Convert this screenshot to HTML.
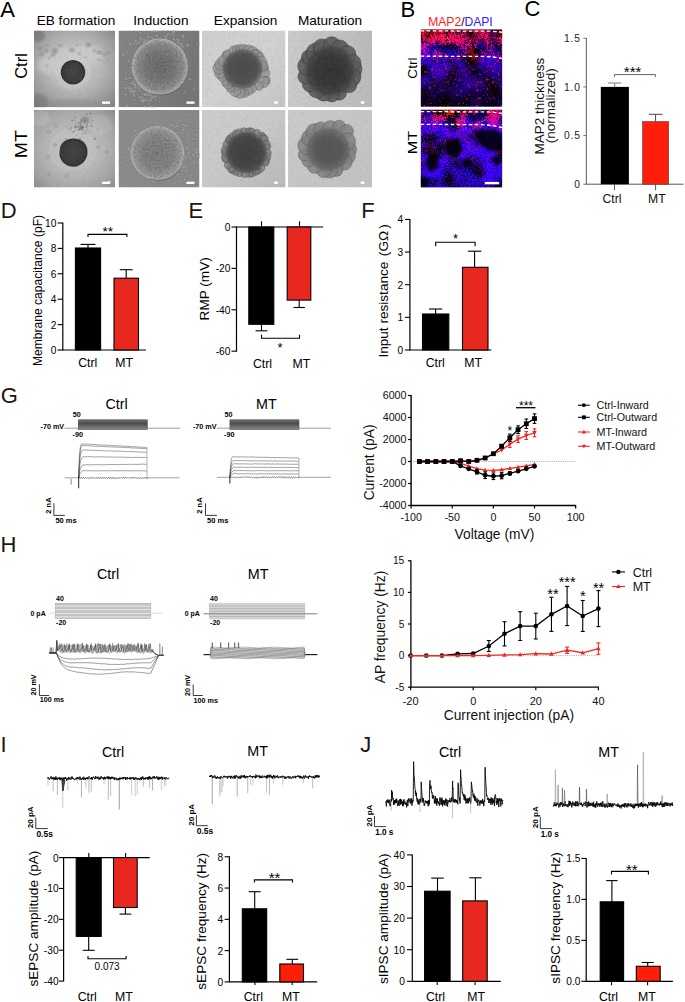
<!DOCTYPE html>
<html><head><meta charset="utf-8"><style>
html,body{margin:0;padding:0;background:#fff;width:685px;height:1002px;overflow:hidden}
svg{display:block}
text{font-family:"Liberation Sans", sans-serif}
</style></head><body>
<svg width="685" height="1002" viewBox="0 0 685 1002" font-family='"Liberation Sans", sans-serif'><defs><clipPath id="ct00"><rect x="34" y="30.5" width="81" height="76.8"/></clipPath><clipPath id="ct01"><rect x="34" y="110" width="81" height="77.5"/></clipPath><clipPath id="ct10"><rect x="118.5" y="30.5" width="81" height="76.8"/></clipPath><clipPath id="ct11"><rect x="118.5" y="110" width="81" height="77.5"/></clipPath><clipPath id="ct20"><rect x="202" y="30.5" width="83.5" height="76.8"/></clipPath><clipPath id="ct21"><rect x="202" y="110" width="83.5" height="77.5"/></clipPath><clipPath id="ct30"><rect x="288" y="30.5" width="84" height="76.8"/></clipPath><clipPath id="ct31"><rect x="288" y="110" width="84" height="77.5"/></clipPath>
<radialGradient id="gEB1" cx="0.48" cy="0.52" r="0.75"><stop offset="0" stop-color="#c4c4c4"/><stop offset="0.45" stop-color="#cdcdcd"/><stop offset="0.75" stop-color="#a6a6a6"/><stop offset="1" stop-color="#6e6e6e"/></radialGradient>
<radialGradient id="gEB2" cx="0.5" cy="0.5" r="0.75"><stop offset="0" stop-color="#bdbdbd"/><stop offset="0.5" stop-color="#c2c2c2"/><stop offset="0.8" stop-color="#a4a4a4"/><stop offset="1" stop-color="#888"/></radialGradient>
<radialGradient id="gDark" cx="0.5" cy="0.5" r="0.5"><stop offset="0" stop-color="#3a3a3a"/><stop offset="0.85" stop-color="#2e2e2e"/><stop offset="1" stop-color="#4a4a4a"/></radialGradient>
<radialGradient id="gSph1" cx="0.45" cy="0.55" r="0.5"><stop offset="0" stop-color="#6a6a6a"/><stop offset="0.7" stop-color="#8a8a8a"/><stop offset="0.92" stop-color="#b0b0b0"/><stop offset="1" stop-color="#c8c8c8"/></radialGradient>
<radialGradient id="gSph2" cx="0.5" cy="0.5" r="0.5"><stop offset="0" stop-color="#7a7a7a"/><stop offset="0.75" stop-color="#939393"/><stop offset="0.93" stop-color="#b2b2b2"/><stop offset="1" stop-color="#c4c4c4"/></radialGradient>
<linearGradient id="gInd1" x1="0" y1="0" x2="1" y2="1"><stop offset="0" stop-color="#7e7e7e"/><stop offset="1" stop-color="#727272"/></linearGradient>
<linearGradient id="gInd2" x1="0" y1="0" x2="1" y2="1"><stop offset="0" stop-color="#8e8e8e"/><stop offset="1" stop-color="#868686"/></linearGradient>
<radialGradient id="gBlob1" cx="0.5" cy="0.5" r="0.5"><stop offset="0" stop-color="#4a4a4a"/><stop offset="0.7" stop-color="#555"/><stop offset="1" stop-color="#7a7a7a"/></radialGradient>
<radialGradient id="gBlob2" cx="0.5" cy="0.5" r="0.5"><stop offset="0" stop-color="#383838"/><stop offset="0.7" stop-color="#444"/><stop offset="1" stop-color="#666"/></radialGradient>
<radialGradient id="gBlob3" cx="0.5" cy="0.55" r="0.5"><stop offset="0" stop-color="#2e2e2e"/><stop offset="0.6" stop-color="#3c3c3c"/><stop offset="1" stop-color="#606060"/></radialGradient>
<radialGradient id="gBlob4" cx="0.5" cy="0.5" r="0.5"><stop offset="0" stop-color="#505050"/><stop offset="0.6" stop-color="#5c5c5c"/><stop offset="1" stop-color="#7c7c7c"/></radialGradient>
<linearGradient id="gExp" x1="0" y1="0" x2="1" y2="1"><stop offset="0" stop-color="#d4d4d4"/><stop offset="1" stop-color="#c8c8c8"/></linearGradient>
<linearGradient id="gMat" x1="0" y1="0" x2="1" y2="1"><stop offset="0" stop-color="#cacaca"/><stop offset="1" stop-color="#bdbdbd"/></linearGradient>
<filter id="blur1"><feGaussianBlur stdDeviation="1"/></filter>
<filter id="blur05"><feGaussianBlur stdDeviation="0.5"/></filter>
<filter id="blur2"><feGaussianBlur stdDeviation="2"/></filter>

<filter id="tex" x="0" y="0" width="100%" height="100%" color-interpolation-filters="sRGB">
 <feTurbulence type="fractalNoise" baseFrequency="0.35" numOctaves="3" seed="2"/>
 <feColorMatrix type="matrix" values="0 0 0 0 0.5  0 0 0 0 0.5  0 0 0 0 0.5  2.2 0 0 0 -1.0"/>
</filter>
<filter id="tex2" x="0" y="0" width="100%" height="100%" color-interpolation-filters="sRGB">
 <feTurbulence type="fractalNoise" baseFrequency="0.35" numOctaves="3" seed="5"/>
 <feColorMatrix type="matrix" values="0 0 0 0 0  0 0 0 0 0  0 0 0 0 0  0 2.2 0 0 -1.0"/>
</filter>
<radialGradient id="gEB1b" cx="0.5" cy="0.45" r="0.7"><stop offset="0" stop-color="#c2c2c2"/><stop offset="0.45" stop-color="#bababa"/><stop offset="0.7" stop-color="#a4a4a4"/><stop offset="1" stop-color="#868686"/></radialGradient>
<radialGradient id="gEB2b" cx="0.5" cy="0.5" r="0.7"><stop offset="0" stop-color="#c0c0c0"/><stop offset="0.5" stop-color="#b6b6b6"/><stop offset="0.8" stop-color="#a2a2a2"/><stop offset="1" stop-color="#8c8c8c"/></radialGradient>
<radialGradient id="gDk" cx="0.5" cy="0.5" r="0.5"><stop offset="0" stop-color="#424242"/><stop offset="0.8" stop-color="#383838"/><stop offset="0.95" stop-color="#2c2c2c"/><stop offset="1" stop-color="#555"/></radialGradient>
<radialGradient id="gS1" cx="0.5" cy="0.5" r="0.5"><stop offset="0" stop-color="#6a6a6a"/><stop offset="0.55" stop-color="#787878"/><stop offset="0.85" stop-color="#8e8e8e"/><stop offset="0.96" stop-color="#aaa"/><stop offset="1" stop-color="#bcbcbc"/></radialGradient>
<radialGradient id="gS2" cx="0.5" cy="0.5" r="0.5"><stop offset="0" stop-color="#7c7c7c"/><stop offset="0.6" stop-color="#858585"/><stop offset="0.88" stop-color="#989898"/><stop offset="0.97" stop-color="#b0b0b0"/><stop offset="1" stop-color="#a0a0a0"/></radialGradient>
<radialGradient id="gC3" cx="0.5" cy="0.5" r="0.5"><stop offset="0" stop-color="#4a4a4a"/><stop offset="0.7" stop-color="#525252"/><stop offset="0.88" stop-color="#5e5e5e" stop-opacity="0.85"/><stop offset="1" stop-color="#6a6a6a" stop-opacity="0"/></radialGradient>
<radialGradient id="gC7" cx="0.5" cy="0.5" r="0.5"><stop offset="0" stop-color="#3e3e3e"/><stop offset="0.75" stop-color="#474747"/><stop offset="0.9" stop-color="#525252" stop-opacity="0.85"/><stop offset="1" stop-color="#5c5c5c" stop-opacity="0"/></radialGradient>
<radialGradient id="gC4" cx="0.5" cy="0.52" r="0.5"><stop offset="0" stop-color="#323232"/><stop offset="0.6" stop-color="#3a3a3a"/><stop offset="0.85" stop-color="#444" stop-opacity="0.85"/><stop offset="1" stop-color="#4e4e4e" stop-opacity="0"/></radialGradient>
<radialGradient id="gC8" cx="0.5" cy="0.5" r="0.5"><stop offset="0" stop-color="#525252"/><stop offset="0.6" stop-color="#5a5a5a"/><stop offset="0.88" stop-color="#666" stop-opacity="0.8"/><stop offset="1" stop-color="#707070" stop-opacity="0"/></radialGradient>
<linearGradient id="gI1" x1="0" y1="0" x2="1" y2="0.3"><stop offset="0" stop-color="#848484"/><stop offset="1" stop-color="#767676"/></linearGradient>
<linearGradient id="gI2" x1="0" y1="0" x2="1" y2="0.3"><stop offset="0" stop-color="#8c8c8c"/><stop offset="1" stop-color="#888"/></linearGradient>
<linearGradient id="gX3" x1="0" y1="0" x2="1" y2="1"><stop offset="0" stop-color="#cfcfcf"/><stop offset="0.5" stop-color="#d2d2d2"/><stop offset="1" stop-color="#c6c6c6"/></linearGradient>
<linearGradient id="gX7" x1="0" y1="0" x2="1" y2="1"><stop offset="0" stop-color="#cdcdcd"/><stop offset="0.5" stop-color="#c9c9c9"/><stop offset="1" stop-color="#b8b8b8"/></linearGradient>
<linearGradient id="gM4" x1="0" y1="0" x2="1" y2="0"><stop offset="0" stop-color="#cbcbcb"/><stop offset="1" stop-color="#bababa"/></linearGradient>
<linearGradient id="gM8" x1="0" y1="0" x2="1" y2="1"><stop offset="0" stop-color="#cbcbcb"/><stop offset="1" stop-color="#c2c2c2"/></linearGradient>
<filter id="grain" x="0" y="0" width="100%" height="100%" color-interpolation-filters="sRGB">
 <feTurbulence type="fractalNoise" baseFrequency="0.55" numOctaves="2" seed="7"/>
 <feColorMatrix type="matrix" values="0 0 0 0 1  0 0 0 0 1  0 0 0 0 1  1.8 0 0 0 -0.75"/>
</filter>
<filter id="grainD" x="0" y="0" width="100%" height="100%" color-interpolation-filters="sRGB">
 <feTurbulence type="fractalNoise" baseFrequency="0.55" numOctaves="2" seed="13"/>
 <feColorMatrix type="matrix" values="0 0 0 0 0  0 0 0 0 0  0 0 0 0 0  0 1.8 0 0 -0.75"/>
</filter>
<clipPath id="cs1"><circle cx="159.8" cy="66.6" r="28"/></clipPath>
<clipPath id="cs2"><circle cx="157.4" cy="153" r="27"/></clipPath>
<clipPath id="ceb1"><circle cx="73" cy="72.2" r="12.3"/></clipPath>
<clipPath id="ceb2"><ellipse cx="73.2" cy="152.8" rx="14.6" ry="13.8"/></clipPath><filter id="nBlue" x="0" y="0" width="100%" height="100%" color-interpolation-filters="sRGB">
 <feTurbulence type="fractalNoise" baseFrequency="0.8" numOctaves="2" seed="4" result="h0"/>
 <feColorMatrix in="h0" type="matrix" values="1 0 0 0 0  0 1 0 0 0  0 0 1 0 0  0 0 0 0 1" result="h"/>
 <feTurbulence type="fractalNoise" baseFrequency="0.05" numOctaves="2" seed="12" result="l0"/>
 <feColorMatrix in="l0" type="matrix" values="1 0 0 0 0  0 1 0 0 0  0 0 1 0 0  0 0 0 0 1" result="l"/>
 <feComposite in="h" in2="l" operator="arithmetic" k1="2.2" k2="0" k3="0" k4="0" result="m"/>
 <feColorMatrix in="m" type="matrix" values="0 0.45 0 0 -0.12  0 0 0 0 0  0 3.0 0 0 -0.95  0 0 0 0 1"/>
</filter><filter id="nRed" x="0" y="0" width="100%" height="100%" color-interpolation-filters="sRGB">
 <feTurbulence type="fractalNoise" baseFrequency="0.7" numOctaves="2" seed="9" result="h0"/>
 <feColorMatrix in="h0" type="matrix" values="1 0 0 0 0  0 1 0 0 0  0 0 1 0 0  0 0 0 0 1" result="h"/>
 <feTurbulence type="fractalNoise" baseFrequency="0.09" numOctaves="2" seed="15" result="l0"/>
 <feColorMatrix in="l0" type="matrix" values="1 0 0 0 0  0 1 0 0 0  0 0 1 0 0  0 0 0 0 1" result="l"/>
 <feComposite in="h" in2="l" operator="arithmetic" k1="2.2" k2="0" k3="0" k4="0" result="m"/>
 <feColorMatrix in="m" type="matrix" values="4.2 0 0 0 -1.75  0 0.6 0 0 -0.35  0.25 0 0 0 -0.1  4.2 0 0 0 -1.75"/>
</filter>
<linearGradient id="mR1" x1="0" y1="0" x2="0" y2="1"><stop offset="0" stop-color="#fff"/><stop offset="0.15" stop-color="#fff"/><stop offset="0.33" stop-color="#fff" stop-opacity="0.55"/><stop offset="0.42" stop-color="#fff" stop-opacity="0.15"/><stop offset="1" stop-color="#fff" stop-opacity="0.1"/></linearGradient>
<mask id="mRed1" maskContentUnits="objectBoundingBox"><rect width="1" height="1" fill="url(#mR1)"/></mask>
<linearGradient id="mB1" x1="0" y1="0" x2="0" y2="1"><stop offset="0" stop-color="#fff" stop-opacity="0.15"/><stop offset="0.2" stop-color="#fff" stop-opacity="0.6"/><stop offset="0.4" stop-color="#fff" stop-opacity="0.95"/><stop offset="0.7" stop-color="#fff" stop-opacity="0.85"/><stop offset="1" stop-color="#fff" stop-opacity="0.6"/></linearGradient>
<mask id="mBlue1" maskContentUnits="objectBoundingBox"><rect width="1" height="1" fill="url(#mB1)"/></mask>
<linearGradient id="mR2" x1="0" y1="0" x2="0" y2="1"><stop offset="0" stop-color="#fff"/><stop offset="0.19" stop-color="#fff" stop-opacity="0.8"/><stop offset="0.26" stop-color="#fff" stop-opacity="0.25"/><stop offset="0.5" stop-color="#fff" stop-opacity="0.12"/><stop offset="1" stop-color="#fff" stop-opacity="0.04"/></linearGradient>
<mask id="mRed2" maskContentUnits="objectBoundingBox"><rect width="1" height="1" fill="url(#mR2)"/></mask>
<linearGradient id="mB2" x1="0" y1="0" x2="0" y2="1"><stop offset="0" stop-color="#fff" stop-opacity="0.5"/><stop offset="0.25" stop-color="#fff" stop-opacity="1"/><stop offset="1" stop-color="#fff" stop-opacity="1"/></linearGradient>
<mask id="mBlue2" maskContentUnits="objectBoundingBox"><rect width="1" height="1" fill="url(#mB2)"/></mask>
<clipPath id="cB1"><rect x="420.7" y="29.3" width="81.6" height="77.5"/></clipPath>
<clipPath id="cB2"><rect x="420.7" y="109.6" width="81.6" height="77.9"/></clipPath>
<filter id="blur15"><feGaussianBlur stdDeviation="1.5"/></filter>
<filter id="nDots" x="0" y="0" width="100%" height="100%" color-interpolation-filters="sRGB">
 <feTurbulence type="fractalNoise" baseFrequency="0.38" numOctaves="1" seed="21"/>
 <feColorMatrix type="matrix" values="0 0 0 0 0.8  0 0 0 0 0.1  0 0 0 0 0.18  10 0 0 0 -6.3"/>
</filter><linearGradient id="dk1" x1="0" y1="0" x2="0.3" y2="1"><stop offset="0" stop-color="#000" stop-opacity="0"/><stop offset="1" stop-color="#000" stop-opacity="0.45"/></linearGradient><linearGradient id="gBlk" x1="0" y1="0" x2="0" y2="1"><stop offset="0" stop-color="#6e6e6e"/><stop offset="0.4" stop-color="#4c4c4c"/><stop offset="1" stop-color="#8c8c8c"/></linearGradient></defs><rect width="685" height="1002" fill="#fff"/><text x="0.3" y="16.6" font-size="22" text-anchor="start" fill="#000">A</text>
<text x="76" y="25.4" font-size="13.6" text-anchor="middle" fill="#000">EB formation</text>
<text x="160.9" y="25.4" font-size="13.6" text-anchor="middle" fill="#000">Induction</text>
<text x="245.6" y="25.4" font-size="13.6" text-anchor="middle" fill="#000">Expansion</text>
<text x="330" y="25.4" font-size="13.6" text-anchor="middle" fill="#000">Maturation</text>
<text x="27.2" y="66" font-size="16.5" text-anchor="middle" fill="#000" transform="rotate(-90 27.2 66)">Ctrl</text>
<text x="27.2" y="144.2" font-size="16.5" text-anchor="middle" fill="#000" transform="rotate(-90 27.2 144.2)" textLength="28" lengthAdjust="spacingAndGlyphs">MT</text>
<g clip-path="url(#ct00)">
<rect x="34" y="30.5" width="81" height="76.8" fill="url(#gEB1b)" stroke="none" stroke-width="1"/>
<ellipse cx="38" cy="36" rx="7" ry="6" fill="#6a6a6a" opacity="0.5" filter="url(#blur1)"/>
<ellipse cx="38" cy="102" rx="10" ry="8" fill="#707070" opacity="0.45" filter="url(#blur1)"/>
<ellipse cx="75" cy="104" rx="30" ry="5" fill="#8a8a8a" opacity="0.35" filter="url(#blur1)"/>
<ellipse cx="70" cy="60" rx="34" ry="13" fill="#d4d4d4" opacity="0.55" filter="url(#blur2)" transform="rotate(-12 70 60)"/>
<ellipse cx="73" cy="72" rx="18" ry="17" fill="#cfcfcf" opacity="0.5" filter="url(#blur1)"/>
<ellipse cx="104.69" cy="54.24" rx="2.11" ry="1.56" fill="#7a7a7a" opacity="0.55" filter="url(#blur1)"/>
<ellipse cx="52.93" cy="55.26" rx="2.33" ry="1.83" fill="#7a7a7a" opacity="0.55" filter="url(#blur1)"/>
<ellipse cx="46.59" cy="50.67" rx="1.36" ry="1.85" fill="#7a7a7a" opacity="0.55" filter="url(#blur1)"/>
<ellipse cx="88.54" cy="44.92" rx="2.97" ry="2.05" fill="#7a7a7a" opacity="0.55" filter="url(#blur1)"/>
<ellipse cx="85.77" cy="57.54" rx="1.48" ry="0.82" fill="#7a7a7a" opacity="0.55" filter="url(#blur1)"/>
<ellipse cx="76.99" cy="45.31" rx="1.54" ry="1.11" fill="#7a7a7a" opacity="0.55" filter="url(#blur1)"/>
<ellipse cx="42.11" cy="54.21" rx="1.99" ry="1.9" fill="#7a7a7a" opacity="0.55" filter="url(#blur1)"/>
<ellipse cx="72.01" cy="50.12" rx="3" ry="2.09" fill="#7a7a7a" opacity="0.55" filter="url(#blur1)"/>
<ellipse cx="98.82" cy="59.57" rx="1.77" ry="1.1" fill="#7a7a7a" opacity="0.55" filter="url(#blur1)"/>
<ellipse cx="60.23" cy="45.54" rx="2.58" ry="1.32" fill="#7a7a7a" opacity="0.55" filter="url(#blur1)"/>
<ellipse cx="99.26" cy="52.5" rx="2.92" ry="1.9" fill="#7a7a7a" opacity="0.55" filter="url(#blur1)"/>
<ellipse cx="40.04" cy="48.61" rx="2.84" ry="1.41" fill="#7a7a7a" opacity="0.55" filter="url(#blur1)"/>
<ellipse cx="108.63" cy="52.74" rx="1.33" ry="1.62" fill="#7a7a7a" opacity="0.55" filter="url(#blur1)"/>
<ellipse cx="94.5" cy="49.94" rx="1.36" ry="1.23" fill="#7a7a7a" opacity="0.55" filter="url(#blur1)"/>
<ellipse cx="107.49" cy="60.68" rx="1.41" ry="1.12" fill="#7a7a7a" opacity="0.55" filter="url(#blur1)"/>
<ellipse cx="47.07" cy="45.32" rx="2.63" ry="1.03" fill="#7a7a7a" opacity="0.55" filter="url(#blur1)"/>
<ellipse cx="79.15" cy="53.84" rx="1.54" ry="1.75" fill="#7a7a7a" opacity="0.55" filter="url(#blur1)"/>
<ellipse cx="49.17" cy="58.16" rx="1.41" ry="1.35" fill="#7a7a7a" opacity="0.55" filter="url(#blur1)"/>
<ellipse cx="54.9" cy="49.94" rx="2.95" ry="1.84" fill="#7a7a7a" opacity="0.55" filter="url(#blur1)"/>
<ellipse cx="54.75" cy="52.67" rx="2.74" ry="1.63" fill="#7a7a7a" opacity="0.55" filter="url(#blur1)"/>
<ellipse cx="47.02" cy="65.76" rx="1.58" ry="1.14" fill="#7a7a7a" opacity="0.55" filter="url(#blur1)"/>
<ellipse cx="94.09" cy="51.24" rx="1.73" ry="0.9" fill="#7a7a7a" opacity="0.55" filter="url(#blur1)"/>
<circle cx="73" cy="72.2" r="12.3" fill="url(#gDk)" stroke="none" stroke-width="1"/>
<rect x="60" y="59" width="26" height="26" clip-path="url(#ceb1)" filter="url(#grain)" opacity="0.08"/>
<rect x="34" y="30.5" width="81" height="76.8" filter="url(#tex)" opacity="0.12"/>
<rect x="102" y="101.5" width="8" height="2.3" fill="#fff" stroke="none" stroke-width="1"/>
</g>
<g clip-path="url(#ct01)">
<rect x="34" y="110" width="81" height="77.5" fill="url(#gEB2b)" stroke="none" stroke-width="1"/>
<ellipse cx="73" cy="150" rx="24" ry="22" fill="#cdcdcd" opacity="0.3" filter="url(#blur1)"/>
<ellipse cx="40" cy="118" rx="10" ry="8" fill="#c8c8c8" opacity="0.4" filter="url(#blur1)"/>
<ellipse cx="100" cy="125" rx="12" ry="10" fill="#c6c6c6" opacity="0.3" filter="url(#blur1)"/>
<circle cx="81.89" cy="121.92" r="0.49" fill="#5a5a5a" stroke="none" stroke-width="1" opacity="0.63"/>
<circle cx="85.97" cy="131.51" r="0.68" fill="#5a5a5a" stroke="none" stroke-width="1" opacity="0.54"/>
<circle cx="86.03" cy="133.71" r="0.65" fill="#5a5a5a" stroke="none" stroke-width="1" opacity="0.64"/>
<circle cx="97.29" cy="129.67" r="0.45" fill="#5a5a5a" stroke="none" stroke-width="1" opacity="0.63"/>
<circle cx="66.71" cy="126.48" r="0.46" fill="#5a5a5a" stroke="none" stroke-width="1" opacity="0.43"/>
<circle cx="90.38" cy="132.43" r="0.67" fill="#5a5a5a" stroke="none" stroke-width="1" opacity="0.38"/>
<circle cx="81.03" cy="129.3" r="0.47" fill="#5a5a5a" stroke="none" stroke-width="1" opacity="0.52"/>
<circle cx="69.9" cy="130.58" r="0.4" fill="#5a5a5a" stroke="none" stroke-width="1" opacity="0.64"/>
<circle cx="91.41" cy="125.89" r="0.8" fill="#5a5a5a" stroke="none" stroke-width="1" opacity="0.64"/>
<circle cx="86.44" cy="130.75" r="0.4" fill="#5a5a5a" stroke="none" stroke-width="1" opacity="0.61"/>
<circle cx="76.77" cy="126.33" r="0.62" fill="#5a5a5a" stroke="none" stroke-width="1" opacity="0.61"/>
<circle cx="76.63" cy="126.02" r="0.91" fill="#5a5a5a" stroke="none" stroke-width="1" opacity="0.32"/>
<circle cx="90.44" cy="113.48" r="0.8" fill="#5a5a5a" stroke="none" stroke-width="1" opacity="0.68"/>
<circle cx="75.17" cy="126.18" r="0.63" fill="#5a5a5a" stroke="none" stroke-width="1" opacity="0.6"/>
<circle cx="80.8" cy="121.13" r="0.92" fill="#5a5a5a" stroke="none" stroke-width="1" opacity="0.31"/>
<circle cx="78.01" cy="127.04" r="0.56" fill="#5a5a5a" stroke="none" stroke-width="1" opacity="0.7"/>
<circle cx="95.05" cy="138.79" r="0.89" fill="#5a5a5a" stroke="none" stroke-width="1" opacity="0.58"/>
<circle cx="87.42" cy="129.33" r="0.77" fill="#5a5a5a" stroke="none" stroke-width="1" opacity="0.34"/>
<circle cx="79.08" cy="129.51" r="0.86" fill="#5a5a5a" stroke="none" stroke-width="1" opacity="0.67"/>
<circle cx="90.35" cy="122.38" r="0.7" fill="#5a5a5a" stroke="none" stroke-width="1" opacity="0.32"/>
<circle cx="68.24" cy="128.18" r="0.8" fill="#5a5a5a" stroke="none" stroke-width="1" opacity="0.31"/>
<circle cx="83" cy="127.13" r="0.9" fill="#5a5a5a" stroke="none" stroke-width="1" opacity="0.35"/>
<circle cx="73.86" cy="131.34" r="0.88" fill="#5a5a5a" stroke="none" stroke-width="1" opacity="0.35"/>
<circle cx="79.13" cy="137.29" r="0.4" fill="#5a5a5a" stroke="none" stroke-width="1" opacity="0.37"/>
<circle cx="97.42" cy="129.37" r="0.49" fill="#5a5a5a" stroke="none" stroke-width="1" opacity="0.5"/>
<circle cx="65.65" cy="138.67" r="0.78" fill="#5a5a5a" stroke="none" stroke-width="1" opacity="0.54"/>
<circle cx="74.48" cy="127.31" r="0.85" fill="#5a5a5a" stroke="none" stroke-width="1" opacity="0.34"/>
<circle cx="75.78" cy="123.52" r="0.52" fill="#5a5a5a" stroke="none" stroke-width="1" opacity="0.48"/>
<circle cx="83.5" cy="134.45" r="0.39" fill="#5a5a5a" stroke="none" stroke-width="1" opacity="0.31"/>
<circle cx="81.92" cy="129.02" r="0.88" fill="#5a5a5a" stroke="none" stroke-width="1" opacity="0.5"/>
<circle cx="74.73" cy="117.6" r="0.45" fill="#5a5a5a" stroke="none" stroke-width="1" opacity="0.68"/>
<circle cx="74.19" cy="131.43" r="0.64" fill="#5a5a5a" stroke="none" stroke-width="1" opacity="0.58"/>
<circle cx="80.53" cy="123.09" r="0.85" fill="#5a5a5a" stroke="none" stroke-width="1" opacity="0.47"/>
<circle cx="79.91" cy="138.99" r="0.87" fill="#5a5a5a" stroke="none" stroke-width="1" opacity="0.64"/>
<circle cx="73.1" cy="138.9" r="0.82" fill="#5a5a5a" stroke="none" stroke-width="1" opacity="0.69"/>
<circle cx="80.88" cy="102.29" r="0.64" fill="#5a5a5a" stroke="none" stroke-width="1" opacity="0.6"/>
<circle cx="81.66" cy="119.82" r="0.65" fill="#5a5a5a" stroke="none" stroke-width="1" opacity="0.46"/>
<circle cx="84.63" cy="122.7" r="0.8" fill="#5a5a5a" stroke="none" stroke-width="1" opacity="0.52"/>
<circle cx="78.39" cy="122.03" r="0.4" fill="#5a5a5a" stroke="none" stroke-width="1" opacity="0.57"/>
<circle cx="84.05" cy="131.48" r="0.82" fill="#5a5a5a" stroke="none" stroke-width="1" opacity="0.32"/>
<circle cx="87.91" cy="122.76" r="0.69" fill="#5a5a5a" stroke="none" stroke-width="1" opacity="0.57"/>
<circle cx="81.39" cy="127.44" r="0.78" fill="#5a5a5a" stroke="none" stroke-width="1" opacity="0.53"/>
<circle cx="71.66" cy="118.42" r="0.51" fill="#5a5a5a" stroke="none" stroke-width="1" opacity="0.36"/>
<circle cx="82.43" cy="126.59" r="0.66" fill="#5a5a5a" stroke="none" stroke-width="1" opacity="0.55"/>
<circle cx="82.86" cy="126.29" r="0.77" fill="#5a5a5a" stroke="none" stroke-width="1" opacity="0.33"/>
<circle cx="70.67" cy="129.39" r="0.86" fill="#5a5a5a" stroke="none" stroke-width="1" opacity="0.32"/>
<circle cx="79.96" cy="123.59" r="0.59" fill="#5a5a5a" stroke="none" stroke-width="1" opacity="0.69"/>
<circle cx="81.65" cy="125.07" r="0.35" fill="#5a5a5a" stroke="none" stroke-width="1" opacity="0.31"/>
<circle cx="80.38" cy="125.35" r="0.82" fill="#5a5a5a" stroke="none" stroke-width="1" opacity="0.62"/>
<circle cx="86.78" cy="114.16" r="0.73" fill="#5a5a5a" stroke="none" stroke-width="1" opacity="0.63"/>
<circle cx="69.97" cy="124.63" r="0.39" fill="#5a5a5a" stroke="none" stroke-width="1" opacity="0.52"/>
<circle cx="86.93" cy="126.64" r="0.78" fill="#5a5a5a" stroke="none" stroke-width="1" opacity="0.37"/>
<circle cx="71.32" cy="127.86" r="0.81" fill="#5a5a5a" stroke="none" stroke-width="1" opacity="0.43"/>
<circle cx="75.54" cy="127.76" r="0.7" fill="#5a5a5a" stroke="none" stroke-width="1" opacity="0.68"/>
<circle cx="72.22" cy="132.75" r="0.68" fill="#5a5a5a" stroke="none" stroke-width="1" opacity="0.38"/>
<circle cx="78.4" cy="123.09" r="0.72" fill="#5a5a5a" stroke="none" stroke-width="1" opacity="0.7"/>
<circle cx="76.37" cy="135.36" r="0.55" fill="#5a5a5a" stroke="none" stroke-width="1" opacity="0.56"/>
<circle cx="82.97" cy="133.6" r="0.82" fill="#5a5a5a" stroke="none" stroke-width="1" opacity="0.39"/>
<circle cx="76.94" cy="130.4" r="0.44" fill="#5a5a5a" stroke="none" stroke-width="1" opacity="0.57"/>
<circle cx="84.19" cy="120.6" r="0.62" fill="#5a5a5a" stroke="none" stroke-width="1" opacity="0.42"/>
<circle cx="69.49" cy="128.15" r="0.52" fill="#5a5a5a" stroke="none" stroke-width="1" opacity="0.37"/>
<circle cx="85.85" cy="127.29" r="0.6" fill="#5a5a5a" stroke="none" stroke-width="1" opacity="0.51"/>
<circle cx="72.03" cy="120.84" r="0.88" fill="#5a5a5a" stroke="none" stroke-width="1" opacity="0.62"/>
<circle cx="75.12" cy="116.99" r="0.68" fill="#5a5a5a" stroke="none" stroke-width="1" opacity="0.49"/>
<circle cx="92.76" cy="120.55" r="0.58" fill="#5a5a5a" stroke="none" stroke-width="1" opacity="0.65"/>
<circle cx="69.44" cy="131.29" r="0.36" fill="#5a5a5a" stroke="none" stroke-width="1" opacity="0.54"/>
<circle cx="87.11" cy="124.88" r="0.87" fill="#5a5a5a" stroke="none" stroke-width="1" opacity="0.57"/>
<circle cx="82.77" cy="127.31" r="0.55" fill="#5a5a5a" stroke="none" stroke-width="1" opacity="0.69"/>
<circle cx="74.79" cy="120.25" r="0.87" fill="#5a5a5a" stroke="none" stroke-width="1" opacity="0.44"/>
<ellipse cx="85" cy="120" rx="4" ry="3" fill="#666" opacity="0.5" filter="url(#blur1)"/>
<ellipse cx="81" cy="128" rx="2.5" ry="2" fill="#555" opacity="0.6" filter="url(#blur1)"/>
<circle cx="56" cy="125" r="1.8" fill="#bcbcbc" stroke="#7a7a7a" stroke-width="0.5"/>
<circle cx="49" cy="132" r="1.5" fill="#bcbcbc" stroke="#7a7a7a" stroke-width="0.5"/>
<circle cx="55" cy="145" r="1.4" fill="#bcbcbc" stroke="#7a7a7a" stroke-width="0.5"/>
<circle cx="48" cy="157" r="1.7" fill="#bcbcbc" stroke="#7a7a7a" stroke-width="0.5"/>
<circle cx="98" cy="147" r="1.2" fill="#bcbcbc" stroke="#7a7a7a" stroke-width="0.5"/>
<circle cx="107" cy="152" r="1.3" fill="#bcbcbc" stroke="#7a7a7a" stroke-width="0.5"/>
<circle cx="49" cy="174" r="1.3" fill="#bcbcbc" stroke="#7a7a7a" stroke-width="0.5"/>
<circle cx="67" cy="176" r="1.6" fill="#bcbcbc" stroke="#7a7a7a" stroke-width="0.5"/>
<circle cx="109" cy="182" r="2.6" fill="#bcbcbc" stroke="#7a7a7a" stroke-width="0.5"/>
<circle cx="102" cy="191" r="1.7" fill="#bcbcbc" stroke="#7a7a7a" stroke-width="0.5"/>
<circle cx="43" cy="183" r="1.2" fill="#bcbcbc" stroke="#7a7a7a" stroke-width="0.5"/>
<circle cx="57" cy="189" r="1.1" fill="#bcbcbc" stroke="#7a7a7a" stroke-width="0.5"/>
<path d="M59.5 151 Q60 142 67 139.5 Q76 137 83 141 Q88.5 146 87.5 154 Q86 163 77 166.5 Q68 168 62.5 162 Q58.5 157 59.5 151 Z" fill="url(#gDk)"/>
<rect x="58" y="138" width="30" height="30" clip-path="url(#ceb2)" filter="url(#grain)" opacity="0.08"/>
<rect x="34" y="110" width="81" height="77.5" filter="url(#tex)" opacity="0.12"/>
<rect x="102" y="181.7" width="8" height="2.3" fill="#fff" stroke="none" stroke-width="1"/>
</g>
<g clip-path="url(#ct10)">
<rect x="118.5" y="30.5" width="81" height="76.8" fill="url(#gI1)" stroke="none" stroke-width="1"/>
<circle cx="132.63" cy="91.62" r="1.53" fill="#a4a4a4" stroke="#6a6a6a" stroke-width="0.35" opacity="0.85"/>
<circle cx="127.39" cy="105.89" r="1.3" fill="#a4a4a4" stroke="#6a6a6a" stroke-width="0.35" opacity="0.85"/>
<circle cx="148.37" cy="94.68" r="1.32" fill="#a4a4a4" stroke="#6a6a6a" stroke-width="0.35" opacity="0.85"/>
<circle cx="146.2" cy="100.26" r="1.57" fill="#a4a4a4" stroke="#6a6a6a" stroke-width="0.35" opacity="0.85"/>
<circle cx="153.36" cy="96.26" r="1.39" fill="#a4a4a4" stroke="#6a6a6a" stroke-width="0.35" opacity="0.85"/>
<circle cx="142.21" cy="94.1" r="1.12" fill="#a4a4a4" stroke="#6a6a6a" stroke-width="0.35" opacity="0.85"/>
<circle cx="142.42" cy="96.92" r="0.89" fill="#a4a4a4" stroke="#6a6a6a" stroke-width="0.35" opacity="0.85"/>
<circle cx="138.17" cy="95.33" r="0.97" fill="#a4a4a4" stroke="#6a6a6a" stroke-width="0.35" opacity="0.85"/>
<circle cx="150.72" cy="100.45" r="1.3" fill="#a4a4a4" stroke="#6a6a6a" stroke-width="0.35" opacity="0.85"/>
<circle cx="121.61" cy="81.97" r="1.06" fill="#a4a4a4" stroke="#6a6a6a" stroke-width="0.35" opacity="0.85"/>
<circle cx="139.33" cy="97.55" r="1.3" fill="#a4a4a4" stroke="#6a6a6a" stroke-width="0.35" opacity="0.85"/>
<circle cx="155.26" cy="99.55" r="1.12" fill="#a4a4a4" stroke="#6a6a6a" stroke-width="0.35" opacity="0.85"/>
<circle cx="138.84" cy="88.16" r="1.33" fill="#a4a4a4" stroke="#6a6a6a" stroke-width="0.35" opacity="0.85"/>
<circle cx="155.52" cy="96.86" r="1.21" fill="#a4a4a4" stroke="#6a6a6a" stroke-width="0.35" opacity="0.85"/>
<circle cx="149.15" cy="99.47" r="0.76" fill="#a4a4a4" stroke="#6a6a6a" stroke-width="0.35" opacity="0.85"/>
<circle cx="150.58" cy="95.38" r="1.32" fill="#a4a4a4" stroke="#6a6a6a" stroke-width="0.35" opacity="0.85"/>
<circle cx="128.17" cy="86.77" r="1.13" fill="#a4a4a4" stroke="#6a6a6a" stroke-width="0.35" opacity="0.85"/>
<circle cx="133.91" cy="95.68" r="1.49" fill="#a4a4a4" stroke="#6a6a6a" stroke-width="0.35" opacity="0.85"/>
<circle cx="141.28" cy="100.29" r="1.32" fill="#a4a4a4" stroke="#6a6a6a" stroke-width="0.35" opacity="0.85"/>
<circle cx="154.49" cy="105.29" r="0.78" fill="#a4a4a4" stroke="#6a6a6a" stroke-width="0.35" opacity="0.85"/>
<circle cx="152.91" cy="107.33" r="1.49" fill="#a4a4a4" stroke="#6a6a6a" stroke-width="0.35" opacity="0.85"/>
<circle cx="117.25" cy="86.39" r="0.81" fill="#a4a4a4" stroke="#6a6a6a" stroke-width="0.35" opacity="0.85"/>
<circle cx="133.7" cy="84.25" r="1.41" fill="#a4a4a4" stroke="#6a6a6a" stroke-width="0.35" opacity="0.85"/>
<circle cx="146.55" cy="109.8" r="0.86" fill="#a4a4a4" stroke="#6a6a6a" stroke-width="0.35" opacity="0.85"/>
<circle cx="132.98" cy="80.92" r="1.1" fill="#a4a4a4" stroke="#6a6a6a" stroke-width="0.35" opacity="0.85"/>
<circle cx="115.16" cy="84.12" r="0.83" fill="#a4a4a4" stroke="#6a6a6a" stroke-width="0.35" opacity="0.85"/>
<circle cx="126.19" cy="76.74" r="0.76" fill="#a4a4a4" stroke="#6a6a6a" stroke-width="0.35" opacity="0.85"/>
<circle cx="135.41" cy="90.89" r="1.32" fill="#a4a4a4" stroke="#6a6a6a" stroke-width="0.35" opacity="0.85"/>
<circle cx="141.1" cy="97.13" r="1.44" fill="#a4a4a4" stroke="#6a6a6a" stroke-width="0.35" opacity="0.85"/>
<circle cx="152.36" cy="97.28" r="1.54" fill="#a4a4a4" stroke="#6a6a6a" stroke-width="0.35" opacity="0.85"/>
<circle cx="147.22" cy="94.1" r="1.58" fill="#a4a4a4" stroke="#6a6a6a" stroke-width="0.35" opacity="0.85"/>
<circle cx="128.72" cy="78.31" r="0.99" fill="#a4a4a4" stroke="#6a6a6a" stroke-width="0.35" opacity="0.85"/>
<circle cx="150.2" cy="105.16" r="0.71" fill="#a4a4a4" stroke="#6a6a6a" stroke-width="0.35" opacity="0.85"/>
<circle cx="125.29" cy="94.62" r="1.47" fill="#a4a4a4" stroke="#6a6a6a" stroke-width="0.35" opacity="0.85"/>
<circle cx="132.31" cy="100.61" r="0.91" fill="#a4a4a4" stroke="#6a6a6a" stroke-width="0.35" opacity="0.85"/>
<circle cx="143.97" cy="98.78" r="1.29" fill="#a4a4a4" stroke="#6a6a6a" stroke-width="0.35" opacity="0.85"/>
<circle cx="133.52" cy="92.53" r="1.54" fill="#a4a4a4" stroke="#6a6a6a" stroke-width="0.35" opacity="0.85"/>
<circle cx="145.72" cy="93.98" r="1.31" fill="#a4a4a4" stroke="#6a6a6a" stroke-width="0.35" opacity="0.85"/>
<circle cx="130.47" cy="77.93" r="0.9" fill="#a4a4a4" stroke="#6a6a6a" stroke-width="0.35" opacity="0.85"/>
<circle cx="153.43" cy="96.69" r="0.83" fill="#a4a4a4" stroke="#6a6a6a" stroke-width="0.35" opacity="0.85"/>
<circle cx="150.68" cy="99.09" r="1.1" fill="#a4a4a4" stroke="#6a6a6a" stroke-width="0.35" opacity="0.85"/>
<circle cx="130.82" cy="88.34" r="1.31" fill="#a4a4a4" stroke="#6a6a6a" stroke-width="0.35" opacity="0.85"/>
<circle cx="129.02" cy="88.43" r="1.19" fill="#a4a4a4" stroke="#6a6a6a" stroke-width="0.35" opacity="0.85"/>
<circle cx="148.94" cy="104.05" r="1.19" fill="#a4a4a4" stroke="#6a6a6a" stroke-width="0.35" opacity="0.85"/>
<circle cx="142.39" cy="97.63" r="0.92" fill="#a4a4a4" stroke="#6a6a6a" stroke-width="0.35" opacity="0.85"/>
<circle cx="134.27" cy="100.08" r="1.11" fill="#a4a4a4" stroke="#6a6a6a" stroke-width="0.35" opacity="0.85"/>
<circle cx="144.97" cy="94.71" r="1.59" fill="#a4a4a4" stroke="#6a6a6a" stroke-width="0.35" opacity="0.85"/>
<circle cx="134.52" cy="82.23" r="1.09" fill="#a4a4a4" stroke="#6a6a6a" stroke-width="0.35" opacity="0.85"/>
<circle cx="135.22" cy="84.96" r="1.56" fill="#a4a4a4" stroke="#6a6a6a" stroke-width="0.35" opacity="0.85"/>
<circle cx="122.29" cy="87.76" r="1.12" fill="#a4a4a4" stroke="#6a6a6a" stroke-width="0.35" opacity="0.85"/>
<circle cx="129.13" cy="74.8" r="1.07" fill="#a4a4a4" stroke="#6a6a6a" stroke-width="0.35" opacity="0.85"/>
<circle cx="140.84" cy="90.45" r="0.95" fill="#a4a4a4" stroke="#6a6a6a" stroke-width="0.35" opacity="0.85"/>
<circle cx="130.58" cy="91.3" r="1.47" fill="#a4a4a4" stroke="#6a6a6a" stroke-width="0.35" opacity="0.85"/>
<circle cx="151.59" cy="106.47" r="1.32" fill="#a4a4a4" stroke="#6a6a6a" stroke-width="0.35" opacity="0.85"/>
<circle cx="143.37" cy="100.76" r="1.58" fill="#a4a4a4" stroke="#6a6a6a" stroke-width="0.35" opacity="0.85"/>
<circle cx="124.8" cy="84.99" r="1.01" fill="#a4a4a4" stroke="#6a6a6a" stroke-width="0.35" opacity="0.85"/>
<circle cx="128.06" cy="86.75" r="1.08" fill="#a4a4a4" stroke="#6a6a6a" stroke-width="0.35" opacity="0.85"/>
<circle cx="142.35" cy="102.97" r="0.91" fill="#a4a4a4" stroke="#6a6a6a" stroke-width="0.35" opacity="0.85"/>
<circle cx="148.35" cy="94.5" r="0.91" fill="#a4a4a4" stroke="#6a6a6a" stroke-width="0.35" opacity="0.85"/>
<circle cx="148.22" cy="97.37" r="0.84" fill="#a4a4a4" stroke="#6a6a6a" stroke-width="0.35" opacity="0.85"/>
<circle cx="125.73" cy="88.23" r="1.51" fill="#a4a4a4" stroke="#6a6a6a" stroke-width="0.35" opacity="0.85"/>
<circle cx="137.55" cy="94.82" r="0.73" fill="#a4a4a4" stroke="#6a6a6a" stroke-width="0.35" opacity="0.85"/>
<circle cx="144.73" cy="107.08" r="1.53" fill="#a4a4a4" stroke="#6a6a6a" stroke-width="0.35" opacity="0.85"/>
<circle cx="139.19" cy="89.06" r="0.9" fill="#a4a4a4" stroke="#6a6a6a" stroke-width="0.35" opacity="0.85"/>
<circle cx="132.66" cy="90.9" r="1.54" fill="#a4a4a4" stroke="#6a6a6a" stroke-width="0.35" opacity="0.85"/>
<circle cx="129.6" cy="77.86" r="1.22" fill="#a4a4a4" stroke="#6a6a6a" stroke-width="0.35" opacity="0.85"/>
<circle cx="139.03" cy="90.94" r="0.74" fill="#a4a4a4" stroke="#6a6a6a" stroke-width="0.35" opacity="0.85"/>
<circle cx="135.37" cy="87.51" r="1.34" fill="#a4a4a4" stroke="#6a6a6a" stroke-width="0.35" opacity="0.85"/>
<circle cx="109.47" cy="79.43" r="1.06" fill="#a4a4a4" stroke="#6a6a6a" stroke-width="0.35" opacity="0.85"/>
<circle cx="146.59" cy="110.89" r="0.75" fill="#a4a4a4" stroke="#6a6a6a" stroke-width="0.35" opacity="0.85"/>
<circle cx="138.57" cy="43.02" r="1.34" fill="#a4a4a4" stroke="#6a6a6a" stroke-width="0.35" opacity="0.85"/>
<circle cx="165.63" cy="35.71" r="1.05" fill="#a4a4a4" stroke="#6a6a6a" stroke-width="0.35" opacity="0.85"/>
<circle cx="166.06" cy="36.62" r="1.18" fill="#a4a4a4" stroke="#6a6a6a" stroke-width="0.35" opacity="0.85"/>
<circle cx="166" cy="37.53" r="1.17" fill="#a4a4a4" stroke="#6a6a6a" stroke-width="0.35" opacity="0.85"/>
<circle cx="179.49" cy="44.58" r="0.9" fill="#a4a4a4" stroke="#6a6a6a" stroke-width="0.35" opacity="0.85"/>
<circle cx="135.49" cy="41.68" r="1.43" fill="#a4a4a4" stroke="#6a6a6a" stroke-width="0.35" opacity="0.85"/>
<circle cx="171.47" cy="34.66" r="1.15" fill="#a4a4a4" stroke="#6a6a6a" stroke-width="0.35" opacity="0.85"/>
<circle cx="141.51" cy="39" r="1.18" fill="#a4a4a4" stroke="#6a6a6a" stroke-width="0.35" opacity="0.85"/>
<circle cx="136.15" cy="40.62" r="1.3" fill="#a4a4a4" stroke="#6a6a6a" stroke-width="0.35" opacity="0.85"/>
<circle cx="142" cy="36.66" r="0.78" fill="#a4a4a4" stroke="#6a6a6a" stroke-width="0.35" opacity="0.85"/>
<circle cx="148.52" cy="36.93" r="1.37" fill="#a4a4a4" stroke="#6a6a6a" stroke-width="0.35" opacity="0.85"/>
<circle cx="153.88" cy="31.47" r="1.06" fill="#a4a4a4" stroke="#6a6a6a" stroke-width="0.35" opacity="0.85"/>
<circle cx="181.76" cy="44.67" r="1.23" fill="#a4a4a4" stroke="#6a6a6a" stroke-width="0.35" opacity="0.85"/>
<circle cx="167.33" cy="34.94" r="1.09" fill="#a4a4a4" stroke="#6a6a6a" stroke-width="0.35" opacity="0.85"/>
<circle cx="163.04" cy="29.44" r="1.5" fill="#a4a4a4" stroke="#6a6a6a" stroke-width="0.35" opacity="0.85"/>
<circle cx="178.56" cy="40.37" r="1.28" fill="#a4a4a4" stroke="#6a6a6a" stroke-width="0.35" opacity="0.85"/>
<circle cx="156.68" cy="31.56" r="1.26" fill="#a4a4a4" stroke="#6a6a6a" stroke-width="0.35" opacity="0.85"/>
<circle cx="180.03" cy="42.96" r="1.32" fill="#a4a4a4" stroke="#6a6a6a" stroke-width="0.35" opacity="0.85"/>
<circle cx="152.6" cy="38.14" r="1.52" fill="#a4a4a4" stroke="#6a6a6a" stroke-width="0.35" opacity="0.85"/>
<circle cx="167.79" cy="30.35" r="1.18" fill="#a4a4a4" stroke="#6a6a6a" stroke-width="0.35" opacity="0.85"/>
<circle cx="187.59" cy="45.39" r="1.54" fill="#a4a4a4" stroke="#6a6a6a" stroke-width="0.35" opacity="0.85"/>
<circle cx="182.55" cy="46.97" r="0.85" fill="#a4a4a4" stroke="#6a6a6a" stroke-width="0.35" opacity="0.85"/>
<circle cx="131.33" cy="43.28" r="1.05" fill="#a4a4a4" stroke="#6a6a6a" stroke-width="0.35" opacity="0.85"/>
<circle cx="140.6" cy="33.04" r="1.32" fill="#a4a4a4" stroke="#6a6a6a" stroke-width="0.35" opacity="0.85"/>
<circle cx="182.74" cy="46.49" r="1.3" fill="#a4a4a4" stroke="#6a6a6a" stroke-width="0.35" opacity="0.85"/>
<circle cx="140.2" cy="37.17" r="1.07" fill="#a4a4a4" stroke="#6a6a6a" stroke-width="0.35" opacity="0.85"/>
<circle cx="137.26" cy="42.08" r="0.77" fill="#a4a4a4" stroke="#6a6a6a" stroke-width="0.35" opacity="0.85"/>
<circle cx="152.46" cy="37.97" r="0.84" fill="#a4a4a4" stroke="#6a6a6a" stroke-width="0.35" opacity="0.85"/>
<circle cx="136.57" cy="43.66" r="0.99" fill="#a4a4a4" stroke="#6a6a6a" stroke-width="0.35" opacity="0.85"/>
<circle cx="173.92" cy="35.6" r="1.07" fill="#a4a4a4" stroke="#6a6a6a" stroke-width="0.35" opacity="0.85"/>
<circle cx="143.83" cy="40.13" r="1.37" fill="#a4a4a4" stroke="#6a6a6a" stroke-width="0.35" opacity="0.85"/>
<circle cx="140.07" cy="39.32" r="1.12" fill="#a4a4a4" stroke="#6a6a6a" stroke-width="0.35" opacity="0.85"/>
<circle cx="177.56" cy="39.73" r="1.46" fill="#a4a4a4" stroke="#6a6a6a" stroke-width="0.35" opacity="0.85"/>
<circle cx="168.61" cy="32.87" r="0.9" fill="#a4a4a4" stroke="#6a6a6a" stroke-width="0.35" opacity="0.85"/>
<circle cx="134.33" cy="43.92" r="1.05" fill="#a4a4a4" stroke="#6a6a6a" stroke-width="0.35" opacity="0.85"/>
<circle cx="182.84" cy="36.02" r="1.57" fill="#a4a4a4" stroke="#6a6a6a" stroke-width="0.35" opacity="0.85"/>
<circle cx="181.32" cy="46.09" r="0.95" fill="#a4a4a4" stroke="#6a6a6a" stroke-width="0.35" opacity="0.85"/>
<circle cx="143.55" cy="42.41" r="1.28" fill="#a4a4a4" stroke="#6a6a6a" stroke-width="0.35" opacity="0.85"/>
<circle cx="173.44" cy="31.92" r="1.56" fill="#a4a4a4" stroke="#6a6a6a" stroke-width="0.35" opacity="0.85"/>
<circle cx="167.97" cy="34.18" r="1.13" fill="#a4a4a4" stroke="#6a6a6a" stroke-width="0.35" opacity="0.85"/>
<circle cx="178.16" cy="42.16" r="1.35" fill="#a4a4a4" stroke="#6a6a6a" stroke-width="0.35" opacity="0.85"/>
<circle cx="185.25" cy="36.66" r="0.75" fill="#a4a4a4" stroke="#6a6a6a" stroke-width="0.35" opacity="0.85"/>
<circle cx="140.28" cy="41.04" r="1.11" fill="#a4a4a4" stroke="#6a6a6a" stroke-width="0.35" opacity="0.85"/>
<circle cx="165.01" cy="37.02" r="1.13" fill="#a4a4a4" stroke="#6a6a6a" stroke-width="0.35" opacity="0.85"/>
<circle cx="182.64" cy="41.05" r="0.82" fill="#a4a4a4" stroke="#6a6a6a" stroke-width="0.35" opacity="0.85"/>
<circle cx="181.69" cy="45.33" r="1.11" fill="#a4a4a4" stroke="#6a6a6a" stroke-width="0.35" opacity="0.85"/>
<circle cx="144.83" cy="41.16" r="1.22" fill="#a4a4a4" stroke="#6a6a6a" stroke-width="0.35" opacity="0.85"/>
<circle cx="146.46" cy="40.16" r="1.2" fill="#a4a4a4" stroke="#6a6a6a" stroke-width="0.35" opacity="0.85"/>
<circle cx="191.8" cy="36.71" r="0.76" fill="#a4a4a4" stroke="#6a6a6a" stroke-width="0.35" opacity="0.85"/>
<circle cx="174.05" cy="39.68" r="1.38" fill="#a4a4a4" stroke="#6a6a6a" stroke-width="0.35" opacity="0.85"/>
<circle cx="204.72" cy="60.51" r="1.36" fill="#a4a4a4" stroke="#6a6a6a" stroke-width="0.35" opacity="0.85"/>
<circle cx="167.33" cy="100.08" r="0.77" fill="#a4a4a4" stroke="#6a6a6a" stroke-width="0.35" opacity="0.85"/>
<circle cx="130.14" cy="44.35" r="1.5" fill="#a4a4a4" stroke="#6a6a6a" stroke-width="0.35" opacity="0.85"/>
<circle cx="185.28" cy="40.04" r="0.81" fill="#a4a4a4" stroke="#6a6a6a" stroke-width="0.35" opacity="0.85"/>
<circle cx="188.69" cy="83.01" r="0.72" fill="#a4a4a4" stroke="#6a6a6a" stroke-width="0.35" opacity="0.85"/>
<circle cx="167.36" cy="114.49" r="0.8" fill="#a4a4a4" stroke="#6a6a6a" stroke-width="0.35" opacity="0.85"/>
<circle cx="185.05" cy="92.68" r="1.07" fill="#a4a4a4" stroke="#6a6a6a" stroke-width="0.35" opacity="0.85"/>
<circle cx="156.47" cy="35.85" r="1.35" fill="#a4a4a4" stroke="#6a6a6a" stroke-width="0.35" opacity="0.85"/>
<circle cx="131.47" cy="83.4" r="1.44" fill="#a4a4a4" stroke="#6a6a6a" stroke-width="0.35" opacity="0.85"/>
<circle cx="160.13" cy="109.3" r="1.03" fill="#a4a4a4" stroke="#6a6a6a" stroke-width="0.35" opacity="0.85"/>
<circle cx="122.05" cy="45.83" r="1.13" fill="#a4a4a4" stroke="#6a6a6a" stroke-width="0.35" opacity="0.85"/>
<circle cx="159.62" cy="101.23" r="0.95" fill="#a4a4a4" stroke="#6a6a6a" stroke-width="0.35" opacity="0.85"/>
<circle cx="170.67" cy="116.21" r="1.51" fill="#a4a4a4" stroke="#6a6a6a" stroke-width="0.35" opacity="0.85"/>
<circle cx="128.52" cy="60.98" r="1.34" fill="#a4a4a4" stroke="#6a6a6a" stroke-width="0.35" opacity="0.85"/>
<circle cx="149.59" cy="100.67" r="1.08" fill="#a4a4a4" stroke="#6a6a6a" stroke-width="0.35" opacity="0.85"/>
<circle cx="159.3" cy="97.24" r="0.79" fill="#a4a4a4" stroke="#6a6a6a" stroke-width="0.35" opacity="0.85"/>
<circle cx="199.12" cy="44.65" r="1.33" fill="#a4a4a4" stroke="#6a6a6a" stroke-width="0.35" opacity="0.85"/>
<circle cx="193.95" cy="88.28" r="1.14" fill="#a4a4a4" stroke="#6a6a6a" stroke-width="0.35" opacity="0.85"/>
<circle cx="202.61" cy="65.35" r="1.39" fill="#a4a4a4" stroke="#6a6a6a" stroke-width="0.35" opacity="0.85"/>
<circle cx="151.76" cy="36.6" r="0.96" fill="#a4a4a4" stroke="#6a6a6a" stroke-width="0.35" opacity="0.85"/>
<circle cx="123.44" cy="54.87" r="1.44" fill="#a4a4a4" stroke="#6a6a6a" stroke-width="0.35" opacity="0.85"/>
<circle cx="126.26" cy="78.92" r="1.37" fill="#a4a4a4" stroke="#6a6a6a" stroke-width="0.35" opacity="0.85"/>
<circle cx="189.96" cy="79.58" r="1.28" fill="#a4a4a4" stroke="#6a6a6a" stroke-width="0.35" opacity="0.85"/>
<circle cx="181.35" cy="44.28" r="1.19" fill="#a4a4a4" stroke="#6a6a6a" stroke-width="0.35" opacity="0.85"/>
<circle cx="127.52" cy="52.61" r="1.05" fill="#a4a4a4" stroke="#6a6a6a" stroke-width="0.35" opacity="0.85"/>
<circle cx="159.8" cy="66.6" r="28" fill="url(#gS1)" stroke="none" stroke-width="1"/>
<rect x="130" y="37" width="60" height="60" clip-path="url(#cs1)" filter="url(#grain)" opacity="0.14"/>
<rect x="130" y="37" width="60" height="60" clip-path="url(#cs1)" filter="url(#grainD)" opacity="0.25"/>
<path d="M183 84 A28 28 0 0 1 152 93.5" stroke="#555" stroke-width="0.6" fill="none" opacity="0.7"/>
<rect x="118.5" y="30.5" width="81" height="76.8" filter="url(#tex)" opacity="0.12"/>
<rect x="186.5" y="101.5" width="8" height="2.3" fill="#fff" stroke="none" stroke-width="1"/>
</g>
<g clip-path="url(#ct11)">
<rect x="118.5" y="110" width="81" height="77.5" fill="url(#gI2)" stroke="none" stroke-width="1"/>
<circle cx="183.3" cy="180.97" r="0.9" fill="#a4a4a4" stroke="#6a6a6a" stroke-width="0.35" opacity="0.85"/>
<circle cx="193.3" cy="139" r="1.34" fill="#a4a4a4" stroke="#6a6a6a" stroke-width="0.35" opacity="0.85"/>
<circle cx="186.18" cy="169.97" r="1.51" fill="#a4a4a4" stroke="#6a6a6a" stroke-width="0.35" opacity="0.85"/>
<circle cx="177.8" cy="133" r="1.29" fill="#a4a4a4" stroke="#6a6a6a" stroke-width="0.35" opacity="0.85"/>
<circle cx="193.65" cy="138.79" r="1.22" fill="#a4a4a4" stroke="#6a6a6a" stroke-width="0.35" opacity="0.85"/>
<circle cx="198.21" cy="142.28" r="0.99" fill="#a4a4a4" stroke="#6a6a6a" stroke-width="0.35" opacity="0.85"/>
<circle cx="191.24" cy="159.18" r="1.12" fill="#a4a4a4" stroke="#6a6a6a" stroke-width="0.35" opacity="0.85"/>
<circle cx="192.06" cy="153.66" r="0.93" fill="#a4a4a4" stroke="#6a6a6a" stroke-width="0.35" opacity="0.85"/>
<circle cx="182.52" cy="133.56" r="1.24" fill="#a4a4a4" stroke="#6a6a6a" stroke-width="0.35" opacity="0.85"/>
<circle cx="183.15" cy="167.86" r="1.45" fill="#a4a4a4" stroke="#6a6a6a" stroke-width="0.35" opacity="0.85"/>
<circle cx="196.91" cy="130.34" r="1.01" fill="#a4a4a4" stroke="#6a6a6a" stroke-width="0.35" opacity="0.85"/>
<circle cx="181.75" cy="182.7" r="0.88" fill="#a4a4a4" stroke="#6a6a6a" stroke-width="0.35" opacity="0.85"/>
<circle cx="191.23" cy="176.02" r="1.42" fill="#a4a4a4" stroke="#6a6a6a" stroke-width="0.35" opacity="0.85"/>
<circle cx="188.77" cy="154.27" r="1.27" fill="#a4a4a4" stroke="#6a6a6a" stroke-width="0.35" opacity="0.85"/>
<circle cx="182.34" cy="175.6" r="1.17" fill="#a4a4a4" stroke="#6a6a6a" stroke-width="0.35" opacity="0.85"/>
<circle cx="174.35" cy="130.55" r="1.04" fill="#a4a4a4" stroke="#6a6a6a" stroke-width="0.35" opacity="0.85"/>
<circle cx="183.42" cy="129.98" r="0.78" fill="#a4a4a4" stroke="#6a6a6a" stroke-width="0.35" opacity="0.85"/>
<circle cx="186.78" cy="127.88" r="0.71" fill="#a4a4a4" stroke="#6a6a6a" stroke-width="0.35" opacity="0.85"/>
<circle cx="181.45" cy="167.6" r="1.26" fill="#a4a4a4" stroke="#6a6a6a" stroke-width="0.35" opacity="0.85"/>
<circle cx="186.83" cy="164.19" r="1.27" fill="#a4a4a4" stroke="#6a6a6a" stroke-width="0.35" opacity="0.85"/>
<circle cx="199.38" cy="154.68" r="0.98" fill="#a4a4a4" stroke="#6a6a6a" stroke-width="0.35" opacity="0.85"/>
<circle cx="183.05" cy="170.58" r="1.32" fill="#a4a4a4" stroke="#6a6a6a" stroke-width="0.35" opacity="0.85"/>
<circle cx="190.76" cy="177.35" r="1.17" fill="#a4a4a4" stroke="#6a6a6a" stroke-width="0.35" opacity="0.85"/>
<circle cx="196.33" cy="152.71" r="1.36" fill="#a4a4a4" stroke="#6a6a6a" stroke-width="0.35" opacity="0.85"/>
<circle cx="204.93" cy="157.78" r="0.88" fill="#a4a4a4" stroke="#6a6a6a" stroke-width="0.35" opacity="0.85"/>
<circle cx="188.8" cy="150.49" r="1.11" fill="#a4a4a4" stroke="#6a6a6a" stroke-width="0.35" opacity="0.85"/>
<circle cx="183.66" cy="124.71" r="1.43" fill="#a4a4a4" stroke="#6a6a6a" stroke-width="0.35" opacity="0.85"/>
<circle cx="190.63" cy="158.47" r="0.98" fill="#a4a4a4" stroke="#6a6a6a" stroke-width="0.35" opacity="0.85"/>
<circle cx="197.68" cy="155.96" r="1.46" fill="#a4a4a4" stroke="#6a6a6a" stroke-width="0.35" opacity="0.85"/>
<circle cx="174.85" cy="127.07" r="1.32" fill="#a4a4a4" stroke="#6a6a6a" stroke-width="0.35" opacity="0.85"/>
<circle cx="184" cy="134.85" r="0.86" fill="#a4a4a4" stroke="#6a6a6a" stroke-width="0.35" opacity="0.85"/>
<circle cx="180.76" cy="127.09" r="0.89" fill="#a4a4a4" stroke="#6a6a6a" stroke-width="0.35" opacity="0.85"/>
<circle cx="181.14" cy="138.04" r="0.77" fill="#a4a4a4" stroke="#6a6a6a" stroke-width="0.35" opacity="0.85"/>
<circle cx="193.32" cy="127.38" r="0.75" fill="#a4a4a4" stroke="#6a6a6a" stroke-width="0.35" opacity="0.85"/>
<circle cx="186.83" cy="151.88" r="0.91" fill="#a4a4a4" stroke="#6a6a6a" stroke-width="0.35" opacity="0.85"/>
<circle cx="188.97" cy="130.14" r="1.14" fill="#a4a4a4" stroke="#6a6a6a" stroke-width="0.35" opacity="0.85"/>
<circle cx="181.21" cy="125.12" r="1.06" fill="#a4a4a4" stroke="#6a6a6a" stroke-width="0.35" opacity="0.85"/>
<circle cx="193.04" cy="154.59" r="1.55" fill="#a4a4a4" stroke="#6a6a6a" stroke-width="0.35" opacity="0.85"/>
<circle cx="190.29" cy="151" r="1.04" fill="#a4a4a4" stroke="#6a6a6a" stroke-width="0.35" opacity="0.85"/>
<circle cx="185.82" cy="167.44" r="1.25" fill="#a4a4a4" stroke="#6a6a6a" stroke-width="0.35" opacity="0.85"/>
<circle cx="185.72" cy="138.39" r="1.02" fill="#a4a4a4" stroke="#6a6a6a" stroke-width="0.35" opacity="0.85"/>
<circle cx="184.85" cy="167.11" r="1.52" fill="#a4a4a4" stroke="#6a6a6a" stroke-width="0.35" opacity="0.85"/>
<circle cx="196.6" cy="147.97" r="1.08" fill="#a4a4a4" stroke="#6a6a6a" stroke-width="0.35" opacity="0.85"/>
<circle cx="174.29" cy="129.67" r="1.01" fill="#a4a4a4" stroke="#6a6a6a" stroke-width="0.35" opacity="0.85"/>
<circle cx="183.52" cy="173.95" r="0.85" fill="#a4a4a4" stroke="#6a6a6a" stroke-width="0.35" opacity="0.85"/>
<circle cx="182.9" cy="167.46" r="0.98" fill="#a4a4a4" stroke="#6a6a6a" stroke-width="0.35" opacity="0.85"/>
<circle cx="184.75" cy="161.48" r="1.09" fill="#a4a4a4" stroke="#6a6a6a" stroke-width="0.35" opacity="0.85"/>
<circle cx="178.32" cy="132.56" r="1.42" fill="#a4a4a4" stroke="#6a6a6a" stroke-width="0.35" opacity="0.85"/>
<circle cx="196.46" cy="150.25" r="1.44" fill="#a4a4a4" stroke="#6a6a6a" stroke-width="0.35" opacity="0.85"/>
<circle cx="183.25" cy="122.33" r="0.79" fill="#a4a4a4" stroke="#6a6a6a" stroke-width="0.35" opacity="0.85"/>
<circle cx="186.8" cy="141.04" r="1.08" fill="#a4a4a4" stroke="#6a6a6a" stroke-width="0.35" opacity="0.85"/>
<circle cx="181.86" cy="180.7" r="1.3" fill="#a4a4a4" stroke="#6a6a6a" stroke-width="0.35" opacity="0.85"/>
<circle cx="179.64" cy="177.15" r="1.21" fill="#a4a4a4" stroke="#6a6a6a" stroke-width="0.35" opacity="0.85"/>
<circle cx="182.3" cy="132.2" r="1.23" fill="#a4a4a4" stroke="#6a6a6a" stroke-width="0.35" opacity="0.85"/>
<circle cx="183.46" cy="129.73" r="1.5" fill="#a4a4a4" stroke="#6a6a6a" stroke-width="0.35" opacity="0.85"/>
<circle cx="183.49" cy="135.85" r="0.89" fill="#a4a4a4" stroke="#6a6a6a" stroke-width="0.35" opacity="0.85"/>
<circle cx="188.02" cy="134.97" r="1.37" fill="#a4a4a4" stroke="#6a6a6a" stroke-width="0.35" opacity="0.85"/>
<circle cx="200.33" cy="156.97" r="0.83" fill="#a4a4a4" stroke="#6a6a6a" stroke-width="0.35" opacity="0.85"/>
<circle cx="198.7" cy="127.86" r="0.82" fill="#a4a4a4" stroke="#6a6a6a" stroke-width="0.35" opacity="0.85"/>
<circle cx="187.56" cy="164.35" r="0.7" fill="#a4a4a4" stroke="#6a6a6a" stroke-width="0.35" opacity="0.85"/>
<circle cx="186.59" cy="138.57" r="0.76" fill="#a4a4a4" stroke="#6a6a6a" stroke-width="0.35" opacity="0.85"/>
<circle cx="181.41" cy="173.31" r="0.96" fill="#a4a4a4" stroke="#6a6a6a" stroke-width="0.35" opacity="0.85"/>
<circle cx="177.04" cy="123.24" r="1.19" fill="#a4a4a4" stroke="#6a6a6a" stroke-width="0.35" opacity="0.85"/>
<circle cx="189.54" cy="109.62" r="1.08" fill="#a4a4a4" stroke="#6a6a6a" stroke-width="0.35" opacity="0.85"/>
<circle cx="185.36" cy="157.45" r="1.37" fill="#a4a4a4" stroke="#6a6a6a" stroke-width="0.35" opacity="0.85"/>
<circle cx="193.59" cy="162.22" r="1.45" fill="#a4a4a4" stroke="#6a6a6a" stroke-width="0.35" opacity="0.85"/>
<circle cx="194.23" cy="191.35" r="0.81" fill="#a4a4a4" stroke="#6a6a6a" stroke-width="0.35" opacity="0.85"/>
<circle cx="188.39" cy="152.48" r="1.31" fill="#a4a4a4" stroke="#6a6a6a" stroke-width="0.35" opacity="0.85"/>
<circle cx="184.45" cy="178.93" r="1.5" fill="#a4a4a4" stroke="#6a6a6a" stroke-width="0.35" opacity="0.85"/>
<circle cx="187.02" cy="149.84" r="0.75" fill="#a4a4a4" stroke="#6a6a6a" stroke-width="0.35" opacity="0.85"/>
<circle cx="186.75" cy="148.8" r="1.43" fill="#a4a4a4" stroke="#6a6a6a" stroke-width="0.35" opacity="0.85"/>
<circle cx="182.57" cy="120.58" r="0.98" fill="#a4a4a4" stroke="#6a6a6a" stroke-width="0.35" opacity="0.85"/>
<circle cx="182.99" cy="174.97" r="1.05" fill="#a4a4a4" stroke="#6a6a6a" stroke-width="0.35" opacity="0.85"/>
<circle cx="186.72" cy="183.99" r="1.46" fill="#a4a4a4" stroke="#6a6a6a" stroke-width="0.35" opacity="0.85"/>
<circle cx="191.72" cy="174.32" r="0.82" fill="#a4a4a4" stroke="#6a6a6a" stroke-width="0.35" opacity="0.85"/>
<circle cx="176.15" cy="127.71" r="0.71" fill="#a4a4a4" stroke="#6a6a6a" stroke-width="0.35" opacity="0.85"/>
<circle cx="188.36" cy="114.21" r="1.22" fill="#a4a4a4" stroke="#6a6a6a" stroke-width="0.35" opacity="0.85"/>
<circle cx="183.18" cy="166.99" r="1.38" fill="#a4a4a4" stroke="#6a6a6a" stroke-width="0.35" opacity="0.85"/>
<circle cx="178.25" cy="174.23" r="1.53" fill="#a4a4a4" stroke="#6a6a6a" stroke-width="0.35" opacity="0.85"/>
<circle cx="193.17" cy="139.01" r="1.33" fill="#a4a4a4" stroke="#6a6a6a" stroke-width="0.35" opacity="0.85"/>
<circle cx="188.13" cy="146.25" r="1.02" fill="#a4a4a4" stroke="#6a6a6a" stroke-width="0.35" opacity="0.85"/>
<circle cx="176.71" cy="126.27" r="1.49" fill="#a4a4a4" stroke="#6a6a6a" stroke-width="0.35" opacity="0.85"/>
<circle cx="184.82" cy="143.76" r="0.71" fill="#a4a4a4" stroke="#6a6a6a" stroke-width="0.35" opacity="0.85"/>
<circle cx="197.18" cy="172.1" r="1.11" fill="#a4a4a4" stroke="#6a6a6a" stroke-width="0.35" opacity="0.85"/>
<circle cx="190.55" cy="116.82" r="0.74" fill="#a4a4a4" stroke="#6a6a6a" stroke-width="0.35" opacity="0.85"/>
<circle cx="196.62" cy="133.56" r="0.86" fill="#a4a4a4" stroke="#6a6a6a" stroke-width="0.35" opacity="0.85"/>
<circle cx="190.65" cy="157.15" r="1.03" fill="#a4a4a4" stroke="#6a6a6a" stroke-width="0.35" opacity="0.85"/>
<circle cx="188.29" cy="185.16" r="0.81" fill="#a4a4a4" stroke="#6a6a6a" stroke-width="0.35" opacity="0.85"/>
<circle cx="183.34" cy="136.62" r="0.87" fill="#a4a4a4" stroke="#6a6a6a" stroke-width="0.35" opacity="0.85"/>
<circle cx="185.66" cy="156.31" r="1.2" fill="#a4a4a4" stroke="#6a6a6a" stroke-width="0.35" opacity="0.85"/>
<circle cx="185.66" cy="125.67" r="1.56" fill="#a4a4a4" stroke="#6a6a6a" stroke-width="0.35" opacity="0.85"/>
<circle cx="140.92" cy="193.11" r="1.39" fill="#a4a4a4" stroke="#6a6a6a" stroke-width="0.35" opacity="0.85"/>
<circle cx="140.3" cy="182.12" r="1.38" fill="#a4a4a4" stroke="#6a6a6a" stroke-width="0.35" opacity="0.85"/>
<circle cx="179.57" cy="182.53" r="1.29" fill="#a4a4a4" stroke="#6a6a6a" stroke-width="0.35" opacity="0.85"/>
<circle cx="137.13" cy="180.5" r="1.05" fill="#a4a4a4" stroke="#6a6a6a" stroke-width="0.35" opacity="0.85"/>
<circle cx="120.33" cy="162.49" r="1.49" fill="#a4a4a4" stroke="#6a6a6a" stroke-width="0.35" opacity="0.85"/>
<circle cx="186.51" cy="136.97" r="1.25" fill="#a4a4a4" stroke="#6a6a6a" stroke-width="0.35" opacity="0.85"/>
<circle cx="213.89" cy="138.21" r="1.44" fill="#a4a4a4" stroke="#6a6a6a" stroke-width="0.35" opacity="0.85"/>
<circle cx="128.65" cy="148.35" r="1.6" fill="#a4a4a4" stroke="#6a6a6a" stroke-width="0.35" opacity="0.85"/>
<circle cx="120.5" cy="116.33" r="0.8" fill="#a4a4a4" stroke="#6a6a6a" stroke-width="0.35" opacity="0.85"/>
<circle cx="171.07" cy="125.21" r="1.58" fill="#a4a4a4" stroke="#6a6a6a" stroke-width="0.35" opacity="0.85"/>
<circle cx="206.29" cy="145.34" r="1.36" fill="#a4a4a4" stroke="#6a6a6a" stroke-width="0.35" opacity="0.85"/>
<circle cx="125.74" cy="178.44" r="1.38" fill="#a4a4a4" stroke="#6a6a6a" stroke-width="0.35" opacity="0.85"/>
<circle cx="135.34" cy="130.68" r="1.44" fill="#a4a4a4" stroke="#6a6a6a" stroke-width="0.35" opacity="0.85"/>
<circle cx="106.91" cy="148.15" r="1.41" fill="#a4a4a4" stroke="#6a6a6a" stroke-width="0.35" opacity="0.85"/>
<circle cx="196.2" cy="134.95" r="1.33" fill="#a4a4a4" stroke="#6a6a6a" stroke-width="0.35" opacity="0.85"/>
<circle cx="183.16" cy="178.49" r="0.94" fill="#a4a4a4" stroke="#6a6a6a" stroke-width="0.35" opacity="0.85"/>
<circle cx="180.47" cy="176.65" r="0.8" fill="#a4a4a4" stroke="#6a6a6a" stroke-width="0.35" opacity="0.85"/>
<circle cx="124.52" cy="156.98" r="1.57" fill="#a4a4a4" stroke="#6a6a6a" stroke-width="0.35" opacity="0.85"/>
<circle cx="115" cy="129.1" r="0.71" fill="#a4a4a4" stroke="#6a6a6a" stroke-width="0.35" opacity="0.85"/>
<circle cx="174.68" cy="197.61" r="0.99" fill="#a4a4a4" stroke="#6a6a6a" stroke-width="0.35" opacity="0.85"/>
<circle cx="151.36" cy="117.43" r="1.11" fill="#a4a4a4" stroke="#6a6a6a" stroke-width="0.35" opacity="0.85"/>
<circle cx="124.75" cy="134.1" r="0.77" fill="#a4a4a4" stroke="#6a6a6a" stroke-width="0.35" opacity="0.85"/>
<circle cx="130.39" cy="122.49" r="1.02" fill="#a4a4a4" stroke="#6a6a6a" stroke-width="0.35" opacity="0.85"/>
<circle cx="186.89" cy="148.54" r="1.53" fill="#a4a4a4" stroke="#6a6a6a" stroke-width="0.35" opacity="0.85"/>
<circle cx="126.21" cy="171.77" r="0.77" fill="#a4a4a4" stroke="#6a6a6a" stroke-width="0.35" opacity="0.85"/>
<circle cx="168.51" cy="115.44" r="0.85" fill="#a4a4a4" stroke="#6a6a6a" stroke-width="0.35" opacity="0.85"/>
<circle cx="180.43" cy="127.09" r="1.01" fill="#a4a4a4" stroke="#6a6a6a" stroke-width="0.35" opacity="0.85"/>
<circle cx="158.76" cy="201.85" r="0.91" fill="#a4a4a4" stroke="#6a6a6a" stroke-width="0.35" opacity="0.85"/>
<circle cx="182.58" cy="176.71" r="1.03" fill="#a4a4a4" stroke="#6a6a6a" stroke-width="0.35" opacity="0.85"/>
<circle cx="146.28" cy="118.88" r="1.26" fill="#a4a4a4" stroke="#6a6a6a" stroke-width="0.35" opacity="0.85"/>
<circle cx="153.77" cy="181.9" r="1.48" fill="#a4a4a4" stroke="#6a6a6a" stroke-width="0.35" opacity="0.85"/>
<circle cx="120.8" cy="155.98" r="1.18" fill="#a4a4a4" stroke="#6a6a6a" stroke-width="0.35" opacity="0.85"/>
<circle cx="111.74" cy="161.49" r="0.71" fill="#a4a4a4" stroke="#6a6a6a" stroke-width="0.35" opacity="0.85"/>
<circle cx="175.09" cy="183.19" r="1.22" fill="#a4a4a4" stroke="#6a6a6a" stroke-width="0.35" opacity="0.85"/>
<circle cx="157.4" cy="153" r="27" fill="url(#gS2)" stroke="none" stroke-width="1"/>
<rect x="128" y="124" width="60" height="60" clip-path="url(#cs2)" filter="url(#grain)" opacity="0.14"/>
<rect x="128" y="124" width="60" height="60" clip-path="url(#cs2)" filter="url(#grainD)" opacity="0.25"/>
<path d="M180 170 A27 27 0 0 1 150 179" stroke="#555" stroke-width="0.6" fill="none" opacity="0.7"/>
<rect x="118.5" y="110" width="81" height="77.5" filter="url(#tex)" opacity="0.12"/>
<rect x="186.5" y="181.7" width="8" height="2.3" fill="#fff" stroke="none" stroke-width="1"/>
</g>
<g clip-path="url(#ct20)">
<rect x="202" y="30.5" width="83.5" height="76.8" fill="url(#gX3)" stroke="none" stroke-width="1"/>
<g filter="url(#blur05)">
<circle cx="263.42" cy="68.12" r="5.02" fill="#909090" stroke="#4e4e4e" stroke-width="0.55" opacity="0.75"/>
<circle cx="264.72" cy="73.24" r="5.14" fill="#909090" stroke="#4e4e4e" stroke-width="0.55" opacity="0.75"/>
<circle cx="266.37" cy="80.21" r="3.98" fill="#909090" stroke="#4e4e4e" stroke-width="0.55" opacity="0.75"/>
<circle cx="263.59" cy="81.95" r="5.65" fill="#909090" stroke="#4e4e4e" stroke-width="0.55" opacity="0.75"/>
<circle cx="258.95" cy="85.91" r="4.35" fill="#909090" stroke="#4e4e4e" stroke-width="0.55" opacity="0.75"/>
<circle cx="251.68" cy="88.29" r="4.86" fill="#909090" stroke="#4e4e4e" stroke-width="0.55" opacity="0.75"/>
<circle cx="248.22" cy="90.46" r="4.87" fill="#909090" stroke="#4e4e4e" stroke-width="0.55" opacity="0.75"/>
<circle cx="244.51" cy="93.28" r="4.17" fill="#909090" stroke="#4e4e4e" stroke-width="0.55" opacity="0.75"/>
<circle cx="239.5" cy="92.6" r="5.71" fill="#909090" stroke="#4e4e4e" stroke-width="0.55" opacity="0.75"/>
<circle cx="235.23" cy="91.1" r="5.44" fill="#909090" stroke="#4e4e4e" stroke-width="0.55" opacity="0.75"/>
<circle cx="230.54" cy="88.46" r="3.98" fill="#909090" stroke="#4e4e4e" stroke-width="0.55" opacity="0.75"/>
<circle cx="228.04" cy="83.79" r="5.12" fill="#909090" stroke="#4e4e4e" stroke-width="0.55" opacity="0.75"/>
<circle cx="225.35" cy="82.31" r="3.91" fill="#909090" stroke="#4e4e4e" stroke-width="0.55" opacity="0.75"/>
<circle cx="222.3" cy="76.61" r="4.86" fill="#909090" stroke="#4e4e4e" stroke-width="0.55" opacity="0.75"/>
<circle cx="220.23" cy="72.92" r="5.74" fill="#909090" stroke="#4e4e4e" stroke-width="0.55" opacity="0.75"/>
<circle cx="218.9" cy="68.19" r="5.83" fill="#909090" stroke="#4e4e4e" stroke-width="0.55" opacity="0.75"/>
<circle cx="220.34" cy="64.68" r="5.57" fill="#909090" stroke="#4e4e4e" stroke-width="0.55" opacity="0.75"/>
<circle cx="223.93" cy="60.93" r="5.86" fill="#909090" stroke="#4e4e4e" stroke-width="0.55" opacity="0.75"/>
<circle cx="225.97" cy="55.39" r="4.05" fill="#909090" stroke="#4e4e4e" stroke-width="0.55" opacity="0.75"/>
<circle cx="227.49" cy="54.17" r="4.31" fill="#909090" stroke="#4e4e4e" stroke-width="0.55" opacity="0.75"/>
<circle cx="233.72" cy="50.78" r="4.78" fill="#909090" stroke="#4e4e4e" stroke-width="0.55" opacity="0.75"/>
<circle cx="236.63" cy="49.61" r="4.49" fill="#909090" stroke="#4e4e4e" stroke-width="0.55" opacity="0.75"/>
<circle cx="240.45" cy="49.26" r="4.67" fill="#909090" stroke="#4e4e4e" stroke-width="0.55" opacity="0.75"/>
<circle cx="244.07" cy="49.62" r="5.1" fill="#909090" stroke="#4e4e4e" stroke-width="0.55" opacity="0.75"/>
<circle cx="248.65" cy="50.91" r="5.79" fill="#909090" stroke="#4e4e4e" stroke-width="0.55" opacity="0.75"/>
<circle cx="252.68" cy="52.49" r="5.85" fill="#909090" stroke="#4e4e4e" stroke-width="0.55" opacity="0.75"/>
<circle cx="256.32" cy="55.31" r="5.98" fill="#909090" stroke="#4e4e4e" stroke-width="0.55" opacity="0.75"/>
<circle cx="260.06" cy="56.96" r="4.19" fill="#909090" stroke="#4e4e4e" stroke-width="0.55" opacity="0.75"/>
<circle cx="260.82" cy="62.08" r="5.92" fill="#909090" stroke="#4e4e4e" stroke-width="0.55" opacity="0.75"/>
<circle cx="262.88" cy="66.03" r="5.07" fill="#909090" stroke="#4e4e4e" stroke-width="0.55" opacity="0.75"/>
<circle cx="242.5" cy="69" r="21" fill="url(#gC3)" stroke="none" stroke-width="1"/>
<circle cx="240.24" cy="59.25" r="4.96" fill="none" stroke="#4e4e4e" stroke-width="0.45" opacity="0.55"/>
<circle cx="232.71" cy="64.12" r="3.48" fill="none" stroke="#4e4e4e" stroke-width="0.45" opacity="0.55"/>
<circle cx="254.54" cy="53.26" r="3.53" fill="none" stroke="#4e4e4e" stroke-width="0.45" opacity="0.55"/>
<circle cx="246.41" cy="57.11" r="3.65" fill="none" stroke="#4e4e4e" stroke-width="0.45" opacity="0.55"/>
<circle cx="237.86" cy="85.39" r="5.04" fill="none" stroke="#4e4e4e" stroke-width="0.45" opacity="0.55"/>
<circle cx="257.02" cy="73.14" r="3.45" fill="none" stroke="#4e4e4e" stroke-width="0.45" opacity="0.55"/>
<circle cx="240.23" cy="57.71" r="5.05" fill="none" stroke="#4e4e4e" stroke-width="0.45" opacity="0.55"/>
<circle cx="256.12" cy="67.34" r="5.28" fill="none" stroke="#4e4e4e" stroke-width="0.45" opacity="0.55"/>
<circle cx="239.45" cy="76.74" r="4.51" fill="none" stroke="#4e4e4e" stroke-width="0.45" opacity="0.55"/>
<circle cx="252.15" cy="70.93" r="4.14" fill="none" stroke="#4e4e4e" stroke-width="0.45" opacity="0.55"/>
<circle cx="235.34" cy="63.04" r="3.44" fill="none" stroke="#4e4e4e" stroke-width="0.45" opacity="0.55"/>
<circle cx="250.12" cy="60.65" r="5.2" fill="none" stroke="#4e4e4e" stroke-width="0.45" opacity="0.55"/>
<circle cx="252.15" cy="61.68" r="4.24" fill="none" stroke="#4e4e4e" stroke-width="0.45" opacity="0.55"/>
<circle cx="227.16" cy="67.05" r="4.5" fill="none" stroke="#4e4e4e" stroke-width="0.45" opacity="0.55"/>
<circle cx="228.38" cy="63.48" r="5.17" fill="none" stroke="#4e4e4e" stroke-width="0.45" opacity="0.55"/>
<circle cx="229.73" cy="68.44" r="4.74" fill="none" stroke="#4e4e4e" stroke-width="0.45" opacity="0.55"/>
<circle cx="243.36" cy="80.11" r="5.24" fill="none" stroke="#4e4e4e" stroke-width="0.45" opacity="0.55"/>
<circle cx="228.37" cy="67.11" r="3.38" fill="none" stroke="#4e4e4e" stroke-width="0.45" opacity="0.55"/>
<circle cx="229.87" cy="76.44" r="3.4" fill="none" stroke="#4e4e4e" stroke-width="0.45" opacity="0.55"/>
<circle cx="231.06" cy="58.81" r="3.48" fill="none" stroke="#4e4e4e" stroke-width="0.45" opacity="0.55"/>
<circle cx="233.29" cy="59.51" r="4.66" fill="none" stroke="#4e4e4e" stroke-width="0.45" opacity="0.55"/>
<circle cx="232.73" cy="82" r="4.78" fill="none" stroke="#4e4e4e" stroke-width="0.45" opacity="0.55"/>
<circle cx="250.53" cy="70.13" r="4.66" fill="none" stroke="#4e4e4e" stroke-width="0.45" opacity="0.55"/>
<circle cx="252.74" cy="66.6" r="4.24" fill="none" stroke="#4e4e4e" stroke-width="0.45" opacity="0.55"/>
</g>
<rect x="202" y="30.5" width="83.5" height="76.8" filter="url(#tex)" opacity="0.12"/>
<rect x="274.3" y="101.3" width="3.5" height="2.5" fill="#fff" stroke="none" stroke-width="1"/>
</g>
<g clip-path="url(#ct21)">
<rect x="202" y="110" width="83.5" height="77.5" fill="url(#gX7)" stroke="none" stroke-width="1"/>
<g filter="url(#blur05)">
<circle cx="267.01" cy="153.01" r="4.31" fill="#7a7a7a" stroke="#404040" stroke-width="0.55" opacity="0.75"/>
<circle cx="266.1" cy="157.28" r="4.65" fill="#7a7a7a" stroke="#404040" stroke-width="0.55" opacity="0.75"/>
<circle cx="265.01" cy="160.69" r="4.62" fill="#7a7a7a" stroke="#404040" stroke-width="0.55" opacity="0.75"/>
<circle cx="265.08" cy="162.35" r="3.84" fill="#7a7a7a" stroke="#404040" stroke-width="0.55" opacity="0.75"/>
<circle cx="260.67" cy="167.7" r="4.15" fill="#7a7a7a" stroke="#404040" stroke-width="0.55" opacity="0.75"/>
<circle cx="258.28" cy="170.78" r="3.23" fill="#7a7a7a" stroke="#404040" stroke-width="0.55" opacity="0.75"/>
<circle cx="256" cy="171.83" r="3.46" fill="#7a7a7a" stroke="#404040" stroke-width="0.55" opacity="0.75"/>
<circle cx="251.9" cy="172.82" r="4.02" fill="#7a7a7a" stroke="#404040" stroke-width="0.55" opacity="0.75"/>
<circle cx="249.96" cy="173.88" r="3.41" fill="#7a7a7a" stroke="#404040" stroke-width="0.55" opacity="0.75"/>
<circle cx="245.13" cy="172.98" r="4.61" fill="#7a7a7a" stroke="#404040" stroke-width="0.55" opacity="0.75"/>
<circle cx="239.42" cy="173.38" r="3.31" fill="#7a7a7a" stroke="#404040" stroke-width="0.55" opacity="0.75"/>
<circle cx="235.45" cy="172.02" r="3.28" fill="#7a7a7a" stroke="#404040" stroke-width="0.55" opacity="0.75"/>
<circle cx="232.35" cy="170.37" r="3.26" fill="#7a7a7a" stroke="#404040" stroke-width="0.55" opacity="0.75"/>
<circle cx="231.66" cy="168.25" r="4.53" fill="#7a7a7a" stroke="#404040" stroke-width="0.55" opacity="0.75"/>
<circle cx="227.76" cy="165.31" r="3.41" fill="#7a7a7a" stroke="#404040" stroke-width="0.55" opacity="0.75"/>
<circle cx="226.43" cy="158.58" r="4.53" fill="#7a7a7a" stroke="#404040" stroke-width="0.55" opacity="0.75"/>
<circle cx="226.29" cy="157.04" r="4.68" fill="#7a7a7a" stroke="#404040" stroke-width="0.55" opacity="0.75"/>
<circle cx="225.47" cy="152.47" r="4.2" fill="#7a7a7a" stroke="#404040" stroke-width="0.55" opacity="0.75"/>
<circle cx="226.13" cy="149.81" r="4.65" fill="#7a7a7a" stroke="#404040" stroke-width="0.55" opacity="0.75"/>
<circle cx="227.6" cy="144.69" r="4.69" fill="#7a7a7a" stroke="#404040" stroke-width="0.55" opacity="0.75"/>
<circle cx="228.81" cy="140.18" r="3.55" fill="#7a7a7a" stroke="#404040" stroke-width="0.55" opacity="0.75"/>
<circle cx="229.96" cy="138.36" r="3.32" fill="#7a7a7a" stroke="#404040" stroke-width="0.55" opacity="0.75"/>
<circle cx="232.17" cy="135.94" r="3.15" fill="#7a7a7a" stroke="#404040" stroke-width="0.55" opacity="0.75"/>
<circle cx="236.38" cy="134.17" r="4.07" fill="#7a7a7a" stroke="#404040" stroke-width="0.55" opacity="0.75"/>
<circle cx="239.04" cy="133.11" r="4.2" fill="#7a7a7a" stroke="#404040" stroke-width="0.55" opacity="0.75"/>
<circle cx="243.77" cy="131.31" r="3.57" fill="#7a7a7a" stroke="#404040" stroke-width="0.55" opacity="0.75"/>
<circle cx="249.34" cy="131.55" r="3.86" fill="#7a7a7a" stroke="#404040" stroke-width="0.55" opacity="0.75"/>
<circle cx="251.55" cy="131.85" r="3.86" fill="#7a7a7a" stroke="#404040" stroke-width="0.55" opacity="0.75"/>
<circle cx="257.12" cy="132.54" r="3.14" fill="#7a7a7a" stroke="#404040" stroke-width="0.55" opacity="0.75"/>
<circle cx="261.78" cy="135.05" r="3.08" fill="#7a7a7a" stroke="#404040" stroke-width="0.55" opacity="0.75"/>
<circle cx="263.08" cy="138.49" r="4.48" fill="#7a7a7a" stroke="#404040" stroke-width="0.55" opacity="0.75"/>
<circle cx="263.95" cy="139.69" r="4.39" fill="#7a7a7a" stroke="#404040" stroke-width="0.55" opacity="0.75"/>
<circle cx="266.18" cy="144.41" r="4.03" fill="#7a7a7a" stroke="#404040" stroke-width="0.55" opacity="0.75"/>
<circle cx="267.67" cy="146.84" r="3.12" fill="#7a7a7a" stroke="#404040" stroke-width="0.55" opacity="0.75"/>
<circle cx="246.3" cy="152.6" r="21.5" fill="url(#gC7)" stroke="none" stroke-width="1"/>
<circle cx="254.65" cy="170.61" r="2.96" fill="none" stroke="#404040" stroke-width="0.45" opacity="0.4"/>
<circle cx="247" cy="133.1" r="4.09" fill="none" stroke="#404040" stroke-width="0.45" opacity="0.4"/>
<circle cx="239.54" cy="162.64" r="3.46" fill="none" stroke="#404040" stroke-width="0.45" opacity="0.4"/>
<circle cx="247.73" cy="143.8" r="3.8" fill="none" stroke="#404040" stroke-width="0.45" opacity="0.4"/>
<circle cx="251.74" cy="134.8" r="2.72" fill="none" stroke="#404040" stroke-width="0.45" opacity="0.4"/>
<circle cx="254.5" cy="149.69" r="3.18" fill="none" stroke="#404040" stroke-width="0.45" opacity="0.4"/>
<circle cx="231.44" cy="140.18" r="3.18" fill="none" stroke="#404040" stroke-width="0.45" opacity="0.4"/>
<circle cx="259.24" cy="145.93" r="3.13" fill="none" stroke="#404040" stroke-width="0.45" opacity="0.4"/>
<circle cx="242.3" cy="161.56" r="2.78" fill="none" stroke="#404040" stroke-width="0.45" opacity="0.4"/>
<circle cx="256.04" cy="165.81" r="4.18" fill="none" stroke="#404040" stroke-width="0.45" opacity="0.4"/>
<circle cx="250.6" cy="159.52" r="4.16" fill="none" stroke="#404040" stroke-width="0.45" opacity="0.4"/>
<circle cx="233.82" cy="149.93" r="3.02" fill="none" stroke="#404040" stroke-width="0.45" opacity="0.4"/>
<circle cx="231.19" cy="142.48" r="3.35" fill="none" stroke="#404040" stroke-width="0.45" opacity="0.4"/>
<circle cx="239.03" cy="156.49" r="4.05" fill="none" stroke="#404040" stroke-width="0.45" opacity="0.4"/>
<circle cx="259.9" cy="155.44" r="3.93" fill="none" stroke="#404040" stroke-width="0.45" opacity="0.4"/>
<circle cx="257.87" cy="165.01" r="4.1" fill="none" stroke="#404040" stroke-width="0.45" opacity="0.4"/>
<circle cx="234.22" cy="139.67" r="2.82" fill="none" stroke="#404040" stroke-width="0.45" opacity="0.4"/>
<circle cx="237.64" cy="156.38" r="3.94" fill="none" stroke="#404040" stroke-width="0.45" opacity="0.4"/>
<circle cx="242.58" cy="165.44" r="4.18" fill="none" stroke="#404040" stroke-width="0.45" opacity="0.4"/>
<circle cx="258.35" cy="136.5" r="3.35" fill="none" stroke="#404040" stroke-width="0.45" opacity="0.4"/>
<circle cx="229.41" cy="153.86" r="3.39" fill="none" stroke="#404040" stroke-width="0.45" opacity="0.4"/>
<circle cx="243.05" cy="164.91" r="2.88" fill="none" stroke="#404040" stroke-width="0.45" opacity="0.4"/>
<circle cx="231.78" cy="166.76" r="4.12" fill="none" stroke="#404040" stroke-width="0.45" opacity="0.4"/>
<circle cx="236.55" cy="142.6" r="3.17" fill="none" stroke="#404040" stroke-width="0.45" opacity="0.4"/>
<circle cx="255.65" cy="158.46" r="3.85" fill="none" stroke="#404040" stroke-width="0.45" opacity="0.4"/>
<circle cx="254.49" cy="143.58" r="3.85" fill="none" stroke="#404040" stroke-width="0.45" opacity="0.4"/>
<circle cx="248.87" cy="136.32" r="3.67" fill="none" stroke="#404040" stroke-width="0.45" opacity="0.4"/>
</g>
<rect x="202" y="110" width="83.5" height="77.5" filter="url(#tex)" opacity="0.12"/>
<rect x="274.3" y="181.5" width="3.5" height="2.5" fill="#fff" stroke="none" stroke-width="1"/>
</g>
<g clip-path="url(#ct30)">
<rect x="288" y="30.5" width="84" height="76.8" fill="url(#gM4)" stroke="none" stroke-width="1"/>
<g filter="url(#blur05)">
<circle cx="352.11" cy="69.03" r="9.86" fill="#5a5a5a" stroke="#2e2e2e" stroke-width="0.55" opacity="0.9"/>
<circle cx="351.96" cy="77.03" r="8.94" fill="#5a5a5a" stroke="#2e2e2e" stroke-width="0.55" opacity="0.9"/>
<circle cx="349.32" cy="85.4" r="7.29" fill="#5a5a5a" stroke="#2e2e2e" stroke-width="0.55" opacity="0.9"/>
<circle cx="339.27" cy="93.05" r="7.15" fill="#5a5a5a" stroke="#2e2e2e" stroke-width="0.55" opacity="0.9"/>
<circle cx="331.67" cy="93.89" r="8.05" fill="#5a5a5a" stroke="#2e2e2e" stroke-width="0.55" opacity="0.9"/>
<circle cx="323.65" cy="92.96" r="8.18" fill="#5a5a5a" stroke="#2e2e2e" stroke-width="0.55" opacity="0.9"/>
<circle cx="317.27" cy="88.7" r="9.39" fill="#5a5a5a" stroke="#2e2e2e" stroke-width="0.55" opacity="0.9"/>
<circle cx="309.66" cy="84.52" r="7.24" fill="#5a5a5a" stroke="#2e2e2e" stroke-width="0.55" opacity="0.9"/>
<circle cx="305.32" cy="76.61" r="7.36" fill="#5a5a5a" stroke="#2e2e2e" stroke-width="0.55" opacity="0.9"/>
<circle cx="307.43" cy="66.13" r="9.65" fill="#5a5a5a" stroke="#2e2e2e" stroke-width="0.55" opacity="0.9"/>
<circle cx="308.28" cy="57.13" r="6.81" fill="#5a5a5a" stroke="#2e2e2e" stroke-width="0.55" opacity="0.9"/>
<circle cx="316.05" cy="52.94" r="9.97" fill="#5a5a5a" stroke="#2e2e2e" stroke-width="0.55" opacity="0.9"/>
<circle cx="321.88" cy="47.57" r="8.63" fill="#5a5a5a" stroke="#2e2e2e" stroke-width="0.55" opacity="0.9"/>
<circle cx="331.79" cy="45.51" r="8.78" fill="#5a5a5a" stroke="#2e2e2e" stroke-width="0.55" opacity="0.9"/>
<circle cx="339.82" cy="48.93" r="8.89" fill="#5a5a5a" stroke="#2e2e2e" stroke-width="0.55" opacity="0.9"/>
<circle cx="347.18" cy="54.32" r="8.74" fill="#5a5a5a" stroke="#2e2e2e" stroke-width="0.55" opacity="0.9"/>
<circle cx="352.42" cy="62.93" r="8.49" fill="#5a5a5a" stroke="#2e2e2e" stroke-width="0.55" opacity="0.9"/>
<circle cx="330" cy="70" r="27" fill="url(#gC4)" stroke="none" stroke-width="1"/>
<circle cx="336.58" cy="78.17" r="8.63" fill="none" stroke="#2e2e2e" stroke-width="0.45" opacity="0.6"/>
<circle cx="317.44" cy="70.9" r="8.63" fill="none" stroke="#2e2e2e" stroke-width="0.45" opacity="0.6"/>
<circle cx="311.3" cy="59.88" r="8.42" fill="none" stroke="#2e2e2e" stroke-width="0.45" opacity="0.6"/>
<circle cx="326.62" cy="84.85" r="8.41" fill="none" stroke="#2e2e2e" stroke-width="0.45" opacity="0.6"/>
<circle cx="344.44" cy="86.37" r="5.91" fill="none" stroke="#2e2e2e" stroke-width="0.45" opacity="0.6"/>
<circle cx="322.36" cy="50.63" r="8.64" fill="none" stroke="#2e2e2e" stroke-width="0.45" opacity="0.6"/>
<circle cx="339.76" cy="55.34" r="6.23" fill="none" stroke="#2e2e2e" stroke-width="0.45" opacity="0.6"/>
<circle cx="340.57" cy="84.59" r="7.23" fill="none" stroke="#2e2e2e" stroke-width="0.45" opacity="0.6"/>
<circle cx="351.7" cy="80.45" r="7.22" fill="none" stroke="#2e2e2e" stroke-width="0.45" opacity="0.6"/>
<circle cx="326.08" cy="57.59" r="6.38" fill="none" stroke="#2e2e2e" stroke-width="0.45" opacity="0.6"/>
<circle cx="344.97" cy="71.12" r="6.45" fill="none" stroke="#2e2e2e" stroke-width="0.45" opacity="0.6"/>
<circle cx="316.21" cy="77.2" r="8.27" fill="none" stroke="#2e2e2e" stroke-width="0.45" opacity="0.6"/>
<circle cx="339.54" cy="62.25" r="6.87" fill="none" stroke="#2e2e2e" stroke-width="0.45" opacity="0.6"/>
</g>
<rect x="288" y="30.5" width="84" height="76.8" filter="url(#tex)" opacity="0.12"/>
<rect x="360.8" y="101.3" width="3.5" height="2.5" fill="#fff" stroke="none" stroke-width="1"/>
</g>
<g clip-path="url(#ct31)">
<rect x="288" y="110" width="84" height="77.5" fill="url(#gM8)" stroke="none" stroke-width="1"/>
<g filter="url(#blur05)">
<circle cx="349.25" cy="149.37" r="7.26" fill="#828282" stroke="#555" stroke-width="0.55" opacity="0.85"/>
<circle cx="346.63" cy="155.5" r="8.92" fill="#828282" stroke="#555" stroke-width="0.55" opacity="0.85"/>
<circle cx="344.43" cy="162.26" r="7.7" fill="#828282" stroke="#555" stroke-width="0.55" opacity="0.85"/>
<circle cx="336.62" cy="169.99" r="6.27" fill="#828282" stroke="#555" stroke-width="0.55" opacity="0.85"/>
<circle cx="329.71" cy="169.85" r="8.08" fill="#828282" stroke="#555" stroke-width="0.55" opacity="0.85"/>
<circle cx="323.71" cy="170.28" r="7.28" fill="#828282" stroke="#555" stroke-width="0.55" opacity="0.85"/>
<circle cx="314.81" cy="165.83" r="7.53" fill="#828282" stroke="#555" stroke-width="0.55" opacity="0.85"/>
<circle cx="308.51" cy="160.62" r="6.53" fill="#828282" stroke="#555" stroke-width="0.55" opacity="0.85"/>
<circle cx="304.67" cy="154.88" r="6.37" fill="#828282" stroke="#555" stroke-width="0.55" opacity="0.85"/>
<circle cx="306.95" cy="145.54" r="9.12" fill="#828282" stroke="#555" stroke-width="0.55" opacity="0.85"/>
<circle cx="310.23" cy="138.14" r="8.61" fill="#828282" stroke="#555" stroke-width="0.55" opacity="0.85"/>
<circle cx="314.47" cy="132.27" r="8.52" fill="#828282" stroke="#555" stroke-width="0.55" opacity="0.85"/>
<circle cx="320.68" cy="128.87" r="6.98" fill="#828282" stroke="#555" stroke-width="0.55" opacity="0.85"/>
<circle cx="330.46" cy="129.18" r="8.45" fill="#828282" stroke="#555" stroke-width="0.55" opacity="0.85"/>
<circle cx="339.1" cy="126.48" r="6.3" fill="#828282" stroke="#555" stroke-width="0.55" opacity="0.85"/>
<circle cx="346.69" cy="131.13" r="6.71" fill="#828282" stroke="#555" stroke-width="0.55" opacity="0.85"/>
<circle cx="346.79" cy="141.45" r="8.73" fill="#828282" stroke="#555" stroke-width="0.55" opacity="0.85"/>
<circle cx="328" cy="149.5" r="23" fill="url(#gC8)" stroke="none" stroke-width="1"/>
<circle cx="334.33" cy="168.77" r="7.89" fill="none" stroke="#555" stroke-width="0.45" opacity="0.45"/>
<circle cx="340.5" cy="153.98" r="6.73" fill="none" stroke="#555" stroke-width="0.45" opacity="0.45"/>
<circle cx="341.76" cy="151.55" r="7.97" fill="none" stroke="#555" stroke-width="0.45" opacity="0.45"/>
<circle cx="340.41" cy="160.04" r="5.61" fill="none" stroke="#555" stroke-width="0.45" opacity="0.45"/>
<circle cx="310.04" cy="139.82" r="5.86" fill="none" stroke="#555" stroke-width="0.45" opacity="0.45"/>
<circle cx="337.19" cy="149.98" r="6.87" fill="none" stroke="#555" stroke-width="0.45" opacity="0.45"/>
<circle cx="337.17" cy="150.51" r="6.74" fill="none" stroke="#555" stroke-width="0.45" opacity="0.45"/>
<circle cx="340.17" cy="142.9" r="6.44" fill="none" stroke="#555" stroke-width="0.45" opacity="0.45"/>
<circle cx="321.99" cy="142.35" r="6.99" fill="none" stroke="#555" stroke-width="0.45" opacity="0.45"/>
<circle cx="335.69" cy="164.04" r="8.12" fill="none" stroke="#555" stroke-width="0.45" opacity="0.45"/>
<circle cx="342.81" cy="154.74" r="7.07" fill="none" stroke="#555" stroke-width="0.45" opacity="0.45"/>
<circle cx="334.95" cy="158.98" r="8.23" fill="none" stroke="#555" stroke-width="0.45" opacity="0.45"/>
<circle cx="337.72" cy="149.38" r="7.37" fill="none" stroke="#555" stroke-width="0.45" opacity="0.45"/>
</g>
<rect x="288" y="110" width="84" height="77.5" filter="url(#tex)" opacity="0.12"/>
<rect x="360.8" y="181.5" width="3.5" height="2.5" fill="#fff" stroke="none" stroke-width="1"/>
</g>
<text x="400.5" y="16.5" font-size="22" text-anchor="start" fill="#000">B</text>
<text x="428.2" y="25.8" font-size="12.1"><tspan fill="#ff1a1a">MAP2</tspan><tspan fill="#000">/</tspan><tspan fill="#3020ff">DAPI</tspan></text>
<text x="417.5" y="68.05" font-size="13.6" text-anchor="middle" fill="#000" transform="rotate(-90 417.5 68.05)">Ctrl</text>
<text x="417.5" y="142.6" font-size="13.6" text-anchor="middle" fill="#000" transform="rotate(-90 417.5 142.6)" textLength="23.5" lengthAdjust="spacingAndGlyphs">MT</text>
<g clip-path="url(#cB1)">
<rect x="420.7" y="29.3" width="81.6" height="77.5" fill="#000" stroke="none" stroke-width="1"/>
<rect x="420.7" y="29.3" width="81.6" height="77.5" filter="url(#nBlue)" mask="url(#mBlue1)" style="mix-blend-mode:screen"/>
<rect x="420.7" y="29.3" width="81.6" height="77.5" filter="url(#nRed)" mask="url(#mRed1)" style="mix-blend-mode:screen"/>
<rect x="420.7" y="29.3" width="81.6" height="14" fill="#ff1010" opacity="0.25" style="mix-blend-mode:screen" filter="url(#blur1)"/>
<rect x="420.7" y="60" width="81.6" height="47" fill="url(#dk1)"/>
<rect x="420.7" y="50" width="81.6" height="57" filter="url(#nDots)" opacity="0.9"/>
<ellipse cx="445" cy="100" rx="14" ry="8" fill="#000" opacity="0.5" filter="url(#blur15)"/>
<ellipse cx="425" cy="96" rx="6" ry="10" fill="#000" opacity="0.5" filter="url(#blur15)"/>
<ellipse cx="490" cy="104" rx="10" ry="4" fill="#000" opacity="0.4" filter="url(#blur15)"/>
<ellipse cx="470" cy="33" rx="3" ry="3" fill="#000" opacity="0.8" filter="url(#blur15)"/>
<ellipse cx="500" cy="35" rx="3" ry="2" fill="#000" opacity="0.8" filter="url(#blur15)"/>
<ellipse cx="438" cy="33" rx="2" ry="2" fill="#000" opacity="0.7" filter="url(#blur15)"/>
<path d="M420.7 30.8 L490 31.2 Q497 31.6 502.3 32.3" stroke="#fff" stroke-width="1.3" fill="none" stroke-dasharray="3.6 2.4"/>
<path d="M420.7 56.2 L485 56.4 Q496 57 502.3 58.6" stroke="#fff" stroke-width="1.3" fill="none" stroke-dasharray="3.6 2.4"/>
</g>
<g clip-path="url(#cB2)">
<rect x="420.7" y="109.6" width="81.6" height="77.9" fill="#000" stroke="none" stroke-width="1"/>
<rect x="420.7" y="109.6" width="81.6" height="77.9" filter="url(#nBlue)" mask="url(#mBlue2)" style="mix-blend-mode:screen"/>
<rect x="420.7" y="109.6" width="81.6" height="77.9" filter="url(#nRed)" mask="url(#mRed2)" style="mix-blend-mode:screen"/>
<rect x="420.7" y="122" width="81.6" height="40" filter="url(#nDots)" opacity="0.6"/>
<path d="M474 131 L494 129 L502 134 L502 150 L490 151 L480 144 Z" fill="#000" opacity="0.85" filter="url(#blur1)"/>
<path d="M446 141 L458 138 L463 150 L457 158 L447 154 Z" fill="#000" opacity="0.85" filter="url(#blur1)"/>
<path d="M428 155 L437 153 L439 168 L430 172 L426 164 Z" fill="#000" opacity="0.85" filter="url(#blur1)"/>
<path d="M490 158 L499 156 L502 162 L496 166 Z" fill="#000" opacity="0.85" filter="url(#blur1)"/>
<path d="M462 160 L470 158 L472 166 L464 168 Z" fill="#000" opacity="0.85" filter="url(#blur1)"/>
<path d="M420 176 L430 178 L428 187 L420 187 Z" fill="#000" opacity="0.85" filter="url(#blur1)"/>
<path d="M420.7 111.6 L488 111.9 Q497 112.3 502.3 113.6" stroke="#fff" stroke-width="1.3" fill="none" stroke-dasharray="3.6 2.4"/>
<path d="M420.7 124.4 L482 124.6 Q495 125.5 502.3 127.6" stroke="#fff" stroke-width="1.3" fill="none" stroke-dasharray="3.6 2.4"/>
<rect x="484.8" y="181.9" width="14.4" height="2.4" fill="#fff" stroke="none" stroke-width="1"/>
</g>
<text x="524.6" y="16.4" font-size="22" text-anchor="start" fill="#000">C</text>
<line x1="586.3" y1="37.95" x2="586.3" y2="184.6" stroke="#444" stroke-width="0.9"/>
<line x1="586.3" y1="184.2" x2="683.5" y2="184.2" stroke="#444" stroke-width="0.9"/>
<line x1="583.3" y1="184.2" x2="586.3" y2="184.2" stroke="#666" stroke-width="0.9"/>
<text x="581" y="187.9" font-size="10.3" text-anchor="end" fill="#222" letter-spacing="0.9">0</text>
<line x1="583.3" y1="135.55" x2="586.3" y2="135.55" stroke="#666" stroke-width="0.9"/>
<text x="581" y="139.25" font-size="10.3" text-anchor="end" fill="#222" letter-spacing="0.9">0.5</text>
<line x1="583.3" y1="86.9" x2="586.3" y2="86.9" stroke="#666" stroke-width="0.9"/>
<text x="581" y="90.6" font-size="10.3" text-anchor="end" fill="#222" letter-spacing="0.9">1.0</text>
<line x1="583.3" y1="38.25" x2="586.3" y2="38.25" stroke="#666" stroke-width="0.9"/>
<text x="581" y="41.95" font-size="10.3" text-anchor="end" fill="#222" letter-spacing="0.9">1.5</text>
<line x1="614.5" y1="184.2" x2="614.5" y2="190.3" stroke="#444" stroke-width="0.9"/>
<line x1="655.6" y1="184.2" x2="655.6" y2="190.3" stroke="#444" stroke-width="0.9"/>
<line x1="614.7" y1="83" x2="614.7" y2="87.5" stroke="#777" stroke-width="1"/>
<line x1="607.9" y1="83" x2="621.3" y2="83" stroke="#888" stroke-width="1.1"/>
<rect x="600.8" y="86.9" width="28.1" height="97.3" fill="#000" stroke="none" stroke-width="1"/>
<line x1="655.6" y1="114.3" x2="655.6" y2="121.5" stroke="#444" stroke-width="1"/>
<line x1="648.9" y1="114.3" x2="662.6" y2="114.3" stroke="#444" stroke-width="1"/>
<rect x="642.6" y="121.5" width="26.1" height="62.7" fill="#ff1e0a" stroke="#444" stroke-width="0.6"/>
<path d="M614.4 77.1 L614.4 74.6 L655.4 74.6 L655.4 77.1" stroke="#555" stroke-width="0.9" fill="none"/>
<text x="632.6" y="77.1" font-size="15" text-anchor="middle" fill="#000">***</text>
<text x="612" y="203" font-size="12.2" text-anchor="middle" fill="#111">Ctrl</text>
<text x="656.8" y="203" font-size="12.2" text-anchor="middle" fill="#111">MT</text>
<text x="544.2" y="106.1" font-size="13.5" text-anchor="middle" fill="#111" transform="rotate(-90 544.2 106.1)">MAP2 thickness</text>
<text x="555.3" y="105.8" font-size="13.5" text-anchor="middle" fill="#111" transform="rotate(-90 555.3 105.8)">(normalized)</text>
<text x="0.8" y="217.6" font-size="22" text-anchor="start" fill="#1e1414">D</text>
<line x1="62.8" y1="222.6" x2="62.8" y2="350.5" stroke="#000" stroke-width="1.2"/>
<line x1="62.8" y1="350" x2="146" y2="350" stroke="#000" stroke-width="1.2"/>
<line x1="57.6" y1="350" x2="62.8" y2="350" stroke="#000" stroke-width="1.1"/>
<text x="56.4" y="353.9" font-size="10.2" text-anchor="end" fill="#000">0</text>
<line x1="57.6" y1="324.6" x2="62.8" y2="324.6" stroke="#000" stroke-width="1.1"/>
<text x="56.4" y="328.5" font-size="10.2" text-anchor="end" fill="#000">2</text>
<line x1="57.6" y1="299.2" x2="62.8" y2="299.2" stroke="#000" stroke-width="1.1"/>
<text x="56.4" y="303.1" font-size="10.2" text-anchor="end" fill="#000">4</text>
<line x1="57.6" y1="273.8" x2="62.8" y2="273.8" stroke="#000" stroke-width="1.1"/>
<text x="56.4" y="277.7" font-size="10.2" text-anchor="end" fill="#000">6</text>
<line x1="57.6" y1="248.4" x2="62.8" y2="248.4" stroke="#000" stroke-width="1.1"/>
<text x="56.4" y="252.3" font-size="10.2" text-anchor="end" fill="#000">8</text>
<line x1="57.6" y1="223" x2="62.8" y2="223" stroke="#000" stroke-width="1.1"/>
<text x="56.4" y="226.9" font-size="10.2" text-anchor="end" fill="#000">10</text>
<line x1="88" y1="244.4" x2="88" y2="248" stroke="#000" stroke-width="1.1"/>
<line x1="80.5" y1="244.4" x2="95.5" y2="244.4" stroke="#000" stroke-width="1.1"/>
<rect x="75.4" y="248" width="25.2" height="102" fill="#000" stroke="#000" stroke-width="1.1"/>
<line x1="126.2" y1="269.7" x2="126.2" y2="278" stroke="#000" stroke-width="1.1"/>
<line x1="119.8" y1="269.7" x2="132.6" y2="269.7" stroke="#000" stroke-width="1.1"/>
<rect x="114" y="278.2" width="24.5" height="71.8" fill="#e8281e" stroke="#000" stroke-width="1.1"/>
<path d="M88 237 L88 234.4 L126.9 234.4 L126.9 237" stroke="#000" stroke-width="1.1" fill="none"/>
<text x="107.8" y="235.9" font-size="13.5" text-anchor="middle" fill="#000">**</text>
<text x="87.7" y="367.1" font-size="12.3" text-anchor="middle" fill="#000">Ctrl</text>
<text x="124.2" y="367.1" font-size="12.3" text-anchor="middle" fill="#000">MT</text>
<text x="41.8" y="290.5" font-size="12.1" text-anchor="middle" fill="#000" transform="rotate(-90 41.8 290.5)">Membrane capacitance (pF)</text>
<text x="188.6" y="217.8" font-size="22" text-anchor="start" fill="#1e1414">E</text>
<line x1="236.5" y1="226.5" x2="236.5" y2="351.6" stroke="#000" stroke-width="1.2"/>
<line x1="236.5" y1="227" x2="323.2" y2="227" stroke="#000" stroke-width="1.2"/>
<line x1="231.5" y1="227" x2="236.5" y2="227" stroke="#000" stroke-width="1.1"/>
<text x="230.4" y="230.9" font-size="10.2" text-anchor="end" fill="#000">0</text>
<line x1="231.5" y1="268.4" x2="236.5" y2="268.4" stroke="#000" stroke-width="1.1"/>
<text x="230.4" y="272.3" font-size="10.2" text-anchor="end" fill="#000">-20</text>
<line x1="231.5" y1="309.8" x2="236.5" y2="309.8" stroke="#000" stroke-width="1.1"/>
<text x="230.4" y="313.7" font-size="10.2" text-anchor="end" fill="#000">-40</text>
<line x1="231.5" y1="351.2" x2="236.5" y2="351.2" stroke="#000" stroke-width="1.1"/>
<text x="230.4" y="355.1" font-size="10.2" text-anchor="end" fill="#000">-60</text>
<line x1="261.5" y1="227" x2="261.5" y2="221.3" stroke="#000" stroke-width="1.1"/>
<line x1="299.5" y1="227" x2="299.5" y2="221.3" stroke="#000" stroke-width="1.1"/>
<rect x="248.8" y="227" width="25" height="97.3" fill="#000" stroke="#000" stroke-width="1.1"/>
<line x1="261.5" y1="330.8" x2="261.5" y2="324.3" stroke="#000" stroke-width="1.1"/>
<line x1="255.6" y1="330.8" x2="267.4" y2="330.8" stroke="#000" stroke-width="1.1"/>
<rect x="287.2" y="227" width="23.6" height="73.1" fill="#e8281e" stroke="#000" stroke-width="1.1"/>
<line x1="299.2" y1="307.5" x2="299.2" y2="300.1" stroke="#000" stroke-width="1.1"/>
<line x1="293.5" y1="307.5" x2="304.9" y2="307.5" stroke="#000" stroke-width="1.1"/>
<path d="M261.5 334.8 L261.5 338.2 L299.5 338.2 L299.5 334.8" stroke="#000" stroke-width="1.1" fill="none"/>
<text x="280" y="352" font-size="13" text-anchor="middle" fill="#000">*</text>
<text x="262.5" y="368.4" font-size="12.3" text-anchor="middle" fill="#000">Ctrl</text>
<text x="301.5" y="368.4" font-size="12.3" text-anchor="middle" fill="#000">MT</text>
<text x="209.5" y="288.8" font-size="13.6" text-anchor="middle" fill="#000" transform="rotate(-90 209.5 288.8)">RMP (mV)</text>
<text x="361.2" y="217.6" font-size="22" text-anchor="start" fill="#1e1414">F</text>
<line x1="409.9" y1="219" x2="409.9" y2="350.5" stroke="#000" stroke-width="1.2"/>
<line x1="409.9" y1="350" x2="491.4" y2="350" stroke="#000" stroke-width="1.2"/>
<line x1="405" y1="350" x2="409.9" y2="350" stroke="#000" stroke-width="1.1"/>
<text x="403.2" y="353.9" font-size="10.2" text-anchor="end" fill="#000">0</text>
<line x1="405" y1="317.35" x2="409.9" y2="317.35" stroke="#000" stroke-width="1.1"/>
<text x="403.2" y="321.25" font-size="10.2" text-anchor="end" fill="#000">1</text>
<line x1="405" y1="284.7" x2="409.9" y2="284.7" stroke="#000" stroke-width="1.1"/>
<text x="403.2" y="288.6" font-size="10.2" text-anchor="end" fill="#000">2</text>
<line x1="405" y1="252.05" x2="409.9" y2="252.05" stroke="#000" stroke-width="1.1"/>
<text x="403.2" y="255.95" font-size="10.2" text-anchor="end" fill="#000">3</text>
<line x1="405" y1="219.4" x2="409.9" y2="219.4" stroke="#000" stroke-width="1.1"/>
<text x="403.2" y="223.3" font-size="10.2" text-anchor="end" fill="#000">4</text>
<line x1="435.6" y1="309" x2="435.6" y2="314" stroke="#000" stroke-width="1.1"/>
<line x1="429" y1="309" x2="442.2" y2="309" stroke="#000" stroke-width="1.1"/>
<rect x="422.5" y="314" width="26.3" height="36" fill="#000" stroke="#000" stroke-width="1.1"/>
<line x1="474.6" y1="251.2" x2="474.6" y2="267.3" stroke="#000" stroke-width="1.1"/>
<line x1="467.8" y1="251.2" x2="481.4" y2="251.2" stroke="#000" stroke-width="1.1"/>
<rect x="462.5" y="267.3" width="25.5" height="82.7" fill="#e8281e" stroke="#000" stroke-width="1.1"/>
<path d="M435.7 246.2 L435.7 242.3 L475.1 242.3 L475.1 246.2" stroke="#000" stroke-width="1.1" fill="none"/>
<text x="455.5" y="243.1" font-size="13" text-anchor="middle" fill="#000">*</text>
<text x="435.2" y="367.2" font-size="12.3" text-anchor="middle" fill="#000">Ctrl</text>
<text x="473.1" y="367.2" font-size="12.3" text-anchor="middle" fill="#000">MT</text>
<text x="387.6" y="357.6" font-size="13.6" transform="rotate(-90 387.6 357.6)">Input resistance<tspan dx="5.5">(</tspan>GΩ<tspan dx="2">)</tspan></text>
<text x="0.8" y="403.2" font-size="22" text-anchor="start" fill="#1e1414">G</text>
<text x="116.6" y="409.4" font-size="14.3" text-anchor="middle" fill="#000">Ctrl</text>
<line x1="64.4" y1="428.2" x2="180" y2="428.2" stroke="#777" stroke-width="0.7"/>
<rect x="78.3" y="419.8" width="69" height="9.8" fill="url(#gBlk)" stroke="#505050" stroke-width="0.6"/>
<text x="64.1" y="428.6" font-size="7.2" text-anchor="end" fill="#000" font-weight="bold">-70 mV</text>
<text x="72.8" y="417.4" font-size="7.2" text-anchor="start" fill="#000" font-weight="bold">50</text>
<text x="72.5" y="437.2" font-size="7.2" text-anchor="start" fill="#000" font-weight="bold">-90</text>
<text x="266.3" y="409.4" font-size="14.3" text-anchor="middle" fill="#000">MT</text>
<line x1="216.8" y1="428.2" x2="331" y2="428.2" stroke="#777" stroke-width="0.7"/>
<rect x="229.9" y="419.8" width="69.1" height="9.8" fill="url(#gBlk)" stroke="#505050" stroke-width="0.6"/>
<text x="216.5" y="428.6" font-size="7.2" text-anchor="end" fill="#000" font-weight="bold">-70 mV</text>
<text x="224.4" y="417.4" font-size="7.2" text-anchor="start" fill="#000" font-weight="bold">50</text>
<text x="224.1" y="437.2" font-size="7.2" text-anchor="start" fill="#000" font-weight="bold">-90</text>
<path d="M64.4 477.8 L78.7 477.8 L79.4 476.95 L80.3 478.6 L81.5 476.9 L82.4 478.79 L83.6 476.94 L84.5 478.63 L85.7 477.36 L86.6 478.54 L87.8 477.38 L88.7 478.74 L89.9 477.13 L90.8 478.68 L92 477.15 L92.9 478.52 L94.1 477.4 L95 478.54 L96.2 477.39 L97.1 478.81 L98.3 476.82 L99.2 478.45 L100.4 477.09 L101.3 478.79 L102.5 476.91 L103.4 478.67 L104.6 477.02 L105.5 478.77 L106.7 477.36 L107.6 478.76 L108.8 476.92 L109.7 478.76 L110.9 477.06 L111.8 478.8 L113 477.08 L113.9 478.84 L115.1 477.39 L116 478.79 L117.2 477.3 L118.1 478.79 L119.3 477.16 L120.2 478.4 L121.4 477.39 L122.3 478.58 L123.5 476.81 L124.4 478.56 L125.6 477.05 L126.5 478.42 L127.7 477.38 L128.6 478.37 L129.8 477.34 L130.7 478.63 L131.9 476.91 L132.8 478.51 L134 477.07 L134.9 478.37 L136.1 477.26 L137 478.69 L138.2 477.39 L139.1 478.8 L140.3 477.27 L141.2 478.9 L142.4 477.36 L143.3 478.69 L144.5 477.12 L145.4 478.61 L146.6 477.29 L147.5 478.86 L146.8 477.8 L179.5 477.8" stroke="#444" stroke-width="0.5" fill="none"/>
<path d="M78.7 477.8 L78.88 470.52 L79.12 463.18 L79.42 456.76 L79.9 450.58 L80.5 446.19 L81.34 444.11 L82.3 443.98 L83.91 444.08 L85.52 444.17 L87.14 444.02 L88.75 444.22 L90.36 444.21 L91.97 444.45 L93.59 444.53 L95.2 444.61 L96.81 444.79 L98.42 444.69 L100.04 444.93 L101.65 444.97 L103.26 444.95 L104.88 445.27 L106.49 445.08 L108.1 445.29 L109.71 445.4 L111.33 445.5 L112.94 445.7 L114.55 445.66 L116.16 445.85 L117.78 445.76 L119.39 445.91 L121 445.89 L122.61 446.13 L124.23 446.15 L125.84 446.35 L127.45 446.23 L129.06 446.43 L130.68 446.66 L132.29 446.46 L133.9 446.75 L135.51 446.84 L137.12 446.94 L138.74 446.98 L140.35 447.05 L141.96 447.28 L143.58 447.16 L145.19 447.37 L146.8 447.45" stroke="#444" stroke-width="0.5" fill="none"/>
<path d="M78.7 477.8 L78.92 470.87 L79.21 463.86 L79.57 457.74 L80.15 451.86 L80.88 447.65 L81.89 445.66 L83.05 445.57 L84.64 445.66 L86.24 445.66 L87.83 445.6 L89.42 445.9 L91.02 445.83 L92.61 446.06 L94.21 446.2 L95.8 446.21 L97.39 446.18 L98.99 446.39 L100.58 446.33 L102.17 446.38 L103.77 446.54 L105.36 446.64 L106.96 446.73 L108.55 446.76 L110.14 446.8 L111.74 446.97 L113.33 446.93 L114.93 447.09 L116.52 446.98 L118.11 447.1 L119.71 447.4 L121.3 447.28 L122.89 447.42 L124.49 447.38 L126.08 447.68 L127.68 447.62 L129.27 447.62 L130.86 447.76 L132.46 448.03 L134.05 448.06 L135.64 447.91 L137.24 448.27 L138.83 448.09 L140.43 448.29 L142.02 448.38 L143.61 448.53 L145.21 448.42 L146.8 448.7" stroke="#444" stroke-width="0.5" fill="none"/>
<path d="M78.7 477.8 L78.95 471.83 L79.3 465.79 L79.72 460.52 L80.4 455.45 L81.25 451.74 L82.44 450.03 L83.8 450.03 L85.38 449.97 L86.95 450.16 L88.52 450.27 L90.1 450.23 L91.67 450.11 L93.25 450.36 L94.83 450.35 L96.4 450.49 L97.97 450.56 L99.55 450.42 L101.12 450.61 L102.7 450.69 L104.28 450.83 L105.85 450.79 L107.42 450.85 L109 450.95 L110.58 450.82 L112.15 451.09 L113.72 451.06 L115.3 451.13 L116.88 451.04 L118.45 451.21 L120.03 451.23 L121.6 451.22 L123.18 451.5 L124.75 451.53 L126.33 451.47 L127.9 451.41 L129.47 451.73 L131.05 451.53 L132.62 451.7 L134.2 451.78 L135.78 451.92 L137.35 451.91 L138.93 451.95 L140.5 451.98 L142.08 452.18 L143.65 452.18 L145.23 452.1 L146.8 452.29" stroke="#444" stroke-width="0.5" fill="none"/>
<path d="M78.7 477.8 L78.99 473.28 L79.38 468.71 L79.87 464.72 L80.65 460.88 L81.62 457.92 L82.99 456.63 L84.55 456.77 L86.11 456.84 L87.66 456.73 L89.22 456.63 L90.77 456.65 L92.33 456.94 L93.89 456.74 L95.44 456.94 L97 456.78 L98.56 456.81 L100.11 456.81 L101.67 457.03 L103.22 456.84 L104.78 456.97 L106.34 457.1 L107.89 457.04 L109.45 456.9 L111.01 456.93 L112.56 457.2 L114.12 457.06 L115.68 457.02 L117.23 457.17 L118.79 457.27 L120.34 457.15 L121.9 457.12 L123.46 457.16 L125.01 457.27 L126.57 457.39 L128.12 457.2 L129.68 457.43 L131.24 457.43 L132.79 457.41 L134.35 457.38 L135.91 457.3 L137.46 457.46 L139.02 457.46 L140.58 457.56 L142.13 457.4 L143.69 457.45 L145.24 457.43 L146.8 457.6" stroke="#444" stroke-width="0.5" fill="none"/>
<path d="M78.7 477.8 L79.03 475.05 L79.47 472.27 L80.02 469.84 L80.9 467.5 L82 465.47 L83.54 464.68 L85.3 465.01 L86.84 464.68 L88.38 464.81 L89.91 464.77 L91.45 464.72 L92.99 464.66 L94.53 464.86 L96.06 464.72 L97.6 464.59 L99.14 464.71 L100.67 464.75 L102.21 464.65 L103.75 464.76 L105.29 464.73 L106.83 464.67 L108.36 464.45 L109.9 464.55 L111.44 464.57 L112.97 464.45 L114.51 464.53 L116.05 464.57 L117.59 464.58 L119.12 464.56 L120.66 464.54 L122.2 464.39 L123.74 464.47 L125.28 464.42 L126.81 464.48 L128.35 464.28 L129.89 464.28 L131.43 464.42 L132.96 464.41 L134.5 464.25 L136.04 464.39 L137.58 464.38 L139.11 464.32 L140.65 464.25 L142.19 464.11 L143.73 464.15 L145.26 464.3 L146.8 464.33" stroke="#444" stroke-width="0.5" fill="none"/>
<path d="M78.7 477.8 L79.07 476.31 L79.56 474.8 L80.17 473.48 L81.15 472.21 L82.38 470.84 L84.09 470.41 L86.05 470.86 L87.57 470.7 L89.09 470.66 L90.61 470.75 L92.12 470.93 L93.64 470.71 L95.16 470.93 L96.68 470.89 L98.2 470.9 L99.72 470.95 L101.24 470.85 L102.76 470.71 L104.28 470.78 L105.79 470.77 L107.31 470.85 L108.83 470.76 L110.35 470.87 L111.87 470.66 L113.39 470.72 L114.91 470.72 L116.43 470.7 L117.94 470.87 L119.46 470.91 L120.98 470.68 L122.5 470.79 L124.02 470.65 L125.54 470.72 L127.06 470.69 L128.57 470.86 L130.09 470.9 L131.61 470.9 L133.13 470.73 L134.65 470.77 L136.17 470.72 L137.69 470.85 L139.21 470.72 L140.73 470.88 L142.24 470.79 L143.76 470.82 L145.28 470.91 L146.8 470.93" stroke="#444" stroke-width="0.5" fill="none"/>
<line x1="147" y1="447.4" x2="147" y2="477.8" stroke="#666" stroke-width="0.5"/>
<line x1="78.7" y1="476.8" x2="78.7" y2="488.3" stroke="#111" stroke-width="0.9"/>
<line x1="71.1" y1="478.8" x2="71.1" y2="484.6" stroke="#333" stroke-width="0.6"/>
<path d="M216.8 477.3 L229.9 477.3 L230.6 476.89 L231.5 477.83 L232.7 476.74 L233.6 478.09 L234.8 476.87 L235.7 478.04 L236.9 476.85 L237.8 477.9 L239 476.9 L239.9 478.05 L241.1 476.41 L242 478.01 L243.2 476.68 L244.1 477.82 L245.3 476.53 L246.2 477.81 L247.4 476.34 L248.3 477.9 L249.5 476.44 L250.4 477.96 L251.6 476.77 L252.5 478.05 L253.7 476.81 L254.6 478.34 L255.8 476.84 L256.7 478.37 L257.9 476.65 L258.8 478.2 L260 476.83 L260.9 478.13 L262.1 476.39 L263 478.11 L264.2 476.62 L265.1 477.91 L266.3 476.36 L267.2 477.91 L268.4 476.72 L269.3 478.29 L270.5 476.69 L271.4 478.06 L272.6 476.32 L273.5 477.8 L274.7 476.69 L275.6 478.12 L276.8 476.57 L277.7 477.9 L278.9 476.37 L279.8 477.91 L281 476.38 L281.9 478.16 L283.1 476.48 L284 478.13 L285.2 476.56 L286.1 478.13 L287.3 476.75 L288.2 478.27 L289.4 476.39 L290.3 478.38 L291.5 476.81 L292.4 478.29 L293.6 476.57 L294.5 478.37 L295.7 476.79 L296.6 477.94 L297.8 476.71 L298.7 478.31 L298.8 477.3 L331 477.3" stroke="#444" stroke-width="0.5" fill="none"/>
<path d="M229.9 477.3 L230.08 472.9 L230.32 468.47 L230.62 464.59 L231.1 460.86 L231.7 457.97 L232.54 456.71 L233.5 456.87 L235.13 456.87 L236.76 456.95 L238.4 456.87 L240.03 456.94 L241.66 456.79 L243.3 457 L244.93 456.88 L246.56 457.08 L248.19 457.17 L249.82 457.04 L251.46 456.98 L253.09 457 L254.72 457.17 L256.36 457.1 L257.99 457.3 L259.62 457.29 L261.25 457.29 L262.88 457.37 L264.52 457.25 L266.15 457.37 L267.78 457.28 L269.42 457.46 L271.05 457.56 L272.68 457.4 L274.31 457.59 L275.94 457.72 L277.58 457.55 L279.21 457.54 L280.84 457.59 L282.48 457.79 L284.11 457.6 L285.74 457.84 L287.37 457.71 L289 457.89 L290.64 457.96 L292.27 457.98 L293.9 457.82 L295.54 457.95 L297.17 457.91 L298.8 458.11" stroke="#444" stroke-width="0.5" fill="none"/>
<path d="M229.9 477.3 L230.12 473.74 L230.41 470.14 L230.77 466.99 L231.35 463.97 L232.08 461.51 L233.09 460.49 L234.25 460.74 L235.86 460.59 L237.48 460.57 L239.09 460.65 L240.71 460.57 L242.32 460.62 L243.93 460.78 L245.55 460.68 L247.16 460.66 L248.77 460.89 L250.39 460.71 L252 460.88 L253.62 460.86 L255.23 460.84 L256.84 460.88 L258.46 460.87 L260.07 460.97 L261.68 460.93 L263.3 460.82 L264.91 460.95 L266.52 460.92 L268.14 461.06 L269.75 460.83 L271.37 460.95 L272.98 461.12 L274.59 460.86 L276.21 461.07 L277.82 461.14 L279.44 461.06 L281.05 460.91 L282.66 461.14 L284.28 461 L285.89 461.09 L287.5 461.2 L289.12 461.06 L290.73 461.05 L292.35 461.03 L293.96 461.11 L295.57 461.05 L297.19 461.24 L298.8 461.3" stroke="#444" stroke-width="0.5" fill="none"/>
<path d="M229.9 477.3 L230.16 474.42 L230.5 471.51 L230.92 468.97 L231.6 466.53 L232.45 464.42 L233.64 463.6 L235 463.91 L236.59 463.71 L238.19 463.86 L239.78 463.95 L241.38 463.95 L242.97 463.81 L244.57 463.89 L246.16 463.95 L247.76 463.91 L249.35 464.06 L250.95 464.05 L252.55 464.07 L254.14 463.83 L255.74 463.81 L257.33 463.99 L258.93 463.99 L260.52 463.91 L262.12 463.91 L263.71 464.08 L265.31 464.09 L266.9 463.87 L268.5 463.91 L270.09 464.1 L271.69 464.02 L273.28 463.95 L274.88 464.2 L276.47 464.02 L278.06 463.95 L279.66 464.06 L281.25 464.07 L282.85 464.15 L284.44 464.2 L286.04 464 L287.63 464.13 L289.23 464.27 L290.82 464.15 L292.42 464.28 L294.01 464.29 L295.61 464.27 L297.2 464.24 L298.8 464.08" stroke="#444" stroke-width="0.5" fill="none"/>
<path d="M229.9 477.3 L230.19 475.14 L230.58 472.97 L231.07 471.07 L231.85 469.24 L232.83 467.52 L234.19 466.9 L235.75 467.28 L237.33 467.38 L238.9 467.18 L240.48 467.19 L242.06 467.25 L243.63 467.27 L245.21 467.35 L246.78 467.29 L248.36 467.41 L249.94 467.37 L251.51 467.34 L253.09 467.23 L254.66 467.35 L256.24 467.31 L257.82 467.4 L259.39 467.26 L260.97 467.42 L262.55 467.41 L264.12 467.25 L265.7 467.49 L267.27 467.36 L268.85 467.35 L270.43 467.33 L272 467.35 L273.58 467.48 L275.16 467.52 L276.73 467.39 L278.31 467.42 L279.88 467.41 L281.46 467.31 L283.04 467.55 L284.61 467.41 L286.19 467.3 L287.77 467.37 L289.34 467.4 L290.92 467.55 L292.5 467.38 L294.07 467.38 L295.65 467.61 L297.22 467.43 L298.8 467.63" stroke="#444" stroke-width="0.5" fill="none"/>
<path d="M229.9 477.3 L230.23 475.87 L230.67 474.43 L231.22 473.17 L232.1 471.95 L233.2 470.61 L234.74 470.2 L236.5 470.66 L238.06 470.48 L239.62 470.5 L241.17 470.55 L242.73 470.6 L244.29 470.65 L245.84 470.59 L247.4 470.79 L248.96 470.79 L250.52 470.68 L252.07 470.81 L253.63 470.78 L255.19 470.82 L256.75 470.7 L258.31 470.56 L259.86 470.71 L261.42 470.56 L262.98 470.67 L264.54 470.85 L266.09 470.67 L267.65 470.77 L269.21 470.85 L270.76 470.78 L272.32 470.69 L273.88 470.73 L275.44 470.62 L277 470.82 L278.55 470.79 L280.11 470.69 L281.67 470.73 L283.23 470.86 L284.78 470.62 L286.34 470.68 L287.9 470.81 L289.45 470.86 L291.01 470.79 L292.57 470.82 L294.13 470.64 L295.69 470.81 L297.24 470.81 L298.8 470.67" stroke="#444" stroke-width="0.5" fill="none"/>
<path d="M229.9 477.3 L230.27 476.55 L230.76 475.8 L231.37 475.14 L232.35 474.51 L233.58 473.52 L235.29 473.3 L237.25 473.83 L238.79 473.83 L240.33 473.76 L241.87 473.79 L243.41 473.93 L244.94 473.94 L246.48 473.7 L248.02 473.73 L249.56 473.9 L251.1 473.99 L252.64 473.91 L254.18 473.82 L255.72 473.95 L257.25 474 L258.79 473.75 L260.33 473.75 L261.87 473.87 L263.41 473.96 L264.95 473.91 L266.49 473.9 L268.02 473.81 L269.56 473.81 L271.1 473.78 L272.64 473.91 L274.18 473.86 L275.72 473.96 L277.26 473.93 L278.8 473.89 L280.33 474.03 L281.87 473.9 L283.41 473.94 L284.95 473.95 L286.49 474.02 L288.03 474.11 L289.57 474.05 L291.11 473.83 L292.64 474.06 L294.18 473.99 L295.72 474.03 L297.26 473.86 L298.8 473.85" stroke="#444" stroke-width="0.5" fill="none"/>
<line x1="299" y1="458" x2="299" y2="477.3" stroke="#666" stroke-width="0.5"/>
<line x1="229.9" y1="476.3" x2="229.9" y2="483.5" stroke="#111" stroke-width="0.9"/>
<path d="M53.9 503.2 L53.9 515.4 L64.8 515.4" stroke="#222" stroke-width="0.9" fill="none"/>
<text x="51" y="505.5" font-size="7.5" text-anchor="middle" fill="#000" font-weight="bold" transform="rotate(-90 51 505.5)">2 nA</text>
<text x="55.4" y="523.1" font-size="7.5" text-anchor="start" fill="#000" font-weight="bold">50 ms</text>
<path d="M205.5 503.4 L205.5 515.4 L216.9 515.4" stroke="#222" stroke-width="0.9" fill="none"/>
<text x="202.4" y="505.5" font-size="7.5" text-anchor="middle" fill="#000" font-weight="bold" transform="rotate(-90 202.4 505.5)">2 nA</text>
<text x="207.1" y="523.1" font-size="7.5" text-anchor="start" fill="#000" font-weight="bold">50 ms</text>
<line x1="411.1" y1="395" x2="411.1" y2="506.1" stroke="#000" stroke-width="1.4"/>
<line x1="410.5" y1="505.5" x2="576.15" y2="505.5" stroke="#000" stroke-width="1.4"/>
<line x1="408.1" y1="395.5" x2="411.1" y2="395.5" stroke="#000" stroke-width="1.2"/>
<text x="406.5" y="399.3" font-size="10.7" text-anchor="end" fill="#111">6000</text>
<line x1="408.1" y1="417.5" x2="411.1" y2="417.5" stroke="#000" stroke-width="1.2"/>
<text x="406.5" y="421.3" font-size="10.7" text-anchor="end" fill="#111">4000</text>
<line x1="408.1" y1="439.5" x2="411.1" y2="439.5" stroke="#000" stroke-width="1.2"/>
<text x="406.5" y="443.3" font-size="10.7" text-anchor="end" fill="#111">2000</text>
<line x1="408.1" y1="461.5" x2="411.1" y2="461.5" stroke="#000" stroke-width="1.2"/>
<text x="406.5" y="465.3" font-size="10.7" text-anchor="end" fill="#111">0</text>
<line x1="408.1" y1="483.5" x2="411.1" y2="483.5" stroke="#000" stroke-width="1.2"/>
<text x="406.5" y="487.3" font-size="10.7" text-anchor="end" fill="#111">-2000</text>
<line x1="408.1" y1="505.5" x2="411.1" y2="505.5" stroke="#000" stroke-width="1.2"/>
<text x="406.5" y="509.3" font-size="10.7" text-anchor="end" fill="#111">-4000</text>
<line x1="411.15" y1="505.5" x2="411.15" y2="508.5" stroke="#000" stroke-width="1.2"/>
<text x="411.15" y="520.9" font-size="10.7" text-anchor="middle" fill="#111">-100</text>
<line x1="452.27" y1="505.5" x2="452.27" y2="508.5" stroke="#000" stroke-width="1.2"/>
<text x="452.27" y="520.9" font-size="10.7" text-anchor="middle" fill="#111">-50</text>
<line x1="493.4" y1="505.5" x2="493.4" y2="508.5" stroke="#000" stroke-width="1.2"/>
<text x="493.4" y="520.9" font-size="10.7" text-anchor="middle" fill="#111">0</text>
<line x1="534.52" y1="505.5" x2="534.52" y2="508.5" stroke="#000" stroke-width="1.2"/>
<text x="534.52" y="520.9" font-size="10.7" text-anchor="middle" fill="#111">50</text>
<line x1="575.65" y1="505.5" x2="575.65" y2="508.5" stroke="#000" stroke-width="1.2"/>
<text x="575.65" y="520.9" font-size="10.7" text-anchor="middle" fill="#111">100</text>
<line x1="411.1" y1="461.5" x2="575.65" y2="461.5" stroke="#666" stroke-width="0.6" stroke-dasharray="1 1.2"/>
<path d="M419.38 461.5 L427.6 461.5 L435.82 461.5 L444.05 461.5 L452.27 461.5 L460.5 463.15 L468.72 466.12 L476.95 468.54 L485.17 470.08 L493.4 470.3 L501.62 469.75 L509.85 468.32 L518.07 467.22 L526.3 465.79 L534.52 464.36" stroke="#f02820" stroke-width="1.3" fill="none"/>
<path d="M419.38 459.1 L417.07 463.2 L421.68 463.2 Z" stroke="none" stroke-width="0" fill="#f02820"/>
<path d="M427.6 459.1 L425.3 463.2 L429.9 463.2 Z" stroke="none" stroke-width="0" fill="#f02820"/>
<path d="M435.82 459.1 L433.52 463.2 L438.12 463.2 Z" stroke="none" stroke-width="0" fill="#f02820"/>
<path d="M444.05 459.1 L441.75 463.2 L446.35 463.2 Z" stroke="none" stroke-width="0" fill="#f02820"/>
<path d="M452.27 459.1 L449.97 463.2 L454.57 463.2 Z" stroke="none" stroke-width="0" fill="#f02820"/>
<path d="M460.5 460.75 L458.2 464.85 L462.8 464.85 Z" stroke="none" stroke-width="0" fill="#f02820"/>
<path d="M468.72 463.72 L466.42 467.82 L471.02 467.82 Z" stroke="none" stroke-width="0" fill="#f02820"/>
<path d="M476.95 466.14 L474.65 470.24 L479.25 470.24 Z" stroke="none" stroke-width="0" fill="#f02820"/>
<path d="M485.17 467.68 L482.87 471.78 L487.47 471.78 Z" stroke="none" stroke-width="0" fill="#f02820"/>
<path d="M493.4 467.9 L491.1 472 L495.7 472 Z" stroke="none" stroke-width="0" fill="#f02820"/>
<path d="M501.62 467.35 L499.32 471.45 L503.93 471.45 Z" stroke="none" stroke-width="0" fill="#f02820"/>
<path d="M509.85 465.92 L507.55 470.02 L512.15 470.02 Z" stroke="none" stroke-width="0" fill="#f02820"/>
<path d="M518.07 464.82 L515.77 468.92 L520.37 468.92 Z" stroke="none" stroke-width="0" fill="#f02820"/>
<path d="M526.3 463.39 L524 467.49 L528.6 467.49 Z" stroke="none" stroke-width="0" fill="#f02820"/>
<path d="M534.52 461.96 L532.23 466.06 L536.82 466.06 Z" stroke="none" stroke-width="0" fill="#f02820"/>
<path d="M419.38 461.5 L427.6 461.5 L435.82 461.5 L444.05 461.5 L452.27 461.5 L460.5 465.9 L468.72 468.87 L476.95 471.84 L485.17 475.25 L493.4 476.24 L501.62 475.69 L509.85 473.38 L518.07 471.18 L526.3 468.76 L534.52 466.34" stroke="#000" stroke-width="1.3" fill="none"/>
<line x1="476.95" y1="469.64" x2="476.95" y2="474.04" stroke="#000" stroke-width="1.1"/>
<line x1="475.15" y1="469.64" x2="478.75" y2="469.64" stroke="#000" stroke-width="1.1"/>
<line x1="475.15" y1="474.04" x2="478.75" y2="474.04" stroke="#000" stroke-width="1.1"/>
<line x1="485.17" y1="471.95" x2="485.17" y2="478.55" stroke="#000" stroke-width="1.1"/>
<line x1="483.37" y1="471.95" x2="486.97" y2="471.95" stroke="#000" stroke-width="1.1"/>
<line x1="483.37" y1="478.55" x2="486.97" y2="478.55" stroke="#000" stroke-width="1.1"/>
<line x1="493.4" y1="472.94" x2="493.4" y2="479.54" stroke="#000" stroke-width="1.1"/>
<line x1="491.6" y1="472.94" x2="495.2" y2="472.94" stroke="#000" stroke-width="1.1"/>
<line x1="491.6" y1="479.54" x2="495.2" y2="479.54" stroke="#000" stroke-width="1.1"/>
<line x1="501.62" y1="472.61" x2="501.62" y2="478.77" stroke="#000" stroke-width="1.1"/>
<line x1="499.82" y1="472.61" x2="503.43" y2="472.61" stroke="#000" stroke-width="1.1"/>
<line x1="499.82" y1="478.77" x2="503.43" y2="478.77" stroke="#000" stroke-width="1.1"/>
<line x1="509.85" y1="471.73" x2="509.85" y2="475.03" stroke="#000" stroke-width="1.1"/>
<line x1="508.05" y1="471.73" x2="511.65" y2="471.73" stroke="#000" stroke-width="1.1"/>
<line x1="508.05" y1="475.03" x2="511.65" y2="475.03" stroke="#000" stroke-width="1.1"/>
<circle cx="419.38" cy="461.5" r="2.4" fill="#000" stroke="none" stroke-width="1"/>
<circle cx="427.6" cy="461.5" r="2.4" fill="#000" stroke="none" stroke-width="1"/>
<circle cx="435.82" cy="461.5" r="2.4" fill="#000" stroke="none" stroke-width="1"/>
<circle cx="444.05" cy="461.5" r="2.4" fill="#000" stroke="none" stroke-width="1"/>
<circle cx="452.27" cy="461.5" r="2.4" fill="#000" stroke="none" stroke-width="1"/>
<circle cx="460.5" cy="465.9" r="2.4" fill="#000" stroke="none" stroke-width="1"/>
<circle cx="468.72" cy="468.87" r="2.4" fill="#000" stroke="none" stroke-width="1"/>
<circle cx="476.95" cy="471.84" r="2.4" fill="#000" stroke="none" stroke-width="1"/>
<circle cx="485.17" cy="475.25" r="2.4" fill="#000" stroke="none" stroke-width="1"/>
<circle cx="493.4" cy="476.24" r="2.4" fill="#000" stroke="none" stroke-width="1"/>
<circle cx="501.62" cy="475.69" r="2.4" fill="#000" stroke="none" stroke-width="1"/>
<circle cx="509.85" cy="473.38" r="2.4" fill="#000" stroke="none" stroke-width="1"/>
<circle cx="518.07" cy="471.18" r="2.4" fill="#000" stroke="none" stroke-width="1"/>
<circle cx="526.3" cy="468.76" r="2.4" fill="#000" stroke="none" stroke-width="1"/>
<circle cx="534.52" cy="466.34" r="2.4" fill="#000" stroke="none" stroke-width="1"/>
<path d="M419.38 461.5 L427.6 461.5 L435.82 461.5 L444.05 461.5 L452.27 461.5 L460.5 461.06 L468.72 461.5 L476.95 460.51 L485.17 458.42 L493.4 453.8 L501.62 450 L509.85 444.2 L518.07 439.1 L526.3 435.5 L534.52 432.8" stroke="#f02820" stroke-width="1.3" fill="none"/>
<line x1="509.85" y1="440.9" x2="509.85" y2="447.5" stroke="#f02820" stroke-width="1.1"/>
<line x1="508.05" y1="440.9" x2="511.65" y2="440.9" stroke="#f02820" stroke-width="1.1"/>
<line x1="508.05" y1="447.5" x2="511.65" y2="447.5" stroke="#f02820" stroke-width="1.1"/>
<line x1="518.07" y1="435.8" x2="518.07" y2="442.4" stroke="#f02820" stroke-width="1.1"/>
<line x1="516.27" y1="435.8" x2="519.87" y2="435.8" stroke="#f02820" stroke-width="1.1"/>
<line x1="516.27" y1="442.4" x2="519.87" y2="442.4" stroke="#f02820" stroke-width="1.1"/>
<line x1="526.3" y1="431.54" x2="526.3" y2="439.46" stroke="#f02820" stroke-width="1.1"/>
<line x1="524.5" y1="431.54" x2="528.1" y2="431.54" stroke="#f02820" stroke-width="1.1"/>
<line x1="524.5" y1="439.46" x2="528.1" y2="439.46" stroke="#f02820" stroke-width="1.1"/>
<line x1="534.52" y1="428.84" x2="534.52" y2="436.76" stroke="#f02820" stroke-width="1.1"/>
<line x1="532.73" y1="428.84" x2="536.32" y2="428.84" stroke="#f02820" stroke-width="1.1"/>
<line x1="532.73" y1="436.76" x2="536.32" y2="436.76" stroke="#f02820" stroke-width="1.1"/>
<path d="M419.38 463.9 L417.07 459.8 L421.68 459.8 Z" stroke="none" stroke-width="0" fill="#f02820"/>
<path d="M427.6 463.9 L425.3 459.8 L429.9 459.8 Z" stroke="none" stroke-width="0" fill="#f02820"/>
<path d="M435.82 463.9 L433.52 459.8 L438.12 459.8 Z" stroke="none" stroke-width="0" fill="#f02820"/>
<path d="M444.05 463.9 L441.75 459.8 L446.35 459.8 Z" stroke="none" stroke-width="0" fill="#f02820"/>
<path d="M452.27 463.9 L449.97 459.8 L454.57 459.8 Z" stroke="none" stroke-width="0" fill="#f02820"/>
<path d="M460.5 463.46 L458.2 459.36 L462.8 459.36 Z" stroke="none" stroke-width="0" fill="#f02820"/>
<path d="M468.72 463.9 L466.42 459.8 L471.02 459.8 Z" stroke="none" stroke-width="0" fill="#f02820"/>
<path d="M476.95 462.91 L474.65 458.81 L479.25 458.81 Z" stroke="none" stroke-width="0" fill="#f02820"/>
<path d="M485.17 460.82 L482.87 456.72 L487.47 456.72 Z" stroke="none" stroke-width="0" fill="#f02820"/>
<path d="M493.4 456.2 L491.1 452.1 L495.7 452.1 Z" stroke="none" stroke-width="0" fill="#f02820"/>
<path d="M501.62 452.4 L499.32 448.31 L503.93 448.31 Z" stroke="none" stroke-width="0" fill="#f02820"/>
<path d="M509.85 446.6 L507.55 442.5 L512.15 442.5 Z" stroke="none" stroke-width="0" fill="#f02820"/>
<path d="M518.07 441.5 L515.77 437.4 L520.37 437.4 Z" stroke="none" stroke-width="0" fill="#f02820"/>
<path d="M526.3 437.9 L524 433.8 L528.6 433.8 Z" stroke="none" stroke-width="0" fill="#f02820"/>
<path d="M534.52 435.2 L532.23 431.1 L536.82 431.1 Z" stroke="none" stroke-width="0" fill="#f02820"/>
<path d="M419.38 461.5 L427.6 461.5 L435.82 461.5 L444.05 461.5 L452.27 461.5 L460.5 460.84 L468.72 461.5 L476.95 460.29 L485.17 457.97 L493.4 453.73 L501.62 446.17 L509.85 437.78 L518.07 429.71 L526.3 423.76 L534.52 418.61" stroke="#000" stroke-width="1.3" fill="none"/>
<line x1="460.5" y1="459.19" x2="460.5" y2="462.49" stroke="#000" stroke-width="1.1"/>
<line x1="458.7" y1="459.19" x2="462.3" y2="459.19" stroke="#000" stroke-width="1.1"/>
<line x1="458.7" y1="462.49" x2="462.3" y2="462.49" stroke="#000" stroke-width="1.1"/>
<line x1="476.95" y1="459.41" x2="476.95" y2="461.17" stroke="#000" stroke-width="1.1"/>
<line x1="475.15" y1="459.41" x2="478.75" y2="459.41" stroke="#000" stroke-width="1.1"/>
<line x1="475.15" y1="461.17" x2="478.75" y2="461.17" stroke="#000" stroke-width="1.1"/>
<line x1="485.17" y1="456.87" x2="485.17" y2="459.07" stroke="#000" stroke-width="1.1"/>
<line x1="483.37" y1="456.87" x2="486.97" y2="456.87" stroke="#000" stroke-width="1.1"/>
<line x1="483.37" y1="459.07" x2="486.97" y2="459.07" stroke="#000" stroke-width="1.1"/>
<line x1="493.4" y1="452.63" x2="493.4" y2="454.83" stroke="#000" stroke-width="1.1"/>
<line x1="491.6" y1="452.63" x2="495.2" y2="452.63" stroke="#000" stroke-width="1.1"/>
<line x1="491.6" y1="454.83" x2="495.2" y2="454.83" stroke="#000" stroke-width="1.1"/>
<line x1="501.62" y1="444.52" x2="501.62" y2="447.82" stroke="#000" stroke-width="1.1"/>
<line x1="499.82" y1="444.52" x2="503.43" y2="444.52" stroke="#000" stroke-width="1.1"/>
<line x1="499.82" y1="447.82" x2="503.43" y2="447.82" stroke="#000" stroke-width="1.1"/>
<line x1="509.85" y1="434.15" x2="509.85" y2="441.41" stroke="#000" stroke-width="1.1"/>
<line x1="508.05" y1="434.15" x2="511.65" y2="434.15" stroke="#000" stroke-width="1.1"/>
<line x1="508.05" y1="441.41" x2="511.65" y2="441.41" stroke="#000" stroke-width="1.1"/>
<line x1="518.07" y1="425.86" x2="518.07" y2="433.56" stroke="#000" stroke-width="1.1"/>
<line x1="516.27" y1="425.86" x2="519.87" y2="425.86" stroke="#000" stroke-width="1.1"/>
<line x1="516.27" y1="433.56" x2="519.87" y2="433.56" stroke="#000" stroke-width="1.1"/>
<line x1="526.3" y1="419.03" x2="526.3" y2="428.49" stroke="#000" stroke-width="1.1"/>
<line x1="524.5" y1="419.03" x2="528.1" y2="419.03" stroke="#000" stroke-width="1.1"/>
<line x1="524.5" y1="428.49" x2="528.1" y2="428.49" stroke="#000" stroke-width="1.1"/>
<line x1="534.52" y1="413.88" x2="534.52" y2="423.34" stroke="#000" stroke-width="1.1"/>
<line x1="532.73" y1="413.88" x2="536.32" y2="413.88" stroke="#000" stroke-width="1.1"/>
<line x1="532.73" y1="423.34" x2="536.32" y2="423.34" stroke="#000" stroke-width="1.1"/>
<rect x="416.98" y="459.1" width="4.8" height="4.8" fill="#000" stroke="none" stroke-width="1"/>
<rect x="425.2" y="459.1" width="4.8" height="4.8" fill="#000" stroke="none" stroke-width="1"/>
<rect x="433.43" y="459.1" width="4.8" height="4.8" fill="#000" stroke="none" stroke-width="1"/>
<rect x="441.65" y="459.1" width="4.8" height="4.8" fill="#000" stroke="none" stroke-width="1"/>
<rect x="449.88" y="459.1" width="4.8" height="4.8" fill="#000" stroke="none" stroke-width="1"/>
<rect x="458.1" y="458.44" width="4.8" height="4.8" fill="#000" stroke="none" stroke-width="1"/>
<rect x="466.32" y="459.1" width="4.8" height="4.8" fill="#000" stroke="none" stroke-width="1"/>
<rect x="474.55" y="457.89" width="4.8" height="4.8" fill="#000" stroke="none" stroke-width="1"/>
<rect x="482.77" y="455.57" width="4.8" height="4.8" fill="#000" stroke="none" stroke-width="1"/>
<rect x="491" y="451.33" width="4.8" height="4.8" fill="#000" stroke="none" stroke-width="1"/>
<rect x="499.23" y="443.77" width="4.8" height="4.8" fill="#000" stroke="none" stroke-width="1"/>
<rect x="507.45" y="435.38" width="4.8" height="4.8" fill="#000" stroke="none" stroke-width="1"/>
<rect x="515.67" y="427.31" width="4.8" height="4.8" fill="#000" stroke="none" stroke-width="1"/>
<rect x="523.9" y="421.36" width="4.8" height="4.8" fill="#000" stroke="none" stroke-width="1"/>
<rect x="532.12" y="416.21" width="4.8" height="4.8" fill="#000" stroke="none" stroke-width="1"/>
<text x="509.9" y="434.8" font-size="12" text-anchor="middle" fill="#000">*</text>
<line x1="516" y1="407.7" x2="535.5" y2="407.7" stroke="#000" stroke-width="1.3"/>
<text x="526" y="410.2" font-size="12" text-anchor="middle" fill="#000">***</text>
<line x1="578" y1="405.2" x2="589.8" y2="405.2" stroke="#000" stroke-width="1.1"/>
<circle cx="583.9" cy="405.2" r="1.9" fill="#000" stroke="none" stroke-width="1"/>
<text x="596.5" y="408.6" font-size="10.7" text-anchor="start" fill="#111">Ctrl-Inward</text>
<line x1="578" y1="417.3" x2="589.8" y2="417.3" stroke="#000" stroke-width="1.1"/>
<rect x="582" y="415.4" width="3.8" height="3.8" fill="#000" stroke="none" stroke-width="1"/>
<text x="596.5" y="421.1" font-size="10.7" text-anchor="start" fill="#111">Ctrl-Outward</text>
<line x1="578" y1="432" x2="589.8" y2="432" stroke="#f02820" stroke-width="1.1"/>
<path d="M583.9 429.8 L581.8 433.5 L586 433.5 Z" stroke="none" stroke-width="0" fill="#f02820"/>
<text x="596.5" y="435.5" font-size="10.7" text-anchor="start" fill="#111">MT-Inward</text>
<line x1="578" y1="446.3" x2="589.8" y2="446.3" stroke="#f02820" stroke-width="1.1"/>
<path d="M583.9 448.5 L581.8 444.8 L586 444.8 Z" stroke="none" stroke-width="0" fill="#f02820"/>
<text x="596.5" y="449.8" font-size="10.7" text-anchor="start" fill="#111">MT-Outward</text>
<text x="374.4" y="462.4" font-size="13.8" text-anchor="middle" fill="#111" transform="rotate(-90 374.4 462.4)">Current (pA)</text>
<text x="494.4" y="539.2" font-size="13.8" text-anchor="middle" fill="#111">Voltage (mV)</text>
<text x="0.5" y="551.6" font-size="22" text-anchor="start" fill="#1e1414">H</text>
<text x="108" y="578.6" font-size="14.3" text-anchor="middle" fill="#000">Ctrl</text>
<rect x="55.2" y="603.5" width="95.6" height="14.8" fill="#c2c2c2" stroke="#999" stroke-width="0.5"/>
<line x1="55.2" y1="606.2" x2="150.8" y2="606.2" stroke="#e2e2e2" stroke-width="1.3"/>
<line x1="55.2" y1="609.7" x2="150.8" y2="609.7" stroke="#e2e2e2" stroke-width="1.3"/>
<line x1="55.2" y1="613.3" x2="150.8" y2="613.3" stroke="#e2e2e2" stroke-width="1.3"/>
<line x1="55.2" y1="616.9" x2="150.8" y2="616.9" stroke="#e2e2e2" stroke-width="1.3"/>
<line x1="49.4" y1="613.2" x2="55.2" y2="613.2" stroke="#d0d0d0" stroke-width="0.7"/>
<line x1="150.8" y1="613.2" x2="162.8" y2="613.2" stroke="#d0d0d0" stroke-width="0.7"/>
<text x="56" y="601.2" font-size="7" text-anchor="start" fill="#000" font-weight="bold">40</text>
<text x="56.1" y="624.7" font-size="7" text-anchor="start" fill="#000" font-weight="bold">-20</text>
<text x="45.7" y="615.8" font-size="7" text-anchor="end" fill="#000" font-weight="bold">0 pA</text>
<text x="258.1" y="578.6" font-size="14.3" text-anchor="middle" fill="#000">MT</text>
<rect x="209.2" y="603.4" width="95.6" height="15.6" fill="#d4d4d4" stroke="#bbb" stroke-width="0.5"/>
<line x1="209.2" y1="606" x2="304.8" y2="606" stroke="#999" stroke-width="0.5"/>
<line x1="209.2" y1="608.6" x2="304.8" y2="608.6" stroke="#999" stroke-width="0.5"/>
<line x1="209.2" y1="611.2" x2="304.8" y2="611.2" stroke="#999" stroke-width="0.5"/>
<line x1="209.2" y1="616.4" x2="304.8" y2="616.4" stroke="#999" stroke-width="0.5"/>
<line x1="203.5" y1="613.8" x2="209.2" y2="613.8" stroke="#444" stroke-width="0.7"/>
<line x1="304.8" y1="613.8" x2="317.2" y2="613.8" stroke="#444" stroke-width="0.7"/>
<text x="210" y="601.2" font-size="7" text-anchor="start" fill="#000" font-weight="bold">40</text>
<text x="210.1" y="625.4" font-size="7" text-anchor="start" fill="#000" font-weight="bold">-20</text>
<text x="199.8" y="616.4" font-size="7" text-anchor="end" fill="#000" font-weight="bold">0 pA</text>
<line x1="209.2" y1="613.8" x2="304.8" y2="613.8" stroke="#444" stroke-width="0.6"/>
<path d="M49.4 652.8 L56.1 653 L56.6 653.51 L57.6 654.59 L58.6 655.43 L59.6 656.08 L60.6 656.92 L61.6 657.43 L62.6 657.72 L63.6 658.06 L64.6 658.22 L65.6 658.34 L66.6 658.66 L67.6 658.88 L68.6 658.77 L69.6 659.13 L70.6 658.96 L71.6 658.99 L72.6 658.92 L73.6 659.3 L74.6 659.18 L75.6 659.2 L76.6 659.06 L77.6 658.79 L78.6 658.85 L79.6 658.87 L80.6 658.66 L81.6 658.93 L82.6 658.63 L83.6 658.48 L84.6 658.69 L85.6 658.35 L86.6 658.61 L87.6 658.36 L88.6 658.35 L89.6 658.22 L90.6 658.23 L91.6 658.07 L92.6 657.98 L93.6 658.29 L94.6 658.01 L95.6 658.22 L96.6 657.98 L97.6 658.29 L98.6 658.26 L99.6 658.22 L100.6 658.25 L101.6 658.2 L102.6 658.29 L103.6 658.09 L104.6 658.28 L105.6 658.47 L106.6 658.27 L107.6 658.62 L108.6 658.67 L109.6 658.54 L110.6 658.59 L111.6 658.69 L112.6 658.74 L113.6 659.05 L114.6 658.88 L115.6 658.8 L116.6 658.89 L117.6 659.21 L118.6 659.38 L119.6 659.24 L120.6 659.29 L121.6 659.36 L122.6 659.48 L123.6 659.31 L124.6 659.49 L125.6 659.49 L126.6 659.54 L127.6 659.37 L128.6 659.37 L129.6 659.44 L130.6 659.66 L131.6 659.41 L132.6 659.48 L133.6 659.33 L134.6 659.22 L135.6 659.16 L136.6 659.41 L137.6 659.34 L138.6 659.12 L139.6 659.19 L140.6 659.12 L141.6 659.14 L142.6 659.1 L143.6 658.81 L144.6 658.97 L145.6 658.89 L146.6 658.67 L147.6 658.72 L148.6 658.5 L149.6 658.39 L150.6 658.28 L158.7 655.5 L163.5 655.3" stroke="#333" stroke-width="0.5" fill="none"/>
<path d="M49.4 653.23 L56.1 653 L56.6 653.7 L57.6 655.54 L58.6 657.36 L59.6 658.59 L60.6 659.46 L61.6 660.4 L62.6 660.72 L63.6 661.31 L64.6 661.71 L65.6 662.07 L66.6 662.2 L67.6 662.33 L68.6 662.56 L69.6 662.87 L70.6 662.95 L71.6 662.89 L72.6 662.79 L73.6 662.7 L74.6 662.97 L75.6 662.78 L76.6 662.84 L77.6 662.54 L78.6 662.59 L79.6 662.82 L80.6 662.79 L81.6 662.81 L82.6 662.69 L83.6 662.62 L84.6 662.69 L85.6 662.82 L86.6 662.62 L87.6 662.75 L88.6 662.68 L89.6 662.92 L90.6 662.67 L91.6 663 L92.6 663.18 L93.6 662.88 L94.6 663.18 L95.6 663.28 L96.6 663.45 L97.6 663.43 L98.6 663.39 L99.6 663.54 L100.6 663.85 L101.6 663.92 L102.6 663.7 L103.6 663.77 L104.6 663.85 L105.6 663.9 L106.6 664.14 L107.6 664.09 L108.6 664.44 L109.6 664.41 L110.6 664.24 L111.6 664.45 L112.6 664.39 L113.6 664.48 L114.6 664.38 L115.6 664.37 L116.6 664.37 L117.6 664.43 L118.6 664.54 L119.6 664.45 L120.6 664.21 L121.6 664.42 L122.6 664.43 L123.6 664.33 L124.6 664.27 L125.6 663.88 L126.6 663.99 L127.6 663.75 L128.6 663.94 L129.6 663.62 L130.6 663.74 L131.6 663.47 L132.6 663.56 L133.6 663.32 L134.6 663.12 L135.6 663.18 L136.6 663.06 L137.6 663.23 L138.6 662.91 L139.6 662.93 L140.6 662.9 L141.6 663.01 L142.6 662.62 L143.6 662.79 L144.6 662.73 L145.6 662.8 L146.6 662.89 L147.6 662.63 L148.6 662.79 L149.6 662.74 L150.6 662.78 L158.7 655.5 L163.5 655.3" stroke="#333" stroke-width="0.5" fill="none"/>
<path d="M49.4 652.74 L56.1 653 L56.6 653.5 L57.6 656.33 L58.6 658.33 L59.6 660.14 L60.6 661.88 L61.6 662.71 L62.6 663.65 L63.6 664.42 L64.6 665.33 L65.6 665.8 L66.6 666.06 L67.6 666.44 L68.6 666.44 L69.6 666.89 L70.6 666.96 L71.6 667.12 L72.6 667.17 L73.6 667.26 L74.6 667.27 L75.6 667.27 L76.6 667.49 L77.6 667.47 L78.6 667.72 L79.6 667.83 L80.6 667.86 L81.6 667.82 L82.6 667.81 L83.6 667.95 L84.6 668.07 L85.6 668.22 L86.6 668.45 L87.6 668.19 L88.6 668.45 L89.6 668.55 L90.6 668.75 L91.6 668.92 L92.6 668.98 L93.6 669.02 L94.6 669.17 L95.6 669.23 L96.6 669.4 L97.6 669.42 L98.6 669.5 L99.6 669.4 L100.6 669.73 L101.6 669.58 L102.6 669.72 L103.6 669.85 L104.6 669.94 L105.6 669.98 L106.6 669.6 L107.6 669.72 L108.6 669.72 L109.6 669.73 L110.6 669.61 L111.6 669.74 L112.6 669.51 L113.6 669.54 L114.6 669.74 L115.6 669.59 L116.6 669.4 L117.6 669.18 L118.6 669.43 L119.6 669.24 L120.6 668.94 L121.6 668.9 L122.6 668.92 L123.6 668.84 L124.6 668.57 L125.6 668.75 L126.6 668.4 L127.6 668.28 L128.6 668.43 L129.6 668.07 L130.6 668.2 L131.6 667.94 L132.6 668.03 L133.6 667.85 L134.6 667.84 L135.6 668.03 L136.6 667.81 L137.6 667.78 L138.6 667.85 L139.6 667.71 L140.6 667.68 L141.6 667.79 L142.6 667.77 L143.6 667.78 L144.6 668.14 L145.6 667.83 L146.6 668.2 L147.6 668.32 L148.6 668.31 L149.6 668.12 L150.6 668.41 L158.7 655.5 L163.5 655.3" stroke="#333" stroke-width="0.5" fill="none"/>
<path d="M49.4 652.72 L56.1 653 L56.6 652.45 L57.6 656.01 L58.6 658.7 L59.6 660.95 L60.6 663.08 L61.6 664.46 L62.6 665.82 L63.6 666.92 L64.6 667.96 L65.6 668.46 L66.6 668.95 L67.6 669.7 L68.6 670.13 L69.6 670.36 L70.6 670.48 L71.6 670.8 L72.6 671.12 L73.6 671.4 L74.6 671.46 L75.6 671.88 L76.6 672.07 L77.6 672.27 L78.6 672.42 L79.6 672.22 L80.6 672.6 L81.6 672.55 L82.6 673.02 L83.6 673.1 L84.6 673.24 L85.6 673.14 L86.6 673.22 L87.6 673.64 L88.6 673.66 L89.6 673.77 L90.6 673.81 L91.6 674.02 L92.6 673.91 L93.6 673.95 L94.6 674.04 L95.6 674.06 L96.6 674.22 L97.6 674.35 L98.6 674.02 L99.6 674.02 L100.6 674.18 L101.6 674.21 L102.6 673.98 L103.6 673.96 L104.6 673.81 L105.6 673.73 L106.6 673.83 L107.6 673.81 L108.6 673.7 L109.6 673.4 L110.6 673.27 L111.6 673.49 L112.6 673.21 L113.6 673.04 L114.6 673.03 L115.6 672.93 L116.6 672.73 L117.6 672.44 L118.6 672.62 L119.6 672.27 L120.6 672.1 L121.6 672.14 L122.6 672.12 L123.6 672.09 L124.6 671.84 L125.6 672 L126.6 671.86 L127.6 671.7 L128.6 671.95 L129.6 671.92 L130.6 671.97 L131.6 671.89 L132.6 671.73 L133.6 671.99 L134.6 672.09 L135.6 672 L136.6 672.22 L137.6 672.32 L138.6 672.18 L139.6 672.49 L140.6 672.59 L141.6 672.64 L142.6 672.44 L143.6 672.69 L144.6 672.92 L145.6 673.04 L146.6 673.21 L147.6 673.29 L148.6 673.21 L149.6 673.63 L150.6 673.58 L158.7 655.5 L163.5 655.3" stroke="#333" stroke-width="0.5" fill="none"/>
<path d="M49.4 653.11 L56.1 652.8 L56.8 640.02 L57.3 651 L58.3 647.33 L58.55 645.99 L58.85 647.5 L59.2 650.41 L59.7 651.77 L60.3 652.11 L60.9 651.45 L61.4 650.28 L62.09 646.83 L62.34 644.62 L62.64 647.5 L62.99 650.95 L63.49 652.21 L64.09 652.91 L64.69 652.43 L65.19 650.91 L66.65 647.51 L66.9 643.63 L67.2 647.5 L67.55 648.98 L68.05 650.43 L68.65 650.83 L69.25 650.12 L69.75 648.87 L70.83 647.3 L71.08 644.92 L71.38 647.5 L71.73 651.02 L72.23 652.16 L72.83 652.78 L73.43 652.21 L73.93 650.96 L74.75 646.44 L75 644.61 L75.3 647.5 L75.65 650.16 L76.15 651.36 L76.75 652 L77.35 651.42 L77.85 650.12 L79.84 646.4 L80.09 644.13 L80.39 647.5 L80.74 649.9 L81.24 651.16 L81.84 651.71 L82.44 651.33 L82.94 649.71 L83.71 646.98 L83.96 645.2 L84.26 647.5 L84.61 650.91 L85.11 652.34 L85.71 653.07 L86.31 652.39 L86.81 651.07 L87.83 647.23 L88.08 644.89 L88.38 647.5 L88.73 650.59 L89.23 651.85 L89.83 652.25 L90.43 651.65 L90.93 650.56 L92.6 647.42 L92.85 645.78 L93.15 647.5 L93.5 649.4 L94 650.38 L94.6 651.02 L95.2 650.6 L95.7 649.11 L97.43 646.75 L97.68 643.79 L97.98 647.5 L98.33 650.59 L98.83 651.88 L99.43 652.55 L100.03 652.08 L100.53 650.59 L102.03 646.84 L102.28 644.01 L102.58 647.5 L102.93 650.48 L103.43 651.75 L104.03 652.27 L104.63 651.98 L105.13 650.56 L105.72 646.43 L105.97 645.64 L106.27 647.5 L106.62 650.71 L107.12 651.95 L107.72 652.44 L108.32 651.91 L108.82 650.8 L109.82 646.84 L110.07 644.91 L110.37 647.5 L110.72 650.5 L111.22 651.96 L111.82 652.46 L112.42 651.84 L112.92 650.56 L113.68 647.17 L113.93 645.37 L114.23 647.5 L114.58 648.69 L115.08 649.9 L115.68 650.59 L116.28 650.04 L116.78 648.55 L117.96 646.79 L118.21 643.5 L118.51 647.5 L118.86 650.98 L119.36 652.23 L119.96 652.72 L120.56 652.22 L121.06 650.91 L122.46 646.53 L122.71 645.54 L123.01 647.5 L123.36 649.33 L123.86 650.46 L124.46 651.13 L125.06 650.72 L125.56 649.2 L127.08 646.69 L127.33 644.62 L127.63 647.5 L127.98 648.95 L128.48 650.04 L129.08 650.64 L129.68 650.24 L130.18 649.03 L131.41 646.76 L131.66 644.99 L131.96 647.5 L132.31 648.61 L132.81 650.14 L133.41 650.47 L134.01 650.09 L134.51 648.49 L135.71 647.1 L135.96 645.67 L136.26 647.5 L136.61 650.84 L137.11 652.43 L137.71 652.65 L138.31 652.45 L138.81 651.08 L140.36 646.81 L140.61 644.59 L140.91 647.5 L141.26 649.21 L141.76 650.5 L142.36 650.95 L142.96 650.56 L143.46 648.96 L144.32 647.35 L144.57 643.27 L144.87 647.5 L145.22 649.73 L145.72 650.78 L146.32 651.4 L146.92 650.77 L147.42 649.69 L148.53 647.44 L148.78 643.69 L149.08 647.5 L149.43 649.74 L149.93 651.15 L150.53 651.67 L151.13 651.06 L151.63 649.8 L152 650 L155 653.8 L158.7 655.4 L159.5 655 L159.8 643.5 L160.2 655.4 L163.5 655.3" stroke="#444" stroke-width="0.38" fill="none"/>
<path d="M49.4 652.56 L56.1 652.8 L56.8 640.74 L57.3 651 L59.1 646.62 L59.35 643.91 L59.65 647.5 L60 649.81 L60.5 650.91 L61.1 651.37 L61.7 650.75 L62.2 649.53 L63.99 646.68 L64.24 644.01 L64.54 647.5 L64.89 650.71 L65.39 651.93 L65.99 652.6 L66.59 651.96 L67.09 650.6 L67.94 647.23 L68.19 644.78 L68.49 647.5 L68.84 651.14 L69.34 652.38 L69.94 653.15 L70.54 652.58 L71.04 651.01 L72.52 647.56 L72.77 645.32 L73.07 647.5 L73.42 650.83 L73.92 651.88 L74.52 652.73 L75.12 651.91 L75.62 650.63 L77.59 647.15 L77.84 643.5 L78.14 647.5 L78.49 649.75 L78.99 651.04 L79.59 651.8 L80.19 651.18 L80.69 649.94 L82.35 647.39 L82.6 645.62 L82.9 647.5 L83.25 651.52 L83.75 652.63 L84.35 653.26 L84.95 652.64 L85.45 651.52 L86.9 646.75 L87.15 644.29 L87.45 647.5 L87.8 650.5 L88.3 651.9 L88.9 652.35 L89.5 651.74 L90 650.48 L91.13 647.16 L91.38 645.29 L91.68 647.5 L92.03 648.64 L92.53 650.1 L93.13 650.56 L93.73 650.07 L94.23 648.88 L95.29 646.54 L95.54 644.18 L95.84 647.5 L96.19 650.78 L96.69 652.22 L97.29 652.82 L97.89 652.33 L98.39 650.74 L99.79 647.42 L100.04 643.94 L100.34 647.5 L100.69 650.61 L101.19 651.99 L101.79 652.78 L102.39 652 L102.89 650.81 L104.6 646.4 L104.85 643.84 L105.15 647.5 L105.5 650.94 L106 652.17 L106.6 652.79 L107.2 652.19 L107.7 650.81 L109.38 647.07 L109.63 643.52 L109.93 647.5 L110.28 650.51 L110.78 651.81 L111.38 652.27 L111.98 651.54 L112.48 650.48 L113.04 646.7 L113.29 645.79 L113.59 647.5 L113.94 649.46 L114.44 650.83 L115.04 651.54 L115.64 651.02 L116.14 649.67 L117.7 646.77 L117.95 643.73 L118.25 647.5 L118.6 649.59 L119.1 651.06 L119.7 651.66 L120.3 650.75 L120.8 649.8 L122.67 647.34 L122.92 644.38 L123.22 647.5 L123.57 650.6 L124.07 652.07 L124.67 652.77 L125.27 652.18 L125.77 650.89 L126.31 647.49 L126.56 645.14 L126.86 647.5 L127.21 649.98 L127.71 651.43 L128.31 651.81 L128.91 651.53 L129.41 650.2 L129.86 647.16 L130.11 643.93 L130.41 647.5 L130.76 649.13 L131.26 650.2 L131.86 651.11 L132.46 650.56 L132.96 649.05 L134.28 646.88 L134.53 644.09 L134.83 647.5 L135.18 650.45 L135.68 651.87 L136.28 652.19 L136.88 651.69 L137.38 650.58 L138.14 646.59 L138.39 643.21 L138.69 647.5 L139.04 651.35 L139.54 652.61 L140.14 653.14 L140.74 652.63 L141.24 651.4 L141.82 646.49 L142.07 644.6 L142.37 647.5 L142.72 648.69 L143.22 650 L143.82 650.59 L144.42 650.02 L144.92 648.94 L146.38 647.22 L146.63 644.42 L146.93 647.5 L147.28 650.89 L147.78 652.31 L148.38 652.91 L148.98 652.28 L149.48 651.07 L152 650 L155 653.8 L158.7 655.4 L162 655 L162.3 646.5 L162.7 655.4 L163.5 655.3" stroke="#444" stroke-width="0.38" fill="none"/>
<path d="M49.4 653.14 L56.1 652.8 L56.8 640.16 L57.3 651 L59.9 647.03 L60.15 645.01 L60.45 647.5 L60.8 651.74 L61.3 652.72 L61.9 653.52 L62.5 652.79 L63 651.68 L64.08 646.71 L64.33 644.61 L64.63 647.5 L64.98 649.54 L65.48 650.75 L66.08 651.3 L66.68 650.54 L67.18 649.31 L69.13 647.24 L69.38 643.61 L69.68 647.5 L70.03 650.27 L70.53 651.59 L71.13 652.3 L71.73 651.68 L72.23 650.16 L73.31 647.21 L73.56 644.26 L73.86 647.5 L74.21 650.61 L74.71 652.08 L75.31 652.52 L75.91 651.81 L76.41 650.62 L77.42 647.59 L77.67 643.59 L77.97 647.5 L78.32 650.84 L78.82 652.01 L79.42 652.66 L80.02 651.96 L80.52 650.7 L82.35 646.85 L82.6 643.18 L82.9 647.5 L83.25 649.67 L83.75 651.01 L84.35 651.41 L84.95 651.11 L85.45 649.92 L86.22 647.36 L86.47 643.56 L86.77 647.5 L87.12 649.55 L87.62 651.06 L88.22 651.37 L88.82 650.99 L89.32 649.74 L90.8 647.42 L91.05 643.25 L91.35 647.5 L91.7 651.51 L92.2 652.96 L92.8 653.41 L93.4 652.69 L93.9 651.48 L95.61 646.6 L95.86 644.39 L96.16 647.5 L96.51 648.65 L97.01 650.11 L97.61 650.68 L98.21 650.05 L98.71 648.74 L100.65 646.65 L100.9 644.03 L101.2 647.5 L101.55 650.67 L102.05 651.84 L102.65 652.36 L103.25 651.9 L103.75 650.51 L104.76 647.35 L105.01 644.96 L105.31 647.5 L105.66 650.29 L106.16 651.43 L106.76 652.24 L107.36 651.56 L107.86 650.4 L109.82 646.83 L110.07 644.57 L110.37 647.5 L110.72 649.4 L111.22 650.63 L111.82 651.09 L112.42 650.66 L112.92 649.47 L114.63 647.36 L114.88 645.28 L115.18 647.5 L115.53 651.27 L116.03 652.66 L116.63 652.97 L117.23 652.72 L117.73 651.39 L118.56 647.35 L118.81 644.42 L119.11 647.5 L119.46 649.44 L119.96 650.88 L120.56 651.48 L121.16 650.88 L121.66 649.42 L122.6 646.63 L122.85 645.84 L123.15 647.5 L123.5 651.31 L124 652.78 L124.6 653.32 L125.2 652.58 L125.7 651.34 L127.64 647.2 L127.89 643.27 L128.19 647.5 L128.54 649.64 L129.04 650.95 L129.64 651.31 L130.24 650.89 L130.74 649.66 L131.67 647.34 L131.92 643.68 L132.22 647.5 L132.57 649.29 L133.07 650.75 L133.67 651.45 L134.27 650.61 L134.77 649.48 L136.02 646.99 L136.27 645.9 L136.57 647.5 L136.92 650.35 L137.42 651.59 L138.02 651.9 L138.62 651.61 L139.12 650.15 L141.07 646.9 L141.32 645.89 L141.62 647.5 L141.97 650.02 L142.47 651.34 L143.07 651.86 L143.67 651.3 L144.17 650.22 L144.65 647.28 L144.9 644.8 L145.2 647.5 L145.55 650.47 L146.05 651.91 L146.65 652.21 L147.25 651.58 L147.75 650.48 L148.58 647.23 L148.83 645.96 L149.13 647.5 L149.48 651.55 L149.98 652.61 L150.58 653.26 L151.18 652.67 L151.68 651.35 L152 650 L155 653.8 L158.7 655.4 L163.5 655.3" stroke="#444" stroke-width="0.38" fill="none"/>
<path d="M49.4 652.78 L56.1 652.8 L56.8 641.13 L57.3 651 L60.7 646.55 L60.95 643.08 L61.25 647.5 L61.6 650.46 L62.1 651.59 L62.7 652.15 L63.3 651.49 L63.8 650.35 L65.34 646.72 L65.59 645.73 L65.89 647.5 L66.24 650.44 L66.74 651.51 L67.34 652.34 L67.94 651.61 L68.44 650.48 L69.05 646.44 L69.3 644.79 L69.6 647.5 L69.95 649.06 L70.45 650.6 L71.05 650.96 L71.65 650.47 L72.15 649.27 L74.11 647.34 L74.36 643.78 L74.66 647.5 L75.01 650.85 L75.51 651.97 L76.11 652.57 L76.71 652.15 L77.21 650.63 L78.39 646.69 L78.64 644.9 L78.94 647.5 L79.29 651.27 L79.79 652.39 L80.39 652.92 L80.99 652.49 L81.49 651.26 L82.91 647.04 L83.16 645.84 L83.46 647.5 L83.81 649.14 L84.31 650.35 L84.91 651.16 L85.51 650.3 L86.01 649.05 L86.48 646.67 L86.73 644.93 L87.03 647.5 L87.38 650.79 L87.88 651.98 L88.48 652.35 L89.08 652.1 L89.58 650.77 L90.48 646.82 L90.73 645.59 L91.03 647.5 L91.38 649.01 L91.88 650.52 L92.48 650.81 L93.08 650.3 L93.58 648.93 L95.29 646.81 L95.54 643.55 L95.84 647.5 L96.19 651.21 L96.69 652.64 L97.29 652.95 L97.89 652.5 L98.39 651.25 L99.72 646.78 L99.97 644.22 L100.27 647.5 L100.62 650.45 L101.12 651.69 L101.72 652.48 L102.32 651.92 L102.82 650.71 L103.47 647.03 L103.72 645.02 L104.02 647.5 L104.37 650.14 L104.87 651.32 L105.47 651.83 L106.07 651.37 L106.57 649.87 L108.36 646.98 L108.61 644.55 L108.91 647.5 L109.26 648.96 L109.76 650.27 L110.36 650.6 L110.96 649.98 L111.46 648.95 L112.32 646.96 L112.57 643.05 L112.87 647.5 L113.22 649.46 L113.72 650.52 L114.32 651.17 L114.92 650.78 L115.42 649.33 L116.1 647.23 L116.35 645.13 L116.65 647.5 L117 649.95 L117.5 651.38 L118.1 651.81 L118.7 651.45 L119.2 650.09 L120.75 646.85 L121 644.47 L121.3 647.5 L121.65 650.31 L122.15 651.93 L122.75 652.45 L123.35 651.89 L123.85 650.62 L125.14 647.58 L125.39 645.98 L125.69 647.5 L126.04 649.9 L126.54 651.32 L127.14 651.95 L127.74 651.5 L128.24 650.08 L129.9 647.36 L130.15 644.12 L130.45 647.5 L130.8 650.72 L131.3 651.79 L131.9 652.59 L132.5 651.78 L133 650.6 L133.58 647.26 L133.83 645.29 L134.13 647.5 L134.48 648.99 L134.98 650.34 L135.58 651.08 L136.18 650.62 L136.68 648.98 L138.07 646.49 L138.32 644.19 L138.62 647.5 L138.97 650.32 L139.47 651.65 L140.07 652.52 L140.67 651.81 L141.17 650.56 L141.78 646.64 L142.03 645.06 L142.33 647.5 L142.68 651.47 L143.18 652.79 L143.78 653.4 L144.38 652.68 L144.88 651.41 L145.83 647.15 L146.08 645.34 L146.38 647.5 L146.73 649.63 L147.23 651.08 L147.83 651.55 L148.43 650.72 L148.93 649.45 L149.9 646.71 L150.15 644.19 L150.45 647.5 L150.8 650.83 L151.3 652.08 L151.9 652.57 L152.5 652.16 L153 650.78 L152 650 L155 653.8 L158.7 655.4 L163.5 655.3" stroke="#444" stroke-width="0.38" fill="none"/>
<path d="M49.4 652.5 L56.1 652.8 L56.8 641.75 L57.3 651 L61.5 646.49 L61.75 644.91 L62.05 647.5 L62.4 650.09 L62.9 651.45 L63.5 651.82 L64.1 651.41 L64.6 650.04 L65.14 646.98 L65.39 645.58 L65.69 647.5 L66.04 649.69 L66.54 651.04 L67.14 651.58 L67.74 650.83 L68.24 649.73 L68.89 647.44 L69.14 644.66 L69.44 647.5 L69.79 650.04 L70.29 651.31 L70.89 651.92 L71.49 651.19 L71.99 649.93 L72.55 647.28 L72.8 644.05 L73.1 647.5 L73.45 649.1 L73.95 650.71 L74.55 651.14 L75.15 650.53 L75.65 649.1 L76.77 647.57 L77.02 644.69 L77.32 647.5 L77.67 649.03 L78.17 650.36 L78.77 650.85 L79.37 650.33 L79.87 648.99 L81.63 647.12 L81.88 643.21 L82.18 647.5 L82.53 649.74 L83.03 650.97 L83.63 651.59 L84.23 650.87 L84.73 649.67 L85.83 646.9 L86.08 645.3 L86.38 647.5 L86.73 650 L87.23 651.15 L87.83 651.81 L88.43 651.12 L88.93 649.99 L90.19 647.35 L90.44 644.96 L90.74 647.5 L91.09 651.47 L91.59 652.47 L92.19 653.31 L92.79 652.55 L93.29 651.22 L94.42 647.37 L94.67 645.76 L94.97 647.5 L95.32 651.44 L95.82 652.66 L96.42 653.24 L97.02 652.88 L97.52 651.6 L98.03 646.81 L98.28 643.01 L98.58 647.5 L98.93 651.45 L99.43 652.92 L100.03 653.32 L100.63 653.06 L101.13 651.65 L102.51 646.66 L102.76 645.78 L103.06 647.5 L103.41 649.14 L103.91 650.37 L104.51 650.85 L105.11 650.27 L105.61 649.07 L107.52 647.57 L107.77 645.85 L108.07 647.5 L108.42 651.26 L108.92 652.51 L109.52 653.38 L110.12 652.6 L110.62 651.41 L111.77 646.56 L112.02 645.92 L112.32 647.5 L112.67 649.86 L113.17 651.44 L113.77 651.95 L114.37 651.13 L114.87 650.16 L115.86 647.43 L116.11 645.18 L116.41 647.5 L116.76 650.34 L117.26 651.46 L117.86 652.22 L118.46 651.78 L118.96 650.31 L120.68 646.83 L120.93 644.34 L121.23 647.5 L121.58 649.62 L122.08 651.03 L122.68 651.76 L123.28 651.06 L123.78 649.84 L124.47 646.86 L124.72 644.11 L125.02 647.5 L125.37 650.2 L125.87 651.84 L126.47 652.09 L127.07 651.75 L127.57 650.58 L128.43 647.05 L128.68 643.81 L128.98 647.5 L129.33 649.84 L129.83 650.8 L130.43 651.39 L131.03 651.1 L131.53 649.56 L133 646.43 L133.25 645.16 L133.55 647.5 L133.9 648.76 L134.4 650.12 L135 650.58 L135.6 649.94 L136.1 648.49 L137.34 646.44 L137.59 643.33 L137.89 647.5 L138.24 649.63 L138.74 650.91 L139.34 651.39 L139.94 650.81 L140.44 649.45 L140.89 646.44 L141.14 643.38 L141.44 647.5 L141.79 651.69 L142.29 652.88 L142.89 653.48 L143.49 652.82 L143.99 651.79 L145.68 647.5 L145.93 644.21 L146.23 647.5 L146.58 649.81 L147.08 651.39 L147.68 651.84 L148.28 651.27 L148.78 649.96 L150.13 646.82 L150.38 643.27 L150.68 647.5 L151.03 649.29 L151.53 650.53 L152.13 651.33 L152.73 650.67 L153.23 649.5 L152 650 L155 653.8 L158.7 655.4 L163.5 655.3" stroke="#444" stroke-width="0.38" fill="none"/>
<line x1="49.4" y1="652.9" x2="56.3" y2="652.9" stroke="#333" stroke-width="0.8"/>
<path d="M50 652.8 L50.2 647.5 L50.45 652.8" stroke="#444" stroke-width="0.4" fill="none"/>
<path d="M51.2 652.8 L51.4 647.5 L51.65 652.8" stroke="#444" stroke-width="0.4" fill="none"/>
<path d="M52.8 652.8 L53 647.5 L53.25 652.8" stroke="#444" stroke-width="0.4" fill="none"/>
<line x1="203.5" y1="654.6" x2="210.6" y2="654.6" stroke="#222" stroke-width="1.2"/>
<line x1="304.8" y1="654.6" x2="317.4" y2="654.6" stroke="#222" stroke-width="1.2"/>
<rect x="210.6" y="647.8" width="94.2" height="10.5" fill="#c8c8c8" stroke="none" stroke-width="1"/>
<path d="M210.4 654.6 L210.9 646.8 L212 647.32 L213.6 647 L215.2 647.2 L216.8 647.27 L218.4 647.6 L220 647.42 L221.6 647.79 L223.2 647.88 L224.8 648.08 L226.4 647.95 L228 648.12 L229.6 648.31 L231.2 647.79 L232.8 648.1 L234.4 647.95 L236 647.54 L237.6 647.2 L239.2 647.27 L240.8 647.4 L242.4 646.86 L244 647.23 L245.6 647.28 L247.2 647.04 L248.8 647.41 L250.4 647.33 L252 647.47 L253.6 647.83 L255.2 647.85 L256.8 648.12 L258.4 648.11 L260 647.96 L261.6 648.25 L263.2 647.7 L264.8 647.97 L266.4 647.55 L268 647.7 L269.6 647.41 L271.2 647.21 L272.8 647 L274.4 647.28 L276 647.29 L277.6 647.4 L279.2 647.32 L280.8 647.62 L282.4 647.76 L284 647.81 L285.6 647.79 L287.2 648.04 L288.8 647.99 L290.4 648.26 L292 648.11 L293.6 648.2 L295.2 648.1 L296.8 647.89 L298.4 647.46 L300 647.37 L301.6 647.1 L303.2 647.11 L304.2 647.6 L305 654.6" stroke="#555" stroke-width="0.4" fill="none"/>
<path d="M210.4 654.6 L210.9 647.8 L212 648.49 L213.6 648.71 L215.2 649.09 L216.8 648.85 L218.4 649.3 L220 649.31 L221.6 649.18 L223.2 648.82 L224.8 648.72 L226.4 648.65 L228 648.57 L229.6 648.57 L231.2 648 L232.8 647.94 L234.4 648.26 L236 647.87 L237.6 648.36 L239.2 648.11 L240.8 648.64 L242.4 648.54 L244 648.77 L245.6 649.03 L247.2 649.15 L248.8 649.02 L250.4 649.08 L252 649.23 L253.6 648.9 L255.2 648.81 L256.8 648.96 L258.4 648.8 L260 648.62 L261.6 648.23 L263.2 648.12 L264.8 647.93 L266.4 648.27 L268 647.9 L269.6 648.04 L271.2 648.08 L272.8 648.44 L274.4 648.86 L276 648.56 L277.6 648.79 L279.2 648.9 L280.8 649.18 L282.4 649.03 L284 648.9 L285.6 649.08 L287.2 649.06 L288.8 648.55 L290.4 648.34 L292 648.35 L293.6 648.48 L295.2 647.95 L296.8 647.93 L298.4 648.18 L300 648.28 L301.6 648.21 L303.2 648.14 L304.2 648.6 L305 654.6" stroke="#777" stroke-width="0.4" fill="none"/>
<path d="M210.4 654.6 L210.9 649 L212 650.31 L213.6 650.02 L215.2 649.9 L216.8 649.76 L218.4 650.04 L220 649.47 L221.6 649.51 L223.2 649.56 L224.8 649.18 L226.4 649.25 L228 649.47 L229.6 649.43 L231.2 649.35 L232.8 649.67 L234.4 650.05 L236 650.12 L237.6 650.34 L239.2 649.98 L240.8 650.06 L242.4 650.3 L244 650.02 L245.6 650.42 L247.2 649.96 L248.8 649.95 L250.4 649.95 L252 649.57 L253.6 649.61 L255.2 649.2 L256.8 649.28 L258.4 649.42 L260 649.33 L261.6 649.27 L263.2 649.74 L264.8 649.64 L266.4 650.07 L268 649.93 L269.6 650.31 L271.2 650.06 L272.8 650.38 L274.4 650.52 L276 650.31 L277.6 650.11 L279.2 650.26 L280.8 650.1 L282.4 649.87 L284 649.42 L285.6 649.23 L287.2 649.4 L288.8 649.12 L290.4 649.09 L292 649.4 L293.6 649.7 L295.2 649.49 L296.8 649.92 L298.4 650.15 L300 650.29 L301.6 649.98 L303.2 650.08 L304.2 649.8 L305 654.6" stroke="#777" stroke-width="0.4" fill="none"/>
<path d="M210.4 654.6 L210.9 651 L212 651.04 L213.6 650.91 L215.2 650.41 L216.8 650.35 L218.4 650.61 L220 650.34 L221.6 650.43 L223.2 650.58 L224.8 650.94 L226.4 650.99 L228 651.38 L229.6 651.17 L231.2 651.64 L232.8 651.64 L234.4 651.43 L236 651.5 L237.6 651.44 L239.2 651.04 L240.8 651.29 L242.4 650.88 L244 650.77 L245.6 650.81 L247.2 650.31 L248.8 650.39 L250.4 650.28 L252 650.68 L253.6 650.53 L255.2 650.91 L256.8 651.06 L258.4 651.36 L260 651.1 L261.6 651.34 L263.2 651.61 L264.8 651.47 L266.4 651.32 L268 651.51 L269.6 651.46 L271.2 651.15 L272.8 650.96 L274.4 650.67 L276 650.67 L277.6 650.77 L279.2 650.45 L280.8 650.73 L282.4 650.45 L284 650.59 L285.6 650.85 L287.2 651.06 L288.8 651.19 L290.4 651.13 L292 651.29 L293.6 651.23 L295.2 651.5 L296.8 651.66 L298.4 651.31 L300 651.29 L301.6 651.05 L303.2 651.09 L304.2 651 L305 654.6" stroke="#777" stroke-width="0.4" fill="none"/>
<path d="M210.4 654.6 L210.9 652.2 L212 651.75 L213.6 652.11 L215.2 652.08 L216.8 652.36 L218.4 652.16 L220 652.42 L221.6 652.68 L223.2 652.45 L224.8 652.73 L226.4 652.75 L228 652.39 L229.6 652.37 L231.2 652.52 L232.8 652.05 L234.4 652.13 L236 651.88 L237.6 651.75 L239.2 651.92 L240.8 651.65 L242.4 651.91 L244 651.95 L245.6 651.93 L247.2 651.85 L248.8 652.12 L250.4 652.59 L252 652.39 L253.6 652.66 L255.2 652.53 L256.8 652.82 L258.4 652.76 L260 652.78 L261.6 652.52 L263.2 652.13 L264.8 652.31 L266.4 652.05 L268 652.1 L269.6 651.78 L271.2 651.62 L272.8 651.67 L274.4 651.77 L276 651.93 L277.6 652.02 L279.2 652.29 L280.8 652.28 L282.4 652.27 L284 652.73 L285.6 652.75 L287.2 652.52 L288.8 652.67 L290.4 652.82 L292 652.59 L293.6 652.23 L295.2 652.45 L296.8 652.22 L298.4 651.81 L300 651.93 L301.6 651.93 L303.2 651.74 L304.2 652.2 L305 654.6" stroke="#777" stroke-width="0.4" fill="none"/>
<path d="M210.4 654.6 L210.9 653.4 L212 653.92 L213.6 653.83 L215.2 653.63 L216.8 653.98 L218.4 654.04 L220 654 L221.6 653.8 L223.2 653.75 L224.8 653.53 L226.4 653.2 L228 652.86 L229.6 652.81 L231.2 652.69 L232.8 653.11 L234.4 653.09 L236 653.23 L237.6 653.29 L239.2 653.27 L240.8 653.49 L242.4 653.37 L244 653.57 L245.6 653.79 L247.2 653.67 L248.8 653.8 L250.4 653.86 L252 653.59 L253.6 653.47 L255.2 653.27 L256.8 653.29 L258.4 653.33 L260 653.01 L261.6 653.05 L263.2 653.01 L264.8 653.06 L266.4 653.11 L268 653.07 L269.6 652.97 L271.2 653.19 L272.8 653.4 L274.4 653.58 L276 653.83 L277.6 653.86 L279.2 653.79 L280.8 653.72 L282.4 653.94 L284 653.96 L285.6 653.67 L287.2 653.24 L288.8 653.36 L290.4 653.26 L292 653.02 L293.6 652.99 L295.2 653.08 L296.8 652.91 L298.4 653.1 L300 652.95 L301.6 653.42 L303.2 653.45 L304.2 653.4 L305 654.6" stroke="#777" stroke-width="0.4" fill="none"/>
<path d="M210.4 654.6 L210.9 654.6 L212 654.81 L213.6 654.9 L215.2 654.85 L216.8 654.5 L218.4 654.28 L220 654.35 L221.6 654.4 L223.2 654.34 L224.8 654.01 L226.4 654.15 L228 654.2 L229.6 654.21 L231.2 654.57 L232.8 654.6 L234.4 654.84 L236 655.14 L237.6 655.09 L239.2 655.34 L240.8 654.94 L242.4 654.87 L244 654.7 L245.6 654.88 L247.2 654.52 L248.8 654.33 L250.4 654.39 L252 654.45 L253.6 654.26 L255.2 654.33 L256.8 654.34 L258.4 654.21 L260 654.16 L261.6 654.58 L263.2 654.46 L264.8 654.55 L266.4 654.84 L268 655.13 L269.6 655.15 L271.2 655.05 L272.8 654.88 L274.4 654.83 L276 654.92 L277.6 654.72 L279.2 654.59 L280.8 654.53 L282.4 654.31 L284 654.36 L285.6 654.32 L287.2 654.11 L288.8 654.07 L290.4 654.23 L292 654.23 L293.6 654.34 L295.2 654.77 L296.8 654.79 L298.4 654.71 L300 654.99 L301.6 655 L303.2 654.87 L304.2 654.6 L305 654.6" stroke="#777" stroke-width="0.4" fill="none"/>
<path d="M210.4 654.6 L210.9 655.8 L212 655.17 L213.6 655.39 L215.2 655.45 L216.8 655.49 L218.4 655.44 L220 655.36 L221.6 655.71 L223.2 655.68 L224.8 655.82 L226.4 656.01 L228 656.02 L229.6 656.08 L231.2 656.54 L232.8 656.06 L234.4 656.43 L236 656.17 L237.6 656.05 L239.2 655.58 L240.8 655.71 L242.4 655.33 L244 655.38 L245.6 655.29 L247.2 655.5 L248.8 655.14 L250.4 655.18 L252 655.59 L253.6 655.71 L255.2 655.93 L256.8 655.8 L258.4 656.08 L260 656.34 L261.6 656.34 L263.2 656.2 L264.8 656 L266.4 655.93 L268 656.22 L269.6 655.76 L271.2 655.5 L272.8 655.46 L274.4 655.29 L276 655.37 L277.6 655.08 L279.2 655.33 L280.8 655.44 L282.4 655.48 L284 655.65 L285.6 655.62 L287.2 655.86 L288.8 656.18 L290.4 656.07 L292 656.43 L293.6 656.14 L295.2 656.27 L296.8 656.42 L298.4 656.19 L300 655.86 L301.6 655.75 L303.2 655.55 L304.2 655.8 L305 654.6" stroke="#777" stroke-width="0.4" fill="none"/>
<path d="M210.4 654.6 L210.9 657 L212 656.86 L213.6 656.82 L215.2 657.21 L216.8 657.3 L218.4 657.5 L220 657.45 L221.6 657.38 L223.2 657.59 L224.8 657.42 L226.4 657.14 L228 657.21 L229.6 656.93 L231.2 656.71 L232.8 656.66 L234.4 656.87 L236 656.64 L237.6 656.47 L239.2 656.55 L240.8 656.5 L242.4 656.69 L244 656.67 L245.6 657.12 L247.2 657.25 L248.8 657.22 L250.4 657.4 L252 657.4 L253.6 657.63 L255.2 657.65 L256.8 657.64 L258.4 657.12 L260 657.39 L261.6 656.89 L263.2 656.67 L264.8 656.68 L266.4 656.68 L268 656.34 L269.6 656.57 L271.2 656.76 L272.8 656.73 L274.4 656.87 L276 656.67 L277.6 656.92 L279.2 657.03 L280.8 657.24 L282.4 657.6 L284 657.73 L285.6 657.38 L287.2 657.5 L288.8 657.44 L290.4 657.51 L292 657.1 L293.6 656.78 L295.2 656.61 L296.8 656.5 L298.4 656.56 L300 656.31 L301.6 656.6 L303.2 656.39 L304.2 657 L305 654.6" stroke="#777" stroke-width="0.4" fill="none"/>
<path d="M210.4 654.6 L210.9 658.2 L212 658.43 L213.6 658.81 L215.2 658.67 L216.8 658.76 L218.4 658.56 L220 658.33 L221.6 658.02 L223.2 658.25 L224.8 658.02 L226.4 657.69 L228 657.52 L229.6 657.77 L231.2 657.93 L232.8 657.91 L234.4 658.11 L236 658.28 L237.6 658.01 L239.2 658.19 L240.8 658.48 L242.4 658.41 L244 658.67 L245.6 658.86 L247.2 658.55 L248.8 658.75 L250.4 658.36 L252 658.49 L253.6 657.96 L255.2 657.83 L256.8 657.66 L258.4 657.82 L260 657.48 L261.6 657.8 L263.2 657.7 L264.8 658.03 L266.4 657.89 L268 658.26 L269.6 658.38 L271.2 658.34 L272.8 658.68 L274.4 658.69 L276 658.74 L277.6 658.66 L279.2 658.48 L280.8 658.57 L282.4 658.44 L284 658.24 L285.6 658.36 L287.2 657.8 L288.8 658.05 L290.4 657.78 L292 657.5 L293.6 657.74 L295.2 657.61 L296.8 657.86 L298.4 657.99 L300 658.29 L301.6 658.51 L303.2 658.24 L304.2 658.2 L305 654.6" stroke="#555" stroke-width="0.4" fill="none"/>
<path d="M212 648 L212.3 642.6 L212.65 648" stroke="#333" stroke-width="0.55" fill="none"/>
<path d="M220.4 648 L220.7 642.6 L221.05 648" stroke="#333" stroke-width="0.55" fill="none"/>
<path d="M228.3 648 L228.6 642.6 L228.95 648" stroke="#333" stroke-width="0.55" fill="none"/>
<path d="M234.4 648 L234.7 642.6 L235.05 648" stroke="#333" stroke-width="0.55" fill="none"/>
<path d="M238.2 648 L238.5 642.6 L238.85 648" stroke="#333" stroke-width="0.55" fill="none"/>
<path d="M39.4 684.2 L39.4 695.5 L49.1 695.5" stroke="#222" stroke-width="0.9" fill="none"/>
<text x="36.3" y="685" font-size="7.2" text-anchor="middle" fill="#000" font-weight="bold" transform="rotate(-90 36.3 685)">20 mV</text>
<text x="39.7" y="702.1" font-size="7.2" text-anchor="start" fill="#000" font-weight="bold">100 ms</text>
<path d="M193.2 684.6 L193.2 695.5 L202.8 695.5" stroke="#222" stroke-width="0.9" fill="none"/>
<text x="189.7" y="685.5" font-size="7.2" text-anchor="middle" fill="#000" font-weight="bold" transform="rotate(-90 189.7 685.5)">20 mV</text>
<text x="193.6" y="702.5" font-size="7.2" text-anchor="start" fill="#000" font-weight="bold">100 ms</text>
<line x1="410.9" y1="560.3" x2="410.9" y2="687.8" stroke="#000" stroke-width="1.3"/>
<line x1="410.3" y1="687.2" x2="598.9" y2="687.2" stroke="#000" stroke-width="1.3"/>
<line x1="407.9" y1="560.8" x2="410.9" y2="560.8" stroke="#000" stroke-width="1.2"/>
<text x="404.3" y="564.4" font-size="10.2" text-anchor="end" fill="#111">15</text>
<line x1="407.9" y1="592.4" x2="410.9" y2="592.4" stroke="#000" stroke-width="1.2"/>
<text x="404.3" y="596" font-size="10.2" text-anchor="end" fill="#111">10</text>
<line x1="407.9" y1="624" x2="410.9" y2="624" stroke="#000" stroke-width="1.2"/>
<text x="404.3" y="627.6" font-size="10.2" text-anchor="end" fill="#111">5</text>
<line x1="407.9" y1="655.6" x2="410.9" y2="655.6" stroke="#000" stroke-width="1.2"/>
<text x="404.3" y="659.2" font-size="10.2" text-anchor="end" fill="#111">0</text>
<line x1="407.9" y1="687.2" x2="410.9" y2="687.2" stroke="#000" stroke-width="1.2"/>
<text x="404.3" y="690.8" font-size="10.2" text-anchor="end" fill="#111">-5</text>
<line x1="410.6" y1="687.2" x2="410.6" y2="690.2" stroke="#000" stroke-width="1.2"/>
<text x="410.6" y="704.8" font-size="11" text-anchor="middle" fill="#111">-20</text>
<line x1="473.2" y1="687.2" x2="473.2" y2="690.2" stroke="#000" stroke-width="1.2"/>
<text x="473.2" y="704.8" font-size="11" text-anchor="middle" fill="#111">0</text>
<line x1="535.8" y1="687.2" x2="535.8" y2="690.2" stroke="#000" stroke-width="1.2"/>
<text x="535.8" y="704.8" font-size="11" text-anchor="middle" fill="#111">20</text>
<line x1="598.4" y1="687.2" x2="598.4" y2="690.2" stroke="#000" stroke-width="1.2"/>
<text x="598.4" y="704.8" font-size="11" text-anchor="middle" fill="#111">40</text>
<line x1="410.9" y1="655.6" x2="598.4" y2="655.6" stroke="#666" stroke-width="0.6" stroke-dasharray="1 1.2"/>
<line x1="488.85" y1="640.56" x2="488.85" y2="651.43" stroke="#000" stroke-width="1.1"/>
<line x1="486.85" y1="640.56" x2="490.85" y2="640.56" stroke="#000" stroke-width="1.1"/>
<line x1="486.85" y1="651.43" x2="490.85" y2="651.43" stroke="#000" stroke-width="1.1"/>
<line x1="504.5" y1="621.72" x2="504.5" y2="645.87" stroke="#000" stroke-width="1.1"/>
<line x1="502.5" y1="621.72" x2="506.5" y2="621.72" stroke="#000" stroke-width="1.1"/>
<line x1="502.5" y1="645.87" x2="506.5" y2="645.87" stroke="#000" stroke-width="1.1"/>
<line x1="520.15" y1="611.68" x2="520.15" y2="640.5" stroke="#000" stroke-width="1.1"/>
<line x1="518.15" y1="611.68" x2="522.15" y2="611.68" stroke="#000" stroke-width="1.1"/>
<line x1="518.15" y1="640.5" x2="522.15" y2="640.5" stroke="#000" stroke-width="1.1"/>
<line x1="535.8" y1="613.19" x2="535.8" y2="638.98" stroke="#000" stroke-width="1.1"/>
<line x1="533.8" y1="613.19" x2="537.8" y2="613.19" stroke="#000" stroke-width="1.1"/>
<line x1="533.8" y1="638.98" x2="537.8" y2="638.98" stroke="#000" stroke-width="1.1"/>
<line x1="551.45" y1="597.27" x2="551.45" y2="631.39" stroke="#000" stroke-width="1.1"/>
<line x1="549.45" y1="597.27" x2="553.45" y2="597.27" stroke="#000" stroke-width="1.1"/>
<line x1="549.45" y1="631.39" x2="553.45" y2="631.39" stroke="#000" stroke-width="1.1"/>
<line x1="567.1" y1="586.4" x2="567.1" y2="625.58" stroke="#000" stroke-width="1.1"/>
<line x1="565.1" y1="586.4" x2="569.1" y2="586.4" stroke="#000" stroke-width="1.1"/>
<line x1="565.1" y1="625.58" x2="569.1" y2="625.58" stroke="#000" stroke-width="1.1"/>
<line x1="582.75" y1="600.49" x2="582.75" y2="631.46" stroke="#000" stroke-width="1.1"/>
<line x1="580.75" y1="600.49" x2="584.75" y2="600.49" stroke="#000" stroke-width="1.1"/>
<line x1="580.75" y1="631.46" x2="584.75" y2="631.46" stroke="#000" stroke-width="1.1"/>
<line x1="598.4" y1="590.57" x2="598.4" y2="626.59" stroke="#000" stroke-width="1.1"/>
<line x1="596.4" y1="590.57" x2="600.4" y2="590.57" stroke="#000" stroke-width="1.1"/>
<line x1="596.4" y1="626.59" x2="600.4" y2="626.59" stroke="#000" stroke-width="1.1"/>
<path d="M410.6 655.6 L426.25 655.6 L441.9 655.6 L457.55 653.89 L473.2 653.51 L488.85 645.99 L504.5 633.8 L520.15 626.09 L535.8 626.09 L551.45 614.33 L567.1 605.99 L582.75 615.97 L598.4 608.58" stroke="#000" stroke-width="1.3" fill="none"/>
<circle cx="410.6" cy="655.6" r="2.3" fill="#000" stroke="none" stroke-width="1"/>
<circle cx="426.25" cy="655.6" r="2.3" fill="#000" stroke="none" stroke-width="1"/>
<circle cx="441.9" cy="655.6" r="2.3" fill="#000" stroke="none" stroke-width="1"/>
<circle cx="457.55" cy="653.89" r="2.3" fill="#000" stroke="none" stroke-width="1"/>
<circle cx="473.2" cy="653.51" r="2.3" fill="#000" stroke="none" stroke-width="1"/>
<circle cx="488.85" cy="645.99" r="2.3" fill="#000" stroke="none" stroke-width="1"/>
<circle cx="504.5" cy="633.8" r="2.3" fill="#000" stroke="none" stroke-width="1"/>
<circle cx="520.15" cy="626.09" r="2.3" fill="#000" stroke="none" stroke-width="1"/>
<circle cx="535.8" cy="626.09" r="2.3" fill="#000" stroke="none" stroke-width="1"/>
<circle cx="551.45" cy="614.33" r="2.3" fill="#000" stroke="none" stroke-width="1"/>
<circle cx="567.1" cy="605.99" r="2.3" fill="#000" stroke="none" stroke-width="1"/>
<circle cx="582.75" cy="615.97" r="2.3" fill="#000" stroke="none" stroke-width="1"/>
<circle cx="598.4" cy="608.58" r="2.3" fill="#000" stroke="none" stroke-width="1"/>
<line x1="567.1" y1="647.07" x2="567.1" y2="653.39" stroke="#f02820" stroke-width="1.1"/>
<line x1="565.1" y1="647.07" x2="569.1" y2="647.07" stroke="#f02820" stroke-width="1.1"/>
<line x1="565.1" y1="653.39" x2="569.1" y2="653.39" stroke="#f02820" stroke-width="1.1"/>
<line x1="598.4" y1="642.96" x2="598.4" y2="654.34" stroke="#f02820" stroke-width="1.1"/>
<line x1="596.4" y1="642.96" x2="600.4" y2="642.96" stroke="#f02820" stroke-width="1.1"/>
<line x1="596.4" y1="654.34" x2="600.4" y2="654.34" stroke="#f02820" stroke-width="1.1"/>
<path d="M410.6 655.6 L426.25 655.6 L441.9 655.6 L457.55 655.6 L473.2 655.6 L488.85 655.28 L504.5 654.97 L520.15 654.65 L535.8 653.7 L551.45 654.02 L567.1 650.23 L582.75 652.76 L598.4 648.65" stroke="#f02820" stroke-width="1.3" fill="none"/>
<path d="M410.6 653.2 L408.3 657.3 L412.9 657.3 Z" stroke="none" stroke-width="0" fill="#f02820"/>
<path d="M426.25 653.2 L423.95 657.3 L428.55 657.3 Z" stroke="none" stroke-width="0" fill="#f02820"/>
<path d="M441.9 653.2 L439.6 657.3 L444.2 657.3 Z" stroke="none" stroke-width="0" fill="#f02820"/>
<path d="M457.55 653.2 L455.25 657.3 L459.85 657.3 Z" stroke="none" stroke-width="0" fill="#f02820"/>
<path d="M473.2 653.2 L470.9 657.3 L475.5 657.3 Z" stroke="none" stroke-width="0" fill="#f02820"/>
<path d="M488.85 652.88 L486.55 656.98 L491.15 656.98 Z" stroke="none" stroke-width="0" fill="#f02820"/>
<path d="M504.5 652.57 L502.2 656.67 L506.8 656.67 Z" stroke="none" stroke-width="0" fill="#f02820"/>
<path d="M520.15 652.25 L517.85 656.35 L522.45 656.35 Z" stroke="none" stroke-width="0" fill="#f02820"/>
<path d="M535.8 651.3 L533.5 655.4 L538.1 655.4 Z" stroke="none" stroke-width="0" fill="#f02820"/>
<path d="M551.45 651.62 L549.15 655.72 L553.75 655.72 Z" stroke="none" stroke-width="0" fill="#f02820"/>
<path d="M567.1 647.83 L564.8 651.93 L569.4 651.93 Z" stroke="none" stroke-width="0" fill="#f02820"/>
<path d="M582.75 650.36 L580.45 654.46 L585.05 654.46 Z" stroke="none" stroke-width="0" fill="#f02820"/>
<path d="M598.4 646.25 L596.1 650.35 L600.7 650.35 Z" stroke="none" stroke-width="0" fill="#f02820"/>
<text x="553" y="599" font-size="14.5" text-anchor="middle" fill="#000">**</text>
<text x="567.2" y="587" font-size="14.5" text-anchor="middle" fill="#000">***</text>
<text x="582.8" y="601.2" font-size="14.5" text-anchor="middle" fill="#000">*</text>
<text x="598.6" y="592.5" font-size="14.5" text-anchor="middle" fill="#000">**</text>
<line x1="611.9" y1="571.9" x2="625" y2="571.9" stroke="#000" stroke-width="1.1"/>
<circle cx="618.4" cy="571.9" r="2.2" fill="#000" stroke="none" stroke-width="1"/>
<line x1="611.9" y1="586.5" x2="625" y2="586.5" stroke="#f02820" stroke-width="1.1"/>
<path d="M618.4 584.2 L616.1 587.9 L620.7 587.9 Z" stroke="none" stroke-width="0" fill="#f02820"/>
<text x="632.7" y="576.8" font-size="12.5" text-anchor="start" fill="#111">Ctrl</text>
<text x="632.7" y="591.2" font-size="12.5" text-anchor="start" fill="#111">MT</text>
<text x="385.4" y="627" font-size="13.8" text-anchor="middle" fill="#111" transform="rotate(-90 385.4 627)">AP frequency (Hz)</text>
<text x="508.9" y="720.2" font-size="13.8" text-anchor="middle" fill="#111">Current injection (pA)</text>
<text x="0.5" y="751.6" font-size="22" text-anchor="start" fill="#1e1414">I</text>
<text x="113" y="756.8" font-size="14.3" text-anchor="middle" fill="#000">Ctrl</text>
<text x="257.6" y="756.2" font-size="14.3" text-anchor="middle" fill="#000">MT</text>
<line x1="48.03" y1="778.3" x2="48.03" y2="785.69" stroke="#999" stroke-width="0.6"/>
<line x1="53.17" y1="778.3" x2="53.17" y2="791.53" stroke="#999" stroke-width="0.6"/>
<line x1="57.37" y1="778.3" x2="57.37" y2="795.04" stroke="#888" stroke-width="0.6"/>
<line x1="62.75" y1="778.3" x2="62.75" y2="807.89" stroke="#aaa" stroke-width="0.6"/>
<line x1="67.89" y1="778.3" x2="67.89" y2="790.37" stroke="#999" stroke-width="0.6"/>
<line x1="77.23" y1="778.3" x2="77.23" y2="784.53" stroke="#aaa" stroke-width="0.6"/>
<line x1="81.43" y1="778.3" x2="81.43" y2="797.37" stroke="#777" stroke-width="0.6"/>
<line x1="85.87" y1="778.3" x2="85.87" y2="788.03" stroke="#aaa" stroke-width="0.6"/>
<line x1="88.91" y1="778.3" x2="88.91" y2="792.7" stroke="#888" stroke-width="0.6"/>
<line x1="91.25" y1="778.3" x2="91.25" y2="791.53" stroke="#888" stroke-width="0.6"/>
<line x1="104.09" y1="778.3" x2="104.09" y2="784.53" stroke="#aaa" stroke-width="0.6"/>
<line x1="108.3" y1="778.3" x2="108.3" y2="799.71" stroke="#888" stroke-width="0.6"/>
<line x1="110.63" y1="778.3" x2="110.63" y2="796.21" stroke="#999" stroke-width="0.6"/>
<line x1="119.28" y1="778.3" x2="119.28" y2="809.52" stroke="#555" stroke-width="0.6"/>
<line x1="131.66" y1="778.3" x2="131.66" y2="795.04" stroke="#aaa" stroke-width="0.6"/>
<line x1="135.16" y1="778.3" x2="135.16" y2="796.21" stroke="#aaa" stroke-width="0.6"/>
<line x1="137.26" y1="778.3" x2="137.26" y2="795.04" stroke="#aaa" stroke-width="0.6"/>
<line x1="143.34" y1="778.3" x2="143.34" y2="786.86" stroke="#999" stroke-width="0.6"/>
<line x1="149.64" y1="778.3" x2="149.64" y2="788.03" stroke="#999" stroke-width="0.6"/>
<line x1="152.45" y1="778.3" x2="152.45" y2="790.37" stroke="#777" stroke-width="0.6"/>
<line x1="161.32" y1="778.3" x2="161.32" y2="790.37" stroke="#aaa" stroke-width="0.6"/>
<line x1="164.36" y1="778.3" x2="164.36" y2="786.86" stroke="#aaa" stroke-width="0.6"/>
<line x1="165.99" y1="778.3" x2="165.99" y2="785.69" stroke="#aaa" stroke-width="0.6"/>
<path d="M61.8 778.5 L62.6 790 L63.2 791 L63.8 786 L65 780" stroke="#222" stroke-width="0.8" fill="#444"/>
<path d="M47.6 778.46 L47.85 778.17 L48.1 777.07 L48.35 778.67 L48.6 778.46 L48.85 778.47 L49.1 778.32 L49.35 779.55 L49.6 779.22 L49.85 779.44 L50.1 778.13 L50.35 777.72 L50.6 777.14 L50.85 777.72 L51.1 776.26 L51.35 779.12 L51.6 778.48 L51.85 778.31 L52.1 778.99 L52.35 778.01 L52.6 778.38 L52.85 778.94 L53.1 776.94 L53.35 779.54 L53.6 778.62 L53.85 778.87 L54.1 777.43 L54.35 777.53 L54.6 779.65 L54.85 778.06 L55.1 777.86 L55.35 778.63 L55.6 779.66 L55.85 776.41 L56.1 779.26 L56.35 778.75 L56.6 779.23 L56.85 777.59 L57.1 778.47 L57.35 779.84 L57.6 778.57 L57.85 777.84 L58.1 777.87 L58.35 777.8 L58.6 779 L58.85 778.7 L59.1 778.02 L59.35 779.06 L59.6 777.56 L59.85 776.95 L60.1 780.29 L60.35 778.26 L60.6 779.9 L60.85 778.67 L61.1 778.31 L61.35 778.92 L61.6 777.79 L61.85 777.58 L62.1 778.12 L62.35 778.08 L62.6 779.08 L62.85 780.36 L63.1 777.83 L63.35 777.59 L63.6 779.04 L63.85 779.11 L64.1 779.68 L64.35 778.1 L64.6 779.01 L64.85 778.6 L65.1 777.09 L65.35 778.69 L65.6 777.17 L65.85 778.79 L66.1 778.21 L66.35 778.34 L66.6 780.44 L66.85 780.37 L67.1 779.34 L67.35 779.11 L67.6 778 L67.85 779.63 L68.1 779.38 L68.35 777.98 L68.6 776.97 L68.85 778.29 L69.1 778.39 L69.35 779.36 L69.6 777.83 L69.85 777.66 L70.1 778.81 L70.35 778.74 L70.6 779.51 L70.85 779.82 L71.1 778.04 L71.35 776.73 L71.6 778.22 L71.85 777.87 L72.1 778.69 L72.35 776.72 L72.6 778.03 L72.85 778.58 L73.1 778.1 L73.35 778.98 L73.6 778.78 L73.85 778.85 L74.1 779.84 L74.35 780.03 L74.6 779.98 L74.85 779.21 L75.1 778.84 L75.35 779.15 L75.6 778.98 L75.85 777.99 L76.1 778.81 L76.35 779.45 L76.6 778.37 L76.85 777.52 L77.1 778.87 L77.35 777.93 L77.6 777.06 L77.85 778.02 L78.1 777.09 L78.35 778.54 L78.6 778.05 L78.85 778.49 L79.1 779.54 L79.35 779.72 L79.6 778.65 L79.85 776.59 L80.1 777.64 L80.35 777.24 L80.6 779.03 L80.85 779.99 L81.1 779.39 L81.35 779.21 L81.6 779.09 L81.85 779.18 L82.1 778.23 L82.35 779.19 L82.6 778.28 L82.85 777.32 L83.1 778.21 L83.35 779.8 L83.6 778.48 L83.85 776.77 L84.1 779.16 L84.35 778.72 L84.6 778.91 L84.85 778.02 L85.1 778.7 L85.35 779.85 L85.6 778.02 L85.85 778.87 L86.1 778.72 L86.35 777.58 L86.6 778.3 L86.85 778.8 L87.1 777.6 L87.35 779.18 L87.6 777.41 L87.85 779.12 L88.1 778.97 L88.35 778.6 L88.6 777.57 L88.85 777.36 L89.1 776.29 L89.35 777.73 L89.6 777.97 L89.85 778.64 L90.1 779.19 L90.35 778.54 L90.6 777.92 L90.85 779 L91.1 778.3 L91.35 778.14 L91.6 777.06 L91.85 778.86 L92.1 777.65 L92.35 779.77 L92.6 777.65 L92.85 777.57 L93.1 778.07 L93.35 777.45 L93.6 776.63 L93.85 776.75 L94.1 777.06 L94.35 777.65 L94.6 778.87 L94.85 778.83 L95.1 778.5 L95.35 778.88 L95.6 776.24 L95.85 777.13 L96.1 777.36 L96.35 776.97 L96.6 778.26 L96.85 777.49 L97.1 776.93 L97.35 778.62 L97.6 777.56 L97.85 777.71 L98.1 776.6 L98.35 778.56 L98.6 778.18 L98.85 779.36 L99.1 779.87 L99.35 779.09 L99.6 777.92 L99.85 777.3 L100.1 779.37 L100.35 778.12 L100.6 778.62 L100.85 778.37 L101.1 776.14 L101.35 777.58 L101.6 778.09 L101.85 778.24 L102.1 777.96 L102.35 778.25 L102.6 777.18 L102.85 778.43 L103.1 777.68 L103.35 778.14 L103.6 779.57 L103.85 778.57 L104.1 777.25 L104.35 778.25 L104.6 776.82 L104.85 777.99 L105.1 779.35 L105.35 777.4 L105.6 777.83 L105.85 777.27 L106.1 778.11 L106.35 778.42 L106.6 778.35 L106.85 777.93 L107.1 776.39 L107.35 776.99 L107.6 777.53 L107.85 778.77 L108.1 776.49 L108.35 778.83 L108.6 777.64 L108.85 776.57 L109.1 779.19 L109.35 778.71 L109.6 777.47 L109.85 778.31 L110.1 778.79 L110.35 777.06 L110.6 779.17 L110.85 777.67 L111.1 778.88 L111.35 777.89 L111.6 776.78 L111.85 777.45 L112.1 777.66 L112.35 778.29 L112.6 776.81 L112.85 777.12 L113.1 778.37 L113.35 778 L113.6 777.81 L113.85 778.64 L114.1 777.23 L114.35 779.93 L114.6 778.02 L114.85 778.64 L115.1 778.29 L115.35 779.27 L115.6 778.18 L115.85 777.67 L116.1 778.49 L116.35 778.99 L116.6 778.41 L116.85 780.27 L117.1 779.49 L117.35 779.89 L117.6 779.9 L117.85 779.68 L118.1 778.56 L118.35 779.96 L118.6 778.46 L118.85 778.62 L119.1 779.78 L119.35 779.6 L119.6 777.77 L119.85 778.1 L120.1 777.65 L120.35 779.39 L120.6 778.39 L120.85 778.54 L121.1 777.94 L121.35 777.98 L121.6 779.04 L121.85 777.77 L122.1 778.46 L122.35 778.11 L122.6 778.16 L122.85 777.36 L123.1 779.37 L123.35 777.31 L123.6 777.24 L123.85 777.95 L124.1 778.53 L124.35 777.91 L124.6 777.02 L124.85 777.86 L125.1 777.56 L125.35 777.79 L125.6 779.86 L125.85 777.03 L126.1 778.27 L126.35 778.87 L126.6 778.29 L126.85 778.22 L127.1 779.47 L127.35 778.59 L127.6 777.07 L127.85 777.96 L128.1 778.79 L128.35 778.29 L128.6 778.02 L128.85 778.64 L129.1 778.16 L129.35 778.62 L129.6 779.17 L129.85 778.15 L130.1 777.1 L130.35 779.45 L130.6 779.09 L130.85 777.99 L131.1 777.2 L131.35 778.3 L131.6 778.69 L131.85 779.01 L132.1 778.96 L132.35 778.24 L132.6 778.12 L132.85 777.12 L133.1 777.6 L133.35 777.92 L133.6 779.34 L133.85 777.52 L134.1 779.95 L134.35 779.58 L134.6 778.26 L134.85 777.92 L135.1 778.57 L135.35 778.84 L135.6 779.17 L135.85 777.08 L136.1 777.88 L136.35 778.78 L136.6 779.3 L136.85 779.01 L137.1 778.47 L137.35 778.7 L137.6 778.01 L137.85 779.84 L138.1 779.48 L138.35 778.96 L138.6 778 L138.85 778.26 L139.1 778.68 L139.35 778.5 L139.6 779.81 L139.85 780.22 L140.1 779.62 L140.35 777.58 L140.6 778.78 L140.85 777.96 L141.1 778.24 L141.35 780 L141.6 777.12 L141.85 776.86 L142.1 777.44 L142.35 778.78 L142.6 778.01 L142.85 776.48 L143.1 778.22 L143.35 778.8 L143.6 779.42 L143.85 778.55 L144.1 779.25 L144.35 777.9 L144.6 778.91 L144.85 779.38 L145.1 778.18 L145.35 777.85 L145.6 779.17 L145.85 777.72 L146.1 777.28 L146.35 778.01 L146.6 778.62 L146.85 779.03 L147.1 777.89 L147.35 778.53 L147.6 777.43 L147.85 776.97 L148.1 779.97 L148.35 777.84 L148.6 776.72 L148.85 778.09 L149.1 777.43 L149.35 778.58 L149.6 776.19 L149.85 776.66 L150.1 778.69 L150.35 778.42 L150.6 777.32 L150.85 779.21 L151.1 779.18 L151.35 777.97 L151.6 779.02 L151.85 778.77 L152.1 777.08 L152.35 777.16 L152.6 778 L152.85 777.08 L153.1 776.44 L153.35 777.25 L153.6 778.48 L153.85 778.21 L154.1 777.15 L154.35 776.13 L154.6 778.18 L154.85 777.8 L155.1 778.64 L155.35 778.01 L155.6 777.52 L155.85 778.05 L156.1 777.33 L156.35 777.36 L156.6 777.03 L156.85 776.13 L157.1 778.44 L157.35 778.99 L157.6 777.66 L157.85 777.53 L158.1 779.88 L158.35 778.83 L158.6 777.78 L158.85 776.85 L159.1 779.25 L159.35 779.37 L159.6 777.53 L159.85 778.5 L160.1 777.26 L160.35 777.57 L160.6 778.87 L160.85 777.94 L161.1 777.39 L161.35 776.61 L161.6 778.25 L161.85 777.9 L162.1 776.93 L162.35 779.61 L162.6 777.75 L162.85 777.52 L163.1 778.3 L163.35 777.86 L163.6 778.06 L163.85 778.43 L164.1 777.72 L164.35 777.19 L164.6 777.65 L164.85 778.91 L165.1 778.28 L165.35 779.52 L165.6 778.49 L165.85 777.41 L166.1 778.21 L166.35 778.01 L166.6 777.71 L166.85 777.91 L167.1 778.96 L167.35 779.1 L167.6 778.69 L167.85 778.51 L168.1 778.85 L168.35 778.99 L168.6 778.75 L168.85 777.76" stroke="#000" stroke-width="0.9" fill="none"/>
<line x1="212.24" y1="776.8" x2="212.24" y2="804.28" stroke="#666" stroke-width="0.6"/>
<line x1="219.71" y1="776.8" x2="219.71" y2="796.57" stroke="#999" stroke-width="0.6"/>
<line x1="220.88" y1="776.8" x2="220.88" y2="793.07" stroke="#aaa" stroke-width="0.6"/>
<line x1="222.05" y1="776.8" x2="222.05" y2="791.9" stroke="#aaa" stroke-width="0.6"/>
<line x1="223.21" y1="776.8" x2="223.21" y2="786.06" stroke="#aaa" stroke-width="0.6"/>
<line x1="237.23" y1="776.8" x2="237.23" y2="796.57" stroke="#777" stroke-width="0.6"/>
<line x1="247.74" y1="776.8" x2="247.74" y2="793.54" stroke="#888" stroke-width="0.6"/>
<line x1="250.54" y1="776.8" x2="250.54" y2="784.89" stroke="#aaa" stroke-width="0.6"/>
<line x1="252.88" y1="776.8" x2="252.88" y2="786.06" stroke="#aaa" stroke-width="0.6"/>
<line x1="266.43" y1="776.8" x2="266.43" y2="792.6" stroke="#999" stroke-width="0.6"/>
<line x1="269.47" y1="776.8" x2="269.47" y2="794.94" stroke="#888" stroke-width="0.6"/>
<line x1="273.44" y1="776.8" x2="273.44" y2="783.73" stroke="#aaa" stroke-width="0.6"/>
<line x1="282.78" y1="776.8" x2="282.78" y2="784.89" stroke="#999" stroke-width="0.6"/>
<line x1="290.96" y1="776.8" x2="290.96" y2="780.22" stroke="#aaa" stroke-width="0.6"/>
<line x1="303.34" y1="776.8" x2="303.34" y2="783.26" stroke="#999" stroke-width="0.6"/>
<line x1="312.68" y1="776.8" x2="312.68" y2="788.4" stroke="#888" stroke-width="0.6"/>
<path d="M209.2 775.78 L209.45 776.14 L209.7 777.02 L209.95 776.3 L210.2 775.75 L210.45 775.22 L210.7 777.04 L210.95 776.66 L211.2 776.2 L211.45 775.84 L211.7 775.08 L211.95 776.43 L212.2 775.96 L212.45 776.61 L212.7 778.05 L212.95 776.79 L213.2 776.73 L213.45 777.65 L213.7 776.87 L213.95 777 L214.2 775.95 L214.45 775.96 L214.7 775.36 L214.95 777.45 L215.2 778.12 L215.45 776.81 L215.7 776.85 L215.95 776.65 L216.2 778.96 L216.45 778.34 L216.7 777.22 L216.95 777.71 L217.2 778.36 L217.45 776.51 L217.7 777.54 L217.95 777.73 L218.2 777.29 L218.45 777.85 L218.7 778.32 L218.95 777.42 L219.2 776.92 L219.45 777.91 L219.7 777.47 L219.95 777.6 L220.2 778.95 L220.45 777.88 L220.7 777.3 L220.95 776.11 L221.2 777.31 L221.45 777.55 L221.7 777.8 L221.95 777.82 L222.2 777.95 L222.45 777.59 L222.7 777.44 L222.95 777.78 L223.2 776.78 L223.45 776.34 L223.7 776.24 L223.95 777.14 L224.2 775.74 L224.45 776.55 L224.7 776.95 L224.95 777.45 L225.2 776.43 L225.45 777.14 L225.7 777.27 L225.95 776.81 L226.2 777.22 L226.45 777.09 L226.7 776.28 L226.95 776.77 L227.2 776.39 L227.45 778.66 L227.7 777.33 L227.95 776.73 L228.2 775.92 L228.45 776.96 L228.7 777.49 L228.95 777.31 L229.2 776.09 L229.45 776.13 L229.7 776.09 L229.95 777.15 L230.2 776.49 L230.45 776.98 L230.7 778.66 L230.95 775.92 L231.2 776.72 L231.45 777.06 L231.7 775.88 L231.95 777.79 L232.2 777.06 L232.45 777.45 L232.7 777.7 L232.95 778.44 L233.2 776.85 L233.45 776.55 L233.7 775.94 L233.95 775.83 L234.2 778.38 L234.45 776.98 L234.7 775.61 L234.95 777.37 L235.2 778.63 L235.45 776.57 L235.7 776.93 L235.95 775.86 L236.2 775.13 L236.45 776.49 L236.7 775.92 L236.95 775.8 L237.2 776.78 L237.45 777.29 L237.7 776.87 L237.95 778.04 L238.2 776.64 L238.45 776.62 L238.7 777.64 L238.95 778.78 L239.2 778.77 L239.45 778.16 L239.7 777.29 L239.95 775.85 L240.2 777.94 L240.45 777.03 L240.7 778.71 L240.95 777.33 L241.2 775.3 L241.45 777.49 L241.7 777.12 L241.95 776.43 L242.2 776.89 L242.45 776.84 L242.7 777.07 L242.95 775.34 L243.2 776.53 L243.45 777.11 L243.7 775.79 L243.95 777.67 L244.2 776.81 L244.45 775.02 L244.7 777.76 L244.95 776.62 L245.2 776.75 L245.45 776.55 L245.7 778.33 L245.95 777.06 L246.2 776.17 L246.45 776.03 L246.7 777.04 L246.95 777.26 L247.2 776.21 L247.45 777.37 L247.7 776.21 L247.95 776.69 L248.2 777.1 L248.45 776.96 L248.7 776.92 L248.95 776.91 L249.2 776.24 L249.45 776.71 L249.7 776.9 L249.95 775.59 L250.2 775.16 L250.45 776.55 L250.7 776.54 L250.95 776.7 L251.2 777.22 L251.45 777 L251.7 776.17 L251.95 776.92 L252.2 776.01 L252.45 777.89 L252.7 777.68 L252.95 776.75 L253.2 776 L253.45 776.83 L253.7 776.43 L253.95 775.84 L254.2 776.8 L254.45 776.64 L254.7 777.25 L254.95 776.49 L255.2 778.11 L255.45 778.28 L255.7 775.49 L255.95 774.55 L256.2 775.28 L256.45 777.54 L256.7 777.24 L256.95 776.74 L257.2 776.76 L257.45 775.49 L257.7 776.43 L257.95 775.59 L258.2 776.48 L258.45 776.18 L258.7 775.96 L258.95 775.93 L259.2 776.86 L259.45 778.16 L259.7 775.35 L259.95 776.85 L260.2 776.2 L260.45 777.71 L260.7 777.66 L260.95 776 L261.2 776.45 L261.45 777.67 L261.7 778.12 L261.95 776.29 L262.2 775.58 L262.45 776.55 L262.7 777.63 L262.95 777.51 L263.2 776.97 L263.45 777.04 L263.7 777.05 L263.95 776.67 L264.2 775.77 L264.45 776.96 L264.7 776.96 L264.95 777.35 L265.2 776.66 L265.45 776.12 L265.7 777.08 L265.95 777.37 L266.2 778.22 L266.45 775.75 L266.7 776.01 L266.95 776.24 L267.2 778.32 L267.45 774.97 L267.7 777.05 L267.95 776.01 L268.2 775.59 L268.45 777.11 L268.7 777.34 L268.95 774.68 L269.2 775.05 L269.45 776.3 L269.7 776.12 L269.95 777.47 L270.2 776.1 L270.45 776.31 L270.7 774.73 L270.95 776.72 L271.2 776.7 L271.45 777.29 L271.7 776.2 L271.95 778.14 L272.2 776.43 L272.45 778.12 L272.7 778.52 L272.95 776.3 L273.2 776.79 L273.45 776.19 L273.7 775.09 L273.95 776.87 L274.2 776.78 L274.45 777.89 L274.7 778.33 L274.95 775.63 L275.2 776.28 L275.45 777.01 L275.7 777.55 L275.95 777.08 L276.2 776.19 L276.45 776.48 L276.7 777.3 L276.95 775.81 L277.2 775.47 L277.45 775.47 L277.7 775.99 L277.95 777.77 L278.2 776.63 L278.45 777.39 L278.7 778.11 L278.95 778.12 L279.2 777.32 L279.45 776.87 L279.7 776.84 L279.95 776.61 L280.2 776.23 L280.45 777.17 L280.7 777.74 L280.95 776.6 L281.2 776.1 L281.45 776.75 L281.7 776.92 L281.95 777.61 L282.2 777.26 L282.45 777.11 L282.7 775.71 L282.95 776.33 L283.2 776.58 L283.45 776.37 L283.7 777.25 L283.95 777.07 L284.2 776.37 L284.45 777.25 L284.7 778.04 L284.95 778.95 L285.2 777.42 L285.45 776.72 L285.7 777.71 L285.95 778.61 L286.2 776.91 L286.45 777.59 L286.7 777 L286.95 777.82 L287.2 776.65 L287.45 776.65 L287.7 776.79 L287.95 776.91 L288.2 776 L288.45 776.68 L288.7 776.34 L288.95 778.55 L289.2 778.56 L289.45 776.91 L289.7 776.69 L289.95 777.35 L290.2 776.72 L290.45 776.59 L290.7 777.6 L290.95 778.17 L291.2 777.76 L291.45 778.46 L291.7 777.45 L291.95 777.12 L292.2 776.81 L292.45 776.71 L292.7 776.39 L292.95 778.2 L293.2 778.12 L293.45 777.22 L293.7 777.23 L293.95 776.42 L294.2 777.53 L294.45 777.07 L294.7 776.99 L294.95 776.85 L295.2 775.82 L295.45 776.41 L295.7 778.27 L295.95 776.66 L296.2 776.27 L296.45 776.74 L296.7 776.25 L296.95 776.1 L297.2 775.93 L297.45 776.06 L297.7 776.89 L297.95 775.3 L298.2 775.5 L298.45 775.64 L298.7 776.8 L298.95 776.25 L299.2 777.23 L299.45 776.4 L299.7 777.82 L299.95 775.74 L300.2 778.34 L300.45 776.24 L300.7 776.59 L300.95 776.08 L301.2 776.61 L301.45 778.18 L301.7 777.94 L301.95 776.76 L302.2 777.37 L302.45 778.52 L302.7 777.85 L302.95 776.91 L303.2 777.3 L303.45 777.42 L303.7 775.6 L303.95 776.24 L304.2 776.89 L304.45 778.5 L304.7 777.87 L304.95 777.35 L305.2 775.7 L305.45 776.32 L305.7 775.55 L305.95 776.74 L306.2 776.4 L306.45 777.49 L306.7 777 L306.95 776.95 L307.2 777.18 L307.45 777.73 L307.7 776.77 L307.95 776.41 L308.2 776.91 L308.45 778.76 L308.7 776.89 L308.95 776.17 L309.2 777 L309.45 775.57 L309.7 777.03 L309.95 775.88 L310.2 776.35 L310.45 776.47 L310.7 775.98 L310.95 777 L311.2 776.8 L311.45 777.6 L311.7 777.39 L311.95 776.49 L312.2 777.28 L312.45 777.36 L312.7 776.95 L312.95 776.93 L313.2 777.68 L313.45 776.35 L313.7 777.66 L313.95 777.06 L314.2 777.21 L314.45 777.65 L314.7 778.54 L314.95 776.34 L315.2 775.4 L315.45 777.28 L315.7 776.42 L315.95 776.6 L316.2 775.36 L316.45 777.27 L316.7 776.97 L316.95 775.33 L317.2 777.16 L317.45 776.63 L317.7 776.12 L317.95 774.97 L318.2 777.77 L318.45 776.01 L318.7 776.97 L318.95 776.07 L319.2 775.59 L319.45 777.15 L319.7 777.17" stroke="#000" stroke-width="0.9" fill="none"/>
<path d="M35.8 817.6 L35.8 828.6 L47.8 828.6" stroke="#222" stroke-width="0.9" fill="none"/>
<text x="33" y="817.3" font-size="8.1" text-anchor="middle" fill="#000" font-weight="bold" transform="rotate(-90 33 817.3)">20 pA</text>
<text x="36.4" y="836.8" font-size="8.5" text-anchor="start" fill="#000" font-weight="bold">0.5s</text>
<path d="M196.4 815.2 L196.4 825.7 L207.8 825.7" stroke="#222" stroke-width="0.9" fill="none"/>
<text x="194" y="814.8" font-size="8.1" text-anchor="middle" fill="#000" font-weight="bold" transform="rotate(-90 194 814.8)">20 pA</text>
<text x="196.7" y="833.9" font-size="8.5" text-anchor="start" fill="#000" font-weight="bold">0.5s</text>
<line x1="63.6" y1="857.1" x2="63.6" y2="981.58" stroke="#000" stroke-width="1.2"/>
<line x1="63.6" y1="857.6" x2="149.8" y2="857.6" stroke="#000" stroke-width="1.2"/>
<line x1="59" y1="857.6" x2="63.6" y2="857.6" stroke="#000" stroke-width="1.1"/>
<text x="58.6" y="861.5" font-size="10.2" text-anchor="end" fill="#000">0</text>
<line x1="59" y1="888.47" x2="63.6" y2="888.47" stroke="#000" stroke-width="1.1"/>
<text x="58.6" y="892.37" font-size="10.2" text-anchor="end" fill="#000">-10</text>
<line x1="59" y1="919.34" x2="63.6" y2="919.34" stroke="#000" stroke-width="1.1"/>
<text x="58.6" y="923.24" font-size="10.2" text-anchor="end" fill="#000">-20</text>
<line x1="59" y1="950.21" x2="63.6" y2="950.21" stroke="#000" stroke-width="1.1"/>
<text x="58.6" y="954.11" font-size="10.2" text-anchor="end" fill="#000">-30</text>
<line x1="59" y1="981.08" x2="63.6" y2="981.08" stroke="#000" stroke-width="1.1"/>
<text x="58.6" y="984.98" font-size="10.2" text-anchor="end" fill="#000">-40</text>
<line x1="88.8" y1="857.6" x2="88.8" y2="853.1" stroke="#000" stroke-width="1.1"/>
<line x1="125.6" y1="857.6" x2="125.6" y2="853.1" stroke="#000" stroke-width="1.1"/>
<rect x="76.2" y="857.6" width="25" height="78.8" fill="#000" stroke="#000" stroke-width="1.1"/>
<line x1="88.7" y1="950.3" x2="88.7" y2="936.4" stroke="#000" stroke-width="1.1"/>
<line x1="82.8" y1="950.3" x2="94.6" y2="950.3" stroke="#000" stroke-width="1.1"/>
<rect x="113.5" y="857.6" width="23.7" height="49.9" fill="#e8281e" stroke="#000" stroke-width="1.1"/>
<line x1="125.4" y1="914.1" x2="125.4" y2="907.5" stroke="#000" stroke-width="1.1"/>
<line x1="119.5" y1="914.1" x2="131.3" y2="914.1" stroke="#000" stroke-width="1.1"/>
<path d="M88 956.1 L88 958.7 L126.1 958.7 L126.1 956.1" stroke="#000" stroke-width="1.1" fill="none"/>
<text x="107.1" y="969.9" font-size="10" text-anchor="middle" fill="#000">0.073</text>
<text x="87.2" y="1001.4" font-size="12.3" text-anchor="middle" fill="#000">Ctrl</text>
<text x="123.9" y="1001.4" font-size="12.3" text-anchor="middle" fill="#000">MT</text>
<text x="38.2" y="918.6" font-size="13.6" text-anchor="middle" fill="#000" transform="rotate(-90 38.2 918.6)">sEPSC amplitude (pA)</text>
<line x1="229.4" y1="856.28" x2="229.4" y2="982.4" stroke="#000" stroke-width="1.2"/>
<line x1="229.4" y1="981.9" x2="317.2" y2="981.9" stroke="#000" stroke-width="1.2"/>
<line x1="224.6" y1="981.9" x2="229.4" y2="981.9" stroke="#000" stroke-width="1.1"/>
<text x="223.2" y="985.8" font-size="10.2" text-anchor="end" fill="#000">0</text>
<line x1="224.6" y1="950.62" x2="229.4" y2="950.62" stroke="#000" stroke-width="1.1"/>
<text x="223.2" y="954.52" font-size="10.2" text-anchor="end" fill="#000">2</text>
<line x1="224.6" y1="919.34" x2="229.4" y2="919.34" stroke="#000" stroke-width="1.1"/>
<text x="223.2" y="923.24" font-size="10.2" text-anchor="end" fill="#000">4</text>
<line x1="224.6" y1="888.06" x2="229.4" y2="888.06" stroke="#000" stroke-width="1.1"/>
<text x="223.2" y="891.96" font-size="10.2" text-anchor="end" fill="#000">6</text>
<line x1="224.6" y1="856.78" x2="229.4" y2="856.78" stroke="#000" stroke-width="1.1"/>
<text x="223.2" y="860.68" font-size="10.2" text-anchor="end" fill="#000">8</text>
<line x1="254.9" y1="981.9" x2="254.9" y2="985" stroke="#000" stroke-width="1.1"/>
<line x1="292.2" y1="981.9" x2="292.2" y2="985" stroke="#000" stroke-width="1.1"/>
<line x1="254.7" y1="891.7" x2="254.7" y2="908.8" stroke="#000" stroke-width="1.1"/>
<line x1="248.8" y1="891.7" x2="260.6" y2="891.7" stroke="#000" stroke-width="1.1"/>
<rect x="242.3" y="908.8" width="24.4" height="73.1" fill="#000" stroke="#000" stroke-width="1.1"/>
<line x1="292.3" y1="959.3" x2="292.3" y2="964" stroke="#000" stroke-width="1.1"/>
<line x1="286.4" y1="959.3" x2="298.2" y2="959.3" stroke="#000" stroke-width="1.1"/>
<rect x="279.8" y="964" width="23.7" height="17.9" fill="#ff1e0a" stroke="#000" stroke-width="1.1"/>
<path d="M254.4 882.5 L254.4 879.9 L292.5 879.9 L292.5 882.5" stroke="#000" stroke-width="1.1" fill="none"/>
<text x="274.6" y="882.6" font-size="15" text-anchor="middle" fill="#000">**</text>
<text x="253.3" y="1001.4" font-size="12.3" text-anchor="middle" fill="#000">Ctrl</text>
<text x="291" y="1001.4" font-size="12.3" text-anchor="middle" fill="#000">MT</text>
<text x="206" y="921.3" font-size="13.6" text-anchor="middle" fill="#000" transform="rotate(-90 206 921.3)">sEPSC frequency (Hz)</text>
<text x="360.2" y="751.6" font-size="22" text-anchor="start" fill="#1e1414">J</text>
<text x="450.1" y="756.5" font-size="14.3" text-anchor="middle" fill="#000">Ctrl</text>
<text x="608.6" y="756.5" font-size="14.3" text-anchor="middle" fill="#000">MT</text>
<path d="M385.8 801.29 L386 803.03 L386.2 804.56 L386.4 806.39 L386.6 800.55 L386.8 800.58 L387 800.19 L387.2 801.27 L387.4 801.81 L387.6 799.73 L387.8 802.33 L388 799.56 L388.2 802.84 L388.4 800.68 L388.6 802.58 L388.8 803.25 L389 802.3 L389.2 801.17 L389.4 800.58 L389.6 799.77 L389.8 804.89 L390 804.03 L390.2 806.38 L390.4 803.9 L390.6 803.34 L390.8 801.39 L391 801.66 L391.2 799.12 L391.4 801.2 L391.6 790.11 L391.8 793.94 L392 796.74 L392.2 793.87 L392.4 791.78 L392.6 798.49 L392.8 799.57 L393 797.9 L393.2 798.11 L393.4 801.92 L393.6 804.92 L393.8 803.02 L394 800.56 L394.2 803.23 L394.4 804.38 L394.6 800.11 L394.8 803.2 L395 800.42 L395.2 801.88 L395.4 803.13 L395.6 802.53 L395.8 799.32 L396 802.45 L396.2 799.49 L396.4 803.12 L396.6 798.65 L396.8 800.58 L397 801 L397.2 800.64 L397.4 802.41 L397.6 802.85 L397.8 806.07 L398 803.98 L398.2 804.87 L398.4 800.56 L398.6 804.11 L398.8 804.43 L399 805.5 L399.2 805.8 L399.4 801.23 L399.6 799.47 L399.8 800.2 L400 800.63 L400.2 804.78 L400.4 798.84 L400.6 801.71 L400.8 804.22 L401 802.39 L401.2 799.46 L401.4 799.97 L401.6 802.94 L401.8 803.92 L402 802.32 L402.2 803 L402.4 805.25 L402.6 802.21 L402.8 806.28 L403 801.12 L403.2 805.9 L403.4 800.14 L403.6 804.58 L403.8 802.78 L404 799.31 L404.2 801.96 L404.4 803.34 L404.6 803.68 L404.8 802.81 L405 802.05 L405.2 801.65 L405.4 802.37 L405.6 804.76 L405.8 803.75 L406 803.99 L406.2 803.02 L406.4 805.27 L406.6 807.24 L406.8 807.24 L407 800.97 L407.2 800.29 L407.4 799.79 L407.6 801.07 L407.8 806.01 L408 802.3 L408.2 802.5 L408.4 801.92 L408.6 798.39 L408.8 799.1 L409 800.19 L409.2 800.14 L409.4 801.17 L409.6 801.11 L409.8 801.6 L410 798.87 L410.2 803.65 L410.4 803.56 L410.6 801.09 L410.8 801.06 L411 800.27 L411.2 797.99 L411.4 802.79 L411.6 801.49 L411.8 804.29 L412 805.74 L412.2 800.26 L412.4 799.58 L412.6 802.8 L412.8 801.27 L413 800.71 L413.2 801.14 L413.4 783.18 L413.6 761.64 L413.8 768.39 L414 774.86 L414.2 775.46 L414.4 778.33 L414.6 782.66 L414.8 786.45 L415 788.87 L415.2 789.77 L415.4 793.55 L415.6 790.82 L415.8 795.92 L416 795.65 L416.2 794.56 L416.4 792.73 L416.6 799.04 L416.8 798.2 L417 799.12 L417.2 801.79 L417.4 798.66 L417.6 800.79 L417.8 801.66 L418 803.66 L418.2 801.59 L418.4 804.49 L418.6 800.37 L418.8 800.67 L419 799.65 L419.2 798.94 L419.4 804.33 L419.6 802.61 L419.8 801.69 L420 802.05 L420.2 802.08 L420.4 798.78 L420.6 800.3 L420.8 802.37 L421 798.03 L421.2 781.81 L421.4 785.11 L421.6 789.13 L421.8 791.71 L422 795.4 L422.2 798.96 L422.4 801.1 L422.6 797.76 L422.8 800.92 L423 802.68 L423.2 798.46 L423.4 798.46 L423.6 802.45 L423.8 803.65 L424 803.61 L424.2 805.76 L424.4 804.38 L424.6 805.47 L424.8 802.87 L425 802.39 L425.2 800.43 L425.4 802.1 L425.6 801.45 L425.8 800.87 L426 803.26 L426.2 803.22 L426.4 801.56 L426.6 802.56 L426.8 803 L427 803.31 L427.2 801.08 L427.4 803.37 L427.6 801.53 L427.8 802.75 L428 801.28 L428.2 806.24 L428.4 800.1 L428.6 803.92 L428.8 800.56 L429 805.25 L429.2 800.29 L429.4 803.33 L429.6 785.01 L429.8 782.69 L430 780.35 L430.2 783.23 L430.4 786.62 L430.6 789.19 L430.8 787.71 L431 785.71 L431.2 789.3 L431.4 790.09 L431.6 792.54 L431.8 792.6 L432 791.96 L432.2 794.11 L432.4 798.33 L432.6 797.9 L432.8 796.24 L433 798.3 L433.2 794.9 L433.4 796.22 L433.6 797.83 L433.8 797.79 L434 797.48 L434.2 798.94 L434.4 803.16 L434.6 800.35 L434.8 800.89 L435 803.8 L435.2 795.94 L435.4 798.92 L435.6 802.1 L435.8 797.97 L436 799.41 L436.2 803.39 L436.4 801.74 L436.6 801.71 L436.8 805.67 L437 798.24 L437.2 803.07 L437.4 799.11 L437.6 801.85 L437.8 802.82 L438 802.11 L438.2 801.17 L438.4 803.28 L438.6 802.9 L438.8 803.68 L439 804.19 L439.2 803.51 L439.4 805.74 L439.6 801.69 L439.8 797.88 L440 797.27 L440.2 800.52 L440.4 798.87 L440.6 800.46 L440.8 801.75 L441 804.97 L441.2 799.93 L441.4 802.42 L441.6 799.21 L441.8 803.14 L442 797.65 L442.2 804.19 L442.4 801.72 L442.6 806.38 L442.8 803.19 L443 800.18 L443.2 800.61 L443.4 800.18 L443.6 802.09 L443.8 804.41 L444 802.86 L444.2 801.38 L444.4 801.13 L444.6 805.26 L444.8 800.52 L445 803.04 L445.2 800.21 L445.4 799.8 L445.6 802.73 L445.8 798.64 L446 804.51 L446.2 805.79 L446.4 800.51 L446.6 799.16 L446.8 800.86 L447 800.86 L447.2 800.01 L447.4 803.49 L447.6 806.53 L447.8 802.48 L448 803.24 L448.2 801.07 L448.4 801.49 L448.6 800.41 L448.8 801.13 L449 801.8 L449.2 800.86 L449.4 801.84 L449.6 800.12 L449.8 801.99 L450 798.23 L450.2 801.92 L450.4 801.19 L450.6 802.43 L450.8 801.49 L451 801.26 L451.2 801.53 L451.4 800.6 L451.6 801.22 L451.8 797.15 L452 798.97 L452.2 801.38 L452.4 786.89 L452.6 780.9 L452.8 788.66 L453 787.93 L453.2 796.88 L453.4 797.85 L453.6 799.48 L453.8 802.28 L454 799.34 L454.2 800.93 L454.4 802.58 L454.6 799.73 L454.8 800.27 L455 800.97 L455.2 801.77 L455.4 799.21 L455.6 800.56 L455.8 799.67 L456 802.53 L456.2 800.27 L456.4 802.43 L456.6 801.41 L456.8 800.03 L457 802.53 L457.2 802.48 L457.4 800.76 L457.6 803.03 L457.8 804.31 L458 782.74 L458.2 783.23 L458.4 783.74 L458.6 790.72 L458.8 795.62 L459 797.48 L459.2 798.67 L459.4 798.53 L459.6 800.51 L459.8 797.61 L460 803.46 L460.2 796.86 L460.4 780.63 L460.6 769.66 L460.8 775.11 L461 777.77 L461.2 779.27 L461.4 785.82 L461.6 785.22 L461.8 786.25 L462 788.98 L462.2 792.24 L462.4 793.35 L462.6 792.38 L462.8 794.3 L463 795.1 L463.2 795.37 L463.4 794.68 L463.6 796.83 L463.8 794.09 L464 798.89 L464.2 800.04 L464.4 798.24 L464.6 797.59 L464.8 794.72 L465 797.74 L465.2 800.84 L465.4 796.44 L465.6 800.46 L465.8 798.58 L466 803.45 L466.2 801.83 L466.4 803.08 L466.6 800.42 L466.8 799.93 L467 798.56 L467.2 803.22 L467.4 800.47 L467.6 800.86 L467.8 798.27 L468 800.56 L468.2 798.65 L468.4 800.62 L468.6 803.28 L468.8 800.14 L469 798.66 L469.2 801.04 L469.4 800.99 L469.6 799.43 L469.8 797.34 L470 800.48 L470.2 801.67 L470.4 801.59 L470.6 803.69 L470.8 802.33 L471 802.04 L471.2 789.34 L471.4 781.86 L471.6 784.13 L471.8 784.86 L472 789.2 L472.2 788.8 L472.4 791.66 L472.6 790.92 L472.8 793.47 L473 795.93 L473.2 795.85 L473.4 797.35 L473.6 796.45 L473.8 793.59 L474 798.25 L474.2 796.96 L474.4 795.57 L474.6 800.6 L474.8 798.99 L475 798.35 L475.2 796.2 L475.4 800.84 L475.6 799.6 L475.8 797.77 L476 800.84 L476.2 802.26 L476.4 802.18 L476.6 802.54 L476.8 802.88 L477 798.75 L477.2 798.33 L477.4 801.39 L477.6 803.61 L477.8 805.72 L478 800.06 L478.2 800.86 L478.4 799.85 L478.6 800.98 L478.8 799.89 L479 801.36 L479.2 801.14 L479.4 803.11 L479.6 801.81 L479.8 805.52 L480 804.35 L480.2 803.27 L480.4 801.11 L480.6 802.53 L480.8 800.34 L481 801.62 L481.2 800.59 L481.4 803.22 L481.6 801.08 L481.8 801.6 L482 803.6 L482.2 802.48 L482.4 801.75 L482.6 799.08 L482.8 801.49 L483 803.89 L483.2 802.03 L483.4 800.95 L483.6 802.78 L483.8 806.08 L484 803.12 L484.2 801.51 L484.4 800.25 L484.6 801.54 L484.8 798.79 L485 770.94 L485.2 767.19 L485.4 777.67 L485.6 777.3 L485.8 783.44 L486 785.85 L486.2 786.98 L486.4 792.33 L486.6 796.01 L486.8 795.03 L487 795.71 L487.2 797.38 L487.4 799.63 L487.6 799.79 L487.8 799.05 L488 798.65 L488.2 800.12 L488.4 797.83 L488.6 799.76 L488.8 803.08 L489 801.86 L489.2 801.07 L489.4 799.2 L489.6 798.85 L489.8 802.78 L490 801.59 L490.2 799.51 L490.4 798.76 L490.6 800.17 L490.8 804.66 L491 802.47 L491.2 797.38 L491.4 800.27 L491.6 802.12 L491.8 799.19 L492 801.16 L492.2 804.6 L492.4 800.91 L492.6 798.25 L492.8 800.21 L493 803.25 L493.2 800.21 L493.4 801.68 L493.6 802.28 L493.8 801.87 L494 801.91 L494.2 798.67 L494.4 806.05 L494.6 796.35 L494.8 796.31 L495 795.69 L495.2 795.19 L495.4 794.48 L495.6 795.84 L495.8 798.74 L496 798.32 L496.2 803.09 L496.4 801.37 L496.6 801.53 L496.8 804.96 L497 803.14 L497.2 798.25 L497.4 802.9 L497.6 799.24 L497.8 798.98 L498 803.46 L498.2 802.69 L498.4 798.71 L498.6 802.67 L498.8 807.09 L499 799.58 L499.2 799.76 L499.4 798.42 L499.6 801.1 L499.8 800.74 L500 800.96 L500.2 798.45 L500.4 801.68 L500.6 801.33 L500.8 806.3 L501 802.67 L501.2 799 L501.4 798.66 L501.6 801.02 L501.8 800.7 L502 800.46 L502.2 804.33 L502.4 802.7 L502.6 801.46 L502.8 799.85 L503 799.84" stroke="#0a0a0a" stroke-width="0.9" fill="none"/>
<line x1="452.54" y1="802.28" x2="452.54" y2="817.9" stroke="#888" stroke-width="0.5"/>
<line x1="420.03" y1="803.29" x2="420.03" y2="812" stroke="#888" stroke-width="0.5"/>
<line x1="470.61" y1="801.91" x2="470.61" y2="813" stroke="#888" stroke-width="0.5"/>
<line x1="391.13" y1="803.3" x2="391.13" y2="811" stroke="#888" stroke-width="0.5"/>
<path d="M553.2 806.72 L553.4 805.59 L553.6 805.79 L553.8 806.08 L554 803.82 L554.2 802.38 L554.4 802.68 L554.6 804.71 L554.8 806.08 L555 805.09 L555.2 802.88 L555.4 806.17 L555.6 802.76 L555.8 803.58 L556 803.63 L556.2 804.74 L556.4 806.1 L556.6 802.87 L556.8 803.8 L557 804.84 L557.2 803.04 L557.4 804.13 L557.6 804.72 L557.8 802.77 L558 802.42 L558.2 804.03 L558.4 804.12 L558.6 804.74 L558.8 807.54 L559 806.32 L559.2 805.46 L559.4 803.73 L559.6 805.59 L559.8 803.65 L560 806.43 L560.2 806.46 L560.4 802.16 L560.6 802.41 L560.8 803.78 L561 803.77 L561.2 802.6 L561.4 802.41 L561.6 805 L561.8 803.82 L562 802.23 L562.2 803.6 L562.4 805.55 L562.6 806.9 L562.8 804.98 L563 804.08 L563.2 803.24 L563.4 803.45 L563.6 804.91 L563.8 806.17 L564 806.4 L564.2 804.44 L564.4 805.57 L564.6 805.62 L564.8 805.21 L565 801.21 L565.2 803.62 L565.4 803.81 L565.6 806.01 L565.8 804.28 L566 804.92 L566.2 804.79 L566.4 806.12 L566.6 805.7 L566.8 805.97 L567 806.65 L567.2 806.06 L567.4 805.7 L567.6 804.22 L567.8 804.4 L568 807.22 L568.2 804.91 L568.4 805.09 L568.6 804.33 L568.8 803.89 L569 800.75 L569.2 805.75 L569.4 802.96 L569.6 802.87 L569.8 805.8 L570 801.38 L570.2 803.71 L570.4 803.38 L570.6 801.58 L570.8 804.54 L571 803.25 L571.2 803.9 L571.4 803.58 L571.6 804.96 L571.8 807.42 L572 803.17 L572.2 805.17 L572.4 803.48 L572.6 803.59 L572.8 801.54 L573 802.14 L573.2 803.22 L573.4 805.11 L573.6 804.72 L573.8 805.09 L574 805.37 L574.2 802.57 L574.4 805.84 L574.6 804.09 L574.8 805.11 L575 804.14 L575.2 804.55 L575.4 805.14 L575.6 801.35 L575.8 806.35 L576 804.87 L576.2 805.81 L576.4 804.82 L576.6 804.44 L576.8 802.46 L577 803.32 L577.2 801.04 L577.4 803.36 L577.6 806.16 L577.8 802.05 L578 802.84 L578.2 803.43 L578.4 805.62 L578.6 806.16 L578.8 804.68 L579 804.43 L579.2 804.03 L579.4 803.51 L579.6 803.42 L579.8 803.42 L580 803.85 L580.2 804.25 L580.4 803.36 L580.6 804.89 L580.8 804.3 L581 804.96 L581.2 802.53 L581.4 802.94 L581.6 804.1 L581.8 804.59 L582 804.06 L582.2 806.28 L582.4 804.36 L582.6 806.19 L582.8 806.52 L583 805.64 L583.2 805.13 L583.4 805.17 L583.6 804.24 L583.8 802.73 L584 803.25 L584.2 803.21 L584.4 803.5 L584.6 803.12 L584.8 802.59 L585 804.12 L585.2 806.17 L585.4 803.48 L585.6 801.64 L585.8 802.98 L586 802.37 L586.2 802.53 L586.4 802.2 L586.6 803.69 L586.8 804.89 L587 807.47 L587.2 803.35 L587.4 802.21 L587.6 803.67 L587.8 804.01 L588 806.44 L588.2 806.52 L588.4 803.87 L588.6 801.48 L588.8 804.55 L589 803.79 L589.2 806.1 L589.4 804.55 L589.6 804.21 L589.8 802.73 L590 804 L590.2 805.87 L590.4 803.59 L590.6 804.51 L590.8 803.63 L591 805.48 L591.2 804.56 L591.4 805.19 L591.6 805.01 L591.8 803.35 L592 802.67 L592.2 805.87 L592.4 804.27 L592.6 803.03 L592.8 803.3 L593 806.48 L593.2 805 L593.4 806.09 L593.6 801.72 L593.8 807.05 L594 805.13 L594.2 806.44 L594.4 804.48 L594.6 804.44 L594.8 805.68 L595 807.32 L595.2 805.32 L595.4 803.79 L595.6 805.78 L595.8 807.68 L596 803.37 L596.2 803.2 L596.4 805.18 L596.6 804.13 L596.8 801.51 L597 803.98 L597.2 804.88 L597.4 805.62 L597.6 806.73 L597.8 803.29 L598 803.64 L598.2 804.37 L598.4 805.17 L598.6 803.75 L598.8 804.52 L599 803.6 L599.2 805.63 L599.4 806.58 L599.6 804.04 L599.8 805.38 L600 803.44 L600.2 805.01 L600.4 802.85 L600.6 804.7 L600.8 806.31 L601 806.3 L601.2 802.57 L601.4 804.52 L601.6 804.24 L601.8 806.6 L602 805.71 L602.2 806.97 L602.4 804.5 L602.6 803.19 L602.8 801.28 L603 804.5 L603.2 804.39 L603.4 805.16 L603.6 804.69 L603.8 805.15 L604 806.88 L604.2 803.63 L604.4 805.35 L604.6 806.69 L604.8 805.96 L605 807.63 L605.2 805.02 L605.4 805.14 L605.6 804.56 L605.8 804.4 L606 807.23 L606.2 803.45 L606.4 803.85 L606.6 804.04 L606.8 804.8 L607 804.52 L607.2 805.73 L607.4 805.83 L607.6 807.59 L607.8 806.68 L608 804.09 L608.2 802.65 L608.4 803.97 L608.6 803.97 L608.8 804.45 L609 806.69 L609.2 805.81 L609.4 803.33 L609.6 803.62 L609.8 806.91 L610 803.78 L610.2 805.78 L610.4 806.34 L610.6 803.67 L610.8 803.01 L611 805.08 L611.2 805.46 L611.4 806.51 L611.6 806.11 L611.8 803.92 L612 807.29 L612.2 805.77 L612.4 805.4 L612.6 805.42 L612.8 803.11 L613 803.59 L613.2 805.9 L613.4 806.2 L613.6 804.64 L613.8 805.17 L614 804.41 L614.2 804.22 L614.4 804.36 L614.6 803.47 L614.8 803.82 L615 804.71 L615.2 805.06 L615.4 804.91 L615.6 804.84 L615.8 805.65 L616 805.41 L616.2 805.3 L616.4 804.66 L616.6 804.97 L616.8 806.2 L617 806.31 L617.2 805 L617.4 804.3 L617.6 804.04 L617.8 803.5 L618 807.02 L618.2 804.41 L618.4 806.29 L618.6 805.33 L618.8 806.1 L619 804.58 L619.2 804.77 L619.4 806.49 L619.6 807.58 L619.8 805.98 L620 806.92 L620.2 806.52 L620.4 806.78 L620.6 806.02 L620.8 805.3 L621 808.47 L621.2 805.47 L621.4 806.46 L621.6 805.2 L621.8 805.85 L622 804.62 L622.2 804.18 L622.4 804.84 L622.6 806.29 L622.8 803.97 L623 806.87 L623.2 805.68 L623.4 805.97 L623.6 804.5 L623.8 806.59 L624 805.35 L624.2 805.87 L624.4 803.19 L624.6 807.48 L624.8 806.82 L625 804.63 L625.2 804.32 L625.4 805.36 L625.6 804.2 L625.8 803.1 L626 804.67 L626.2 806.98 L626.4 806.49 L626.6 806.15 L626.8 804.8 L627 807.45 L627.2 804.45 L627.4 803.94 L627.6 803.35 L627.8 805.47 L628 804.2 L628.2 805.1 L628.4 806.33 L628.6 803.3 L628.8 803.76 L629 805.78 L629.2 805.54 L629.4 805.11 L629.6 805.23 L629.8 804.36 L630 805.46 L630.2 806.38 L630.4 804.55 L630.6 804.2 L630.8 803.35 L631 804.6 L631.2 806.59 L631.4 804.57 L631.6 804.77 L631.8 806.95 L632 804.41 L632.2 804.58 L632.4 804.98 L632.6 804.91 L632.8 807.81 L633 805.41 L633.2 807.14 L633.4 806.3 L633.6 808.15 L633.8 808.6 L634 803.68 L634.2 805.46 L634.4 805.08 L634.6 807.04 L634.8 807.84 L635 806.05 L635.2 805.17 L635.4 805.9 L635.6 803.73 L635.8 805.36 L636 805.89 L636.2 805.44 L636.4 803.87 L636.6 805.94 L636.8 804.98 L637 804.31 L637.2 805.43 L637.4 803.94 L637.6 806.09 L637.8 805.14 L638 803.81 L638.2 805.16 L638.4 807.71 L638.6 807.02 L638.8 803.47 L639 803.43 L639.2 805.53 L639.4 806.35 L639.6 804.99 L639.8 806 L640 803.65 L640.2 805.83 L640.4 803.09 L640.6 805.1 L640.8 806.74 L641 805.14 L641.2 805.96 L641.4 801.94 L641.6 805.52 L641.8 804.78 L642 805.94 L642.2 803.3 L642.4 807.03 L642.6 805.59 L642.8 807.29 L643 803.6 L643.2 803.46 L643.4 806.41 L643.6 805.82 L643.8 803.72 L644 803.73 L644.2 803.58 L644.4 806 L644.6 804.24 L644.8 804.75 L645 806.19 L645.2 803.93 L645.4 803.91 L645.6 803.69 L645.8 806.21 L646 804.38 L646.2 806.08 L646.4 806.02 L646.6 805.57 L646.8 806.06 L647 805.99 L647.2 804.34 L647.4 805.78 L647.6 808.2 L647.8 806.3 L648 805.05 L648.2 804.93 L648.4 804.39 L648.6 804.41 L648.8 801.91 L649 802.8 L649.2 805.7 L649.4 805.39 L649.6 805.28 L649.8 803.89 L650 804.78 L650.2 804.98 L650.4 803.91 L650.6 802.29 L650.8 803 L651 804.82 L651.2 805.63 L651.4 804.67 L651.6 805.34 L651.8 802.37 L652 801.85 L652.2 804.69 L652.4 803.21 L652.6 806.84 L652.8 804.93 L653 802.71 L653.2 805.23 L653.4 802.93 L653.6 805.02 L653.8 803.65 L654 802.02 L654.2 806.28 L654.4 803.76 L654.6 804.78 L654.8 804.97 L655 803.38 L655.2 802.71 L655.4 804.96 L655.6 806.74 L655.8 806.25 L656 804.47 L656.2 804.16 L656.4 805.3 L656.6 805.21 L656.8 802.37 L657 805.03 L657.2 805.21 L657.4 802.45 L657.6 803.8 L657.8 802.65 L658 805.1 L658.2 805.17 L658.4 804.51 L658.6 804.08 L658.8 804.31 L659 804.59 L659.2 803.84 L659.4 805.3 L659.6 803.69 L659.8 804.31 L660 803.67 L660.2 804 L660.4 804.87 L660.6 801.94 L660.8 801.43 L661 805.18 L661.2 803.59 L661.4 802.67 L661.6 803.01 L661.8 802.92 L662 805.87 L662.2 806.81 L662.4 805.18 L662.6 807.17 L662.8 803.58 L663 805.27 L663.2 803.52 L663.4 803.25 L663.6 806.67 L663.8 804.59 L664 803.4 L664.2 804.89 L664.4 806.8 L664.6 802.67 L664.8 803.47 L665 804.64 L665.2 802.85 L665.4 803.62 L665.6 802.39 L665.8 804.51 L666 806.02 L666.2 804.74 L666.4 803.61 L666.6 802.54 L666.8 805.63 L667 804.52 L667.2 806.06 L667.4 803.56 L667.6 802.78 L667.8 803.79 L668 804.44 L668.2 805.71 L668.4 805.25 L668.6 804.22 L668.8 803.01 L669 802.84 L669.2 804.78 L669.4 804.86 L669.6 804.3 L669.8 804.8 L670 806.43 L670.2 806.05 L670.4 803.84 L670.6 806 L670.8 802.94 L671 804.07 L671.2 803.84 L671.4 804.23 L671.6 804.83 L671.8 804.63 L672 805.11 L672.2 802.46 L672.4 805.86 L672.6 804.03 L672.8 804.44" stroke="#0a0a0a" stroke-width="0.9" fill="none"/>
<path d="M555.1 804 L555.4 769.7 L555.85 804" stroke="#999" stroke-width="0.6" fill="none"/>
<path d="M557.75 804 L558.05 784.9 L558.5 804" stroke="#777" stroke-width="0.6" fill="none"/>
<path d="M562.09 804 L562.39 787.8 L562.84 804" stroke="#555" stroke-width="0.6" fill="none"/>
<path d="M564.26 804 L564.56 790 L565.01 804" stroke="#666" stroke-width="0.6" fill="none"/>
<path d="M579.19 804 L579.49 787.3 L579.94 804" stroke="#333" stroke-width="0.6" fill="none"/>
<path d="M586.17 804 L586.47 789 L586.92 804" stroke="#444" stroke-width="0.6" fill="none"/>
<path d="M606.89 804 L607.19 793.8 L607.64 804" stroke="#888" stroke-width="0.6" fill="none"/>
<path d="M637.23 804 L637.53 764.9 L637.98 804" stroke="#444" stroke-width="0.6" fill="none"/>
<path d="M643.01 804 L643.31 752.2 L643.76 804" stroke="#999" stroke-width="0.6" fill="none"/>
<path d="M661.8 804 L662.1 795.5 L662.55 804" stroke="#777" stroke-width="0.6" fill="none"/>
<path d="M374.5 816.1 L374.5 826.6 L386 826.6" stroke="#222" stroke-width="0.9" fill="none"/>
<text x="371.9" y="815.6" font-size="8.1" text-anchor="middle" fill="#000" font-weight="bold" transform="rotate(-90 371.9 815.6)">20 pA</text>
<text x="375.2" y="835" font-size="8.2" text-anchor="start" fill="#000" font-weight="bold">1.0 s</text>
<path d="M540.3 816.9 L540.3 828.6 L552.1 828.6" stroke="#222" stroke-width="0.9" fill="none"/>
<text x="537.8" y="817.2" font-size="8.1" text-anchor="middle" fill="#000" font-weight="bold" transform="rotate(-90 537.8 817.2)">20 pA</text>
<text x="540.7" y="836.8" font-size="8.2" text-anchor="start" fill="#000" font-weight="bold">1.0 s</text>
<line x1="412.3" y1="854.4" x2="412.3" y2="981.8" stroke="#000" stroke-width="1.2"/>
<line x1="412.3" y1="981.3" x2="500.8" y2="981.3" stroke="#000" stroke-width="1.2"/>
<line x1="407" y1="981.3" x2="412.3" y2="981.3" stroke="#000" stroke-width="1.1"/>
<text x="404.9" y="985.2" font-size="10.2" text-anchor="end" fill="#000">0</text>
<line x1="407" y1="949.7" x2="412.3" y2="949.7" stroke="#000" stroke-width="1.1"/>
<text x="404.9" y="953.6" font-size="10.2" text-anchor="end" fill="#000">10</text>
<line x1="407" y1="918.1" x2="412.3" y2="918.1" stroke="#000" stroke-width="1.1"/>
<text x="404.9" y="922" font-size="10.2" text-anchor="end" fill="#000">20</text>
<line x1="407" y1="886.5" x2="412.3" y2="886.5" stroke="#000" stroke-width="1.1"/>
<text x="404.9" y="890.4" font-size="10.2" text-anchor="end" fill="#000">30</text>
<line x1="407" y1="854.9" x2="412.3" y2="854.9" stroke="#000" stroke-width="1.1"/>
<text x="404.9" y="858.8" font-size="10.2" text-anchor="end" fill="#000">40</text>
<line x1="437.2" y1="981.3" x2="437.2" y2="985" stroke="#000" stroke-width="1.1"/>
<line x1="475.1" y1="981.3" x2="475.1" y2="985" stroke="#000" stroke-width="1.1"/>
<line x1="437.5" y1="878.1" x2="437.5" y2="891.2" stroke="#000" stroke-width="1.1"/>
<line x1="431.2" y1="878.1" x2="443.8" y2="878.1" stroke="#000" stroke-width="1.1"/>
<rect x="424.6" y="891.2" width="25.5" height="90.1" fill="#000" stroke="#000" stroke-width="1.1"/>
<line x1="475.4" y1="877.8" x2="475.4" y2="900.9" stroke="#000" stroke-width="1.1"/>
<line x1="469.2" y1="877.8" x2="481.6" y2="877.8" stroke="#000" stroke-width="1.1"/>
<rect x="462.7" y="900.9" width="24.5" height="80.4" fill="#e8281e" stroke="#000" stroke-width="1.1"/>
<text x="435.5" y="1000.6" font-size="12.3" text-anchor="middle" fill="#000">Ctrl</text>
<text x="476.2" y="1000.6" font-size="12.3" text-anchor="middle" fill="#000">MT</text>
<text x="388.2" y="918.7" font-size="13.6" text-anchor="middle" fill="#000" transform="rotate(-90 388.2 918.7)">sIPSC amplitude (pA)</text>
<line x1="586.2" y1="857.95" x2="586.2" y2="981.8" stroke="#000" stroke-width="1.2"/>
<line x1="586.2" y1="981.3" x2="672.9" y2="981.3" stroke="#000" stroke-width="1.2"/>
<line x1="581.4" y1="981.3" x2="586.2" y2="981.3" stroke="#000" stroke-width="1.1"/>
<text x="580.4" y="985.2" font-size="10.2" text-anchor="end" fill="#000">0.0</text>
<line x1="581.4" y1="940.35" x2="586.2" y2="940.35" stroke="#000" stroke-width="1.1"/>
<text x="580.4" y="944.25" font-size="10.2" text-anchor="end" fill="#000">0.5</text>
<line x1="581.4" y1="899.4" x2="586.2" y2="899.4" stroke="#000" stroke-width="1.1"/>
<text x="580.4" y="903.3" font-size="10.2" text-anchor="end" fill="#000">1.0</text>
<line x1="581.4" y1="858.45" x2="586.2" y2="858.45" stroke="#000" stroke-width="1.1"/>
<text x="580.4" y="862.35" font-size="10.2" text-anchor="end" fill="#000">1.5</text>
<line x1="611.5" y1="981.3" x2="611.5" y2="985.3" stroke="#000" stroke-width="1.1"/>
<line x1="647.6" y1="981.3" x2="647.6" y2="985.3" stroke="#000" stroke-width="1.1"/>
<line x1="611.9" y1="880.6" x2="611.9" y2="901.8" stroke="#000" stroke-width="1.1"/>
<line x1="606.2" y1="880.6" x2="617.6" y2="880.6" stroke="#000" stroke-width="1.1"/>
<rect x="600.2" y="901.8" width="23.4" height="79.5" fill="#000" stroke="#000" stroke-width="1.1"/>
<line x1="647.7" y1="962.5" x2="647.7" y2="966.3" stroke="#000" stroke-width="1.1"/>
<line x1="641.7" y1="962.5" x2="653.7" y2="962.5" stroke="#000" stroke-width="1.1"/>
<rect x="636.3" y="966.3" width="23.9" height="15" fill="#ff1e0a" stroke="#000" stroke-width="1.1"/>
<path d="M611.5 874.6 L611.5 871.4 L648.4 871.4 L648.4 874.6" stroke="#000" stroke-width="1.1" fill="none"/>
<text x="631.8" y="875.2" font-size="15" text-anchor="middle" fill="#000">**</text>
<text x="608.5" y="1000.6" font-size="12.3" text-anchor="middle" fill="#000">Ctrl</text>
<text x="647" y="1000.6" font-size="12.3" text-anchor="middle" fill="#000">MT</text>
<text x="560.5" y="917.9" font-size="13.6" text-anchor="middle" fill="#000" transform="rotate(-90 560.5 917.9)">sIPSC frequency (Hz)</text></svg>
</body></html>
